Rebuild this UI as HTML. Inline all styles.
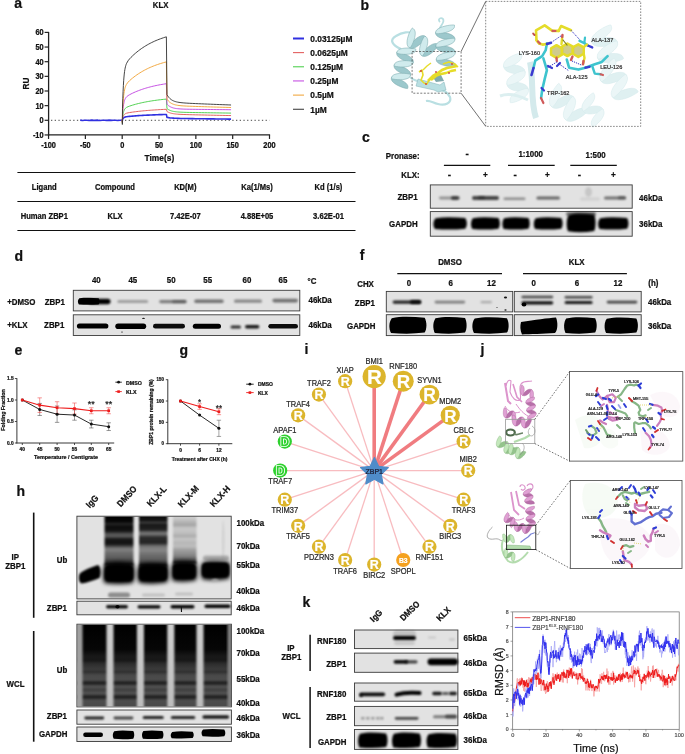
<!DOCTYPE html>
<html><head><meta charset="utf-8"><style>
html,body{margin:0;padding:0;background:#fff;}
svg{display:block;font-family:"Liberation Sans", sans-serif;filter:blur(0.35px);}
</style></head><body>
<svg width="685" height="754" viewBox="0 0 685 754">
<defs>
<filter id="b04" x="-30%" y="-200%" width="160%" height="500%"><feGaussianBlur stdDeviation="0.4"/></filter>
<filter id="b08" x="-30%" y="-200%" width="160%" height="500%"><feGaussianBlur stdDeviation="0.8"/></filter>
<filter id="b12" x="-30%" y="-200%" width="160%" height="500%"><feGaussianBlur stdDeviation="1.2"/></filter>
<filter id="b2" x="-30%" y="-200%" width="160%" height="500%"><feGaussianBlur stdDeviation="2"/></filter>
<filter id="b3" x="-30%" y="-200%" width="160%" height="500%"><feGaussianBlur stdDeviation="3"/></filter>
</defs>
<rect width="685" height="754" fill="#fff"/>
<text x="14.20" y="7.70" font-size="14" font-weight="bold" text-anchor="start" fill="#111" stroke="#111" stroke-width="0.22">a</text>
<text x="160.60" y="8.43" font-size="7.8" font-weight="bold" text-anchor="middle" fill="#111" stroke="#111" stroke-width="0.22" transform="translate(0 8.43) scale(1 1.1) translate(0 -8.43)">KLX</text>
<line x1="48.60" y1="31.90" x2="48.60" y2="135.65" stroke="#222" stroke-width="1.3"/>
<line x1="48.00" y1="134.95" x2="270.10" y2="134.95" stroke="#222" stroke-width="1.3"/>
<line x1="44.60" y1="134.95" x2="48.60" y2="134.95" stroke="#222" stroke-width="1.2"/>
<text x="43.60" y="137.92" font-size="7.4" font-weight="bold" text-anchor="end" fill="#111" stroke="#111" stroke-width="0.22" transform="translate(0 137.92) scale(1 1.1) translate(0 -137.92)">-10</text>
<line x1="44.60" y1="120.30" x2="48.60" y2="120.30" stroke="#222" stroke-width="1.2"/>
<text x="43.60" y="123.27" font-size="7.4" font-weight="bold" text-anchor="end" fill="#111" stroke="#111" stroke-width="0.22" transform="translate(0 123.27) scale(1 1.1) translate(0 -123.27)">0</text>
<line x1="44.60" y1="105.65" x2="48.60" y2="105.65" stroke="#222" stroke-width="1.2"/>
<text x="43.60" y="108.62" font-size="7.4" font-weight="bold" text-anchor="end" fill="#111" stroke="#111" stroke-width="0.22" transform="translate(0 108.62) scale(1 1.1) translate(0 -108.62)">10</text>
<line x1="44.60" y1="91.00" x2="48.60" y2="91.00" stroke="#222" stroke-width="1.2"/>
<text x="43.60" y="93.97" font-size="7.4" font-weight="bold" text-anchor="end" fill="#111" stroke="#111" stroke-width="0.22" transform="translate(0 93.97) scale(1 1.1) translate(0 -93.97)">20</text>
<line x1="44.60" y1="76.35" x2="48.60" y2="76.35" stroke="#222" stroke-width="1.2"/>
<text x="43.60" y="79.32" font-size="7.4" font-weight="bold" text-anchor="end" fill="#111" stroke="#111" stroke-width="0.22" transform="translate(0 79.32) scale(1 1.1) translate(0 -79.32)">30</text>
<line x1="44.60" y1="61.70" x2="48.60" y2="61.70" stroke="#222" stroke-width="1.2"/>
<text x="43.60" y="64.67" font-size="7.4" font-weight="bold" text-anchor="end" fill="#111" stroke="#111" stroke-width="0.22" transform="translate(0 64.67) scale(1 1.1) translate(0 -64.67)">40</text>
<line x1="44.60" y1="47.05" x2="48.60" y2="47.05" stroke="#222" stroke-width="1.2"/>
<text x="43.60" y="50.02" font-size="7.4" font-weight="bold" text-anchor="end" fill="#111" stroke="#111" stroke-width="0.22" transform="translate(0 50.02) scale(1 1.1) translate(0 -50.02)">50</text>
<line x1="44.60" y1="32.40" x2="48.60" y2="32.40" stroke="#222" stroke-width="1.2"/>
<text x="43.60" y="35.37" font-size="7.4" font-weight="bold" text-anchor="end" fill="#111" stroke="#111" stroke-width="0.22" transform="translate(0 35.37) scale(1 1.1) translate(0 -35.37)">60</text>
<line x1="48.55" y1="134.95" x2="48.55" y2="138.95" stroke="#222" stroke-width="1.2"/>
<text x="48.55" y="148.07" font-size="7.4" font-weight="bold" text-anchor="middle" fill="#111" stroke="#111" stroke-width="0.22" transform="translate(0 148.07) scale(1 1.1) translate(0 -148.07)">-100</text>
<line x1="85.38" y1="134.95" x2="85.38" y2="138.95" stroke="#222" stroke-width="1.2"/>
<text x="85.38" y="148.07" font-size="7.4" font-weight="bold" text-anchor="middle" fill="#111" stroke="#111" stroke-width="0.22" transform="translate(0 148.07) scale(1 1.1) translate(0 -148.07)">-50</text>
<line x1="122.20" y1="134.95" x2="122.20" y2="138.95" stroke="#222" stroke-width="1.2"/>
<text x="122.20" y="148.07" font-size="7.4" font-weight="bold" text-anchor="middle" fill="#111" stroke="#111" stroke-width="0.22" transform="translate(0 148.07) scale(1 1.1) translate(0 -148.07)">0</text>
<line x1="159.03" y1="134.95" x2="159.03" y2="138.95" stroke="#222" stroke-width="1.2"/>
<text x="159.03" y="148.07" font-size="7.4" font-weight="bold" text-anchor="middle" fill="#111" stroke="#111" stroke-width="0.22" transform="translate(0 148.07) scale(1 1.1) translate(0 -148.07)">50</text>
<line x1="195.85" y1="134.95" x2="195.85" y2="138.95" stroke="#222" stroke-width="1.2"/>
<text x="195.85" y="148.07" font-size="7.4" font-weight="bold" text-anchor="middle" fill="#111" stroke="#111" stroke-width="0.22" transform="translate(0 148.07) scale(1 1.1) translate(0 -148.07)">100</text>
<line x1="232.68" y1="134.95" x2="232.68" y2="138.95" stroke="#222" stroke-width="1.2"/>
<text x="232.68" y="148.07" font-size="7.4" font-weight="bold" text-anchor="middle" fill="#111" stroke="#111" stroke-width="0.22" transform="translate(0 148.07) scale(1 1.1) translate(0 -148.07)">150</text>
<line x1="269.50" y1="134.95" x2="269.50" y2="138.95" stroke="#222" stroke-width="1.2"/>
<text x="269.50" y="148.07" font-size="7.4" font-weight="bold" text-anchor="middle" fill="#111" stroke="#111" stroke-width="0.22" transform="translate(0 148.07) scale(1 1.1) translate(0 -148.07)">200</text>
<text x="25.30" y="86.73" font-size="8.3" font-weight="bold" text-anchor="middle" fill="#111" stroke="#111" stroke-width="0.22" transform="rotate(-90 25.30 83.40) translate(0 86.73) scale(1 1.1) translate(0 -86.73)">RU</text>
<text x="159.40" y="161.37" font-size="8.4" font-weight="bold" text-anchor="middle" fill="#111" stroke="#111" stroke-width="0.22" transform="translate(0 161.37) scale(1 1.1) translate(0 -161.37)">Time(s)</text>
<line x1="51.00" y1="120.30" x2="269.50" y2="120.30" stroke="#333" stroke-width="0.9" stroke-dasharray="1.3,2.4"/>
<polyline points="80.22,120.16 82.43,120.43 84.64,120.25 86.85,120.24 89.06,120.44 91.27,120.16 93.48,120.36 95.69,120.35 97.90,120.17 100.11,120.44 102.31,120.22 104.52,120.27 106.73,120.42 108.94,120.16 111.15,120.39 113.36,120.32 115.57,120.19 117.78,120.45 119.99,120.20 122.20,120.30 122.35,120.56 122.49,119.55 122.79,118.97 123.08,118.50 123.38,118.13 123.67,117.84 123.97,117.60 124.26,117.41 124.56,117.25 124.85,117.13 125.15,117.02 125.44,116.93 125.74,116.86 126.03,116.79 126.32,116.73 126.62,116.68 128.09,116.49 129.56,116.34 131.04,116.21 132.51,116.08 133.98,115.97 135.46,115.86 136.93,115.75 138.40,115.65 139.88,115.56 141.35,115.47 142.82,115.38 144.30,115.30 145.77,115.22 147.24,115.15 148.71,115.08 150.19,115.01 151.66,114.95 153.13,114.89 154.61,114.83 156.08,114.77 157.55,114.72 159.03,114.67 160.50,114.63 161.97,114.58 163.44,114.54 164.92,114.50 166.39,114.46 166.98,117.37 167.72,117.52 168.45,117.64 169.19,117.75 169.93,117.85 170.66,117.93 171.40,118.00 172.13,118.06 172.87,118.12 173.61,118.17 174.34,118.21 175.08,118.25 175.82,118.28 176.55,118.31 177.29,118.34 178.03,118.36 180.97,118.44 183.92,118.51 186.86,118.56 189.81,118.61 192.76,118.65 195.70,118.69 198.65,118.73 201.59,118.77 204.54,118.81 207.49,118.85 210.43,118.88 213.38,118.92 216.32,118.95 219.27,118.99 222.22,119.02 225.16,119.05 228.11,119.08 231.05,119.11" fill="none" stroke="#3030e0" stroke-width="1.6" stroke-linejoin="round"/>
<polyline points="122.20,120.30 122.35,120.82 122.49,118.82 122.79,117.65 123.08,116.73 123.38,116.00 123.67,115.42 123.97,114.95 124.26,114.58 124.56,114.28 124.85,114.03 125.15,113.83 125.44,113.66 125.74,113.51 126.03,113.39 126.32,113.28 126.62,113.19 128.09,112.84 129.56,112.57 131.04,112.34 132.51,112.12 133.98,111.92 135.46,111.73 136.93,111.55 138.40,111.37 139.88,111.21 141.35,111.05 142.82,110.90 144.30,110.76 145.77,110.63 147.24,110.50 148.71,110.38 150.19,110.26 151.66,110.15 153.13,110.04 154.61,109.94 156.08,109.85 157.55,109.76 159.03,109.67 160.50,109.59 161.97,109.51 163.44,109.44 164.92,109.37 166.39,109.30 166.98,111.51 167.72,111.93 168.45,112.29 169.19,112.60 169.93,112.87 170.66,113.09 171.40,113.29 172.13,113.46 172.87,113.60 173.61,113.73 174.34,113.83 175.08,113.93 175.82,114.01 176.55,114.08 177.29,114.15 178.03,114.21 180.97,114.38 183.92,114.51 186.86,114.60 189.81,114.69 192.76,114.76 195.70,114.83 198.65,114.90 201.59,114.97 204.54,115.03 207.49,115.10 210.43,115.16 213.38,115.22 216.32,115.29 219.27,115.35 222.22,115.41 225.16,115.47 228.11,115.53 231.05,115.58" fill="none" stroke="#e05050" stroke-width="0.9" stroke-linejoin="round"/>
<polyline points="122.20,120.30 122.35,121.21 122.49,117.65 122.79,115.55 123.08,113.90 123.38,112.58 123.67,111.53 123.97,110.69 124.26,110.01 124.56,109.45 124.85,108.99 125.15,108.61 125.44,108.29 125.74,108.02 126.03,107.78 126.32,107.57 126.62,107.39 128.09,106.67 129.56,106.11 131.04,105.61 132.51,105.15 133.98,104.72 135.46,104.31 136.93,103.92 138.40,103.54 139.88,103.19 141.35,102.85 142.82,102.53 144.30,102.23 145.77,101.94 147.24,101.66 148.71,101.40 150.19,101.15 151.66,100.91 153.13,100.68 154.61,100.47 156.08,100.26 157.55,100.07 159.03,99.88 160.50,99.71 161.97,99.54 163.44,99.38 164.92,99.23 166.39,99.09 166.98,108.58 167.72,109.13 168.45,109.60 169.19,110.00 169.93,110.34 170.66,110.63 171.40,110.88 172.13,111.09 172.87,111.27 173.61,111.42 174.34,111.55 175.08,111.67 175.82,111.77 176.55,111.85 177.29,111.93 178.03,111.99 180.97,112.18 183.92,112.30 186.86,112.38 189.81,112.45 192.76,112.51 195.70,112.56 198.65,112.61 201.59,112.65 204.54,112.70 207.49,112.75 210.43,112.79 213.38,112.84 216.32,112.88 219.27,112.92 222.22,112.97 225.16,113.01 228.11,113.06 231.05,113.10" fill="none" stroke="#40cc40" stroke-width="0.9" stroke-linejoin="round"/>
<polyline points="122.20,120.30 122.35,122.00 122.49,115.40 122.79,111.55 123.08,108.51 123.38,106.10 123.67,104.18 123.97,102.65 124.26,101.41 124.56,100.41 124.85,99.59 125.15,98.92 125.44,98.36 125.74,97.88 126.03,97.47 126.32,97.12 126.62,96.80 128.09,95.62 129.56,94.72 131.04,93.94 132.51,93.22 133.98,92.54 135.46,91.89 136.93,91.28 138.40,90.69 139.88,90.13 141.35,89.60 142.82,89.10 144.30,88.62 145.77,88.17 147.24,87.73 148.71,87.32 150.19,86.93 151.66,86.56 153.13,86.20 154.61,85.86 156.08,85.54 157.55,85.24 159.03,84.95 160.50,84.67 161.97,84.41 163.44,84.16 164.92,83.92 166.39,83.69 166.98,104.19 167.72,104.94 168.45,105.57 169.19,106.11 169.93,106.57 170.66,106.96 171.40,107.29 172.13,107.57 172.87,107.81 173.61,108.02 174.34,108.19 175.08,108.34 175.82,108.47 176.55,108.58 177.29,108.67 178.03,108.75 180.97,108.98 183.92,109.11 186.86,109.19 189.81,109.25 192.76,109.30 195.70,109.34 198.65,109.38 201.59,109.41 204.54,109.44 207.49,109.48 210.43,109.51 213.38,109.54 216.32,109.58 219.27,109.61 222.22,109.64 225.16,109.67 228.11,109.70 231.05,109.74" fill="none" stroke="#c040e0" stroke-width="0.9" stroke-linejoin="round"/>
<polyline points="122.20,120.30 122.35,122.88 122.49,112.84 122.79,106.95 123.08,102.30 123.38,98.61 123.67,95.66 123.97,93.30 124.26,91.39 124.56,89.84 124.85,88.57 125.15,87.51 125.44,86.62 125.74,85.86 126.03,85.21 126.32,84.64 126.62,84.13 128.09,82.18 129.56,80.68 131.04,79.35 132.51,78.12 133.98,76.96 135.46,75.86 136.93,74.81 138.40,73.82 139.88,72.87 141.35,71.97 142.82,71.11 144.30,70.29 145.77,69.52 147.24,68.78 148.71,68.07 150.19,67.41 151.66,66.77 153.13,66.17 154.61,65.59 156.08,65.04 157.55,64.52 159.03,64.03 160.50,63.56 161.97,63.11 163.44,62.68 164.92,62.28 166.39,61.89 166.98,99.20 167.72,100.20 168.45,101.05 169.19,101.77 169.93,102.38 170.66,102.90 171.40,103.35 172.13,103.73 172.87,104.06 173.61,104.34 174.34,104.58 175.08,104.79 175.82,104.97 176.55,105.12 177.29,105.26 178.03,105.38 180.97,105.72 183.92,105.95 186.86,106.11 189.81,106.23 192.76,106.34 195.70,106.45 198.65,106.54 201.59,106.63 204.54,106.73 207.49,106.82 210.43,106.91 213.38,106.99 216.32,107.08 219.27,107.17 222.22,107.26 225.16,107.34 228.11,107.43 231.05,107.51" fill="none" stroke="#f0a030" stroke-width="0.9" stroke-linejoin="round"/>
<polyline points="122.20,120.30 122.35,124.52 122.49,108.24 122.79,98.77 123.08,91.30 123.38,85.41 123.67,80.74 123.97,77.02 124.26,74.05 124.56,71.66 124.85,69.71 125.15,68.13 125.44,66.81 125.74,65.71 126.03,64.78 126.32,63.99 126.62,63.29 128.09,60.75 129.56,58.91 131.04,57.34 132.51,55.89 133.98,54.52 135.46,53.23 136.93,52.00 138.40,50.83 139.88,49.71 141.35,48.65 142.82,47.65 144.30,46.69 145.77,45.78 147.24,44.91 148.71,44.09 150.19,43.30 151.66,42.56 153.13,41.85 154.61,41.17 156.08,40.53 157.55,39.92 159.03,39.34 160.50,38.78 161.97,38.26 163.44,37.76 164.92,37.28 166.39,36.83 166.98,94.66 167.72,95.88 168.45,96.91 169.19,97.79 169.93,98.54 170.66,99.18 171.40,99.72 172.13,100.19 172.87,100.59 173.61,100.93 174.34,101.23 175.08,101.48 175.82,101.70 176.55,101.90 177.29,102.06 178.03,102.21 180.97,102.65 183.92,102.93 186.86,103.14 189.81,103.30 192.76,103.45 195.70,103.58 198.65,103.71 201.59,103.84 204.54,103.96 207.49,104.08 210.43,104.20 213.38,104.32 216.32,104.43 219.27,104.55 222.22,104.67 225.16,104.78 228.11,104.89 231.05,105.01" fill="none" stroke="#303030" stroke-width="0.9" stroke-linejoin="round"/>
<line x1="293.00" y1="38.50" x2="304.00" y2="38.50" stroke="#3030e0" stroke-width="2"/>
<text x="310.30" y="41.87" font-size="8.4" font-weight="bold" text-anchor="start" fill="#111" stroke="#111" stroke-width="0.22" transform="translate(0 41.87) scale(1 1.1) translate(0 -41.87)">0.03125µM</text>
<line x1="293.00" y1="52.65" x2="304.00" y2="52.65" stroke="#e05050" stroke-width="1"/>
<text x="310.30" y="56.02" font-size="8.4" font-weight="bold" text-anchor="start" fill="#111" stroke="#111" stroke-width="0.22" transform="translate(0 56.02) scale(1 1.1) translate(0 -56.02)">0.0625µM</text>
<line x1="293.00" y1="66.80" x2="304.00" y2="66.80" stroke="#40cc40" stroke-width="1"/>
<text x="310.30" y="70.17" font-size="8.4" font-weight="bold" text-anchor="start" fill="#111" stroke="#111" stroke-width="0.22" transform="translate(0 70.17) scale(1 1.1) translate(0 -70.17)">0.125µM</text>
<line x1="293.00" y1="80.95" x2="304.00" y2="80.95" stroke="#c040e0" stroke-width="1"/>
<text x="310.30" y="84.32" font-size="8.4" font-weight="bold" text-anchor="start" fill="#111" stroke="#111" stroke-width="0.22" transform="translate(0 84.32) scale(1 1.1) translate(0 -84.32)">0.25µM</text>
<line x1="293.00" y1="95.10" x2="304.00" y2="95.10" stroke="#f0a030" stroke-width="1"/>
<text x="310.30" y="98.47" font-size="8.4" font-weight="bold" text-anchor="start" fill="#111" stroke="#111" stroke-width="0.22" transform="translate(0 98.47) scale(1 1.1) translate(0 -98.47)">0.5µM</text>
<line x1="293.00" y1="109.25" x2="304.00" y2="109.25" stroke="#303030" stroke-width="1"/>
<text x="310.30" y="112.62" font-size="8.4" font-weight="bold" text-anchor="start" fill="#111" stroke="#111" stroke-width="0.22" transform="translate(0 112.62) scale(1 1.1) translate(0 -112.62)">1µM</text>
<line x1="17.40" y1="172.50" x2="355.50" y2="172.50" stroke="#111" stroke-width="1.1"/>
<line x1="17.40" y1="201.50" x2="355.50" y2="201.50" stroke="#111" stroke-width="1.1"/>
<line x1="17.40" y1="230.50" x2="355.50" y2="230.50" stroke="#111" stroke-width="1.1"/>
<text x="44.30" y="190.05" font-size="7.6" font-weight="bold" text-anchor="middle" fill="#111" stroke="#111" stroke-width="0.22" transform="translate(0 190.05) scale(1 1.1) translate(0 -190.05)">Ligand</text>
<text x="115.00" y="190.05" font-size="7.6" font-weight="bold" text-anchor="middle" fill="#111" stroke="#111" stroke-width="0.22" transform="translate(0 190.05) scale(1 1.1) translate(0 -190.05)">Compound</text>
<text x="185.30" y="190.05" font-size="7.6" font-weight="bold" text-anchor="middle" fill="#111" stroke="#111" stroke-width="0.22" transform="translate(0 190.05) scale(1 1.1) translate(0 -190.05)">KD(M)</text>
<text x="257.00" y="190.05" font-size="7.6" font-weight="bold" text-anchor="middle" fill="#111" stroke="#111" stroke-width="0.22" transform="translate(0 190.05) scale(1 1.1) translate(0 -190.05)">Ka(1/Ms)</text>
<text x="328.50" y="190.05" font-size="7.6" font-weight="bold" text-anchor="middle" fill="#111" stroke="#111" stroke-width="0.22" transform="translate(0 190.05) scale(1 1.1) translate(0 -190.05)">Kd (1/s)</text>
<text x="44.30" y="219.05" font-size="7.6" font-weight="bold" text-anchor="middle" fill="#111" stroke="#111" stroke-width="0.22" transform="translate(0 219.05) scale(1 1.1) translate(0 -219.05)">Human ZBP1</text>
<text x="115.00" y="219.05" font-size="7.6" font-weight="bold" text-anchor="middle" fill="#111" stroke="#111" stroke-width="0.22" transform="translate(0 219.05) scale(1 1.1) translate(0 -219.05)">KLX</text>
<text x="185.30" y="219.05" font-size="7.6" font-weight="bold" text-anchor="middle" fill="#111" stroke="#111" stroke-width="0.22" transform="translate(0 219.05) scale(1 1.1) translate(0 -219.05)">7.42E-07</text>
<text x="257.00" y="219.05" font-size="7.6" font-weight="bold" text-anchor="middle" fill="#111" stroke="#111" stroke-width="0.22" transform="translate(0 219.05) scale(1 1.1) translate(0 -219.05)">4.88E+05</text>
<text x="328.50" y="219.05" font-size="7.6" font-weight="bold" text-anchor="middle" fill="#111" stroke="#111" stroke-width="0.22" transform="translate(0 219.05) scale(1 1.1) translate(0 -219.05)">3.62E-01</text>
<text x="360.50" y="10.10" font-size="14" font-weight="bold" text-anchor="start" fill="#111" stroke="#111" stroke-width="0.22">b</text>
<path d="M401,49 C392,45 389,40 396,36 C402,32 410,31 414,34" fill="none" stroke="#b9dfe2" stroke-width="2.2"/>
<path d="M440,22 C437,19 441,17 443,19 C445,22 441,25 440,28 L438,32" fill="none" stroke="#b9dfe2" stroke-width="1.8"/>
<path d="M434,88 C440,89 448,92 450,97 C452,103 445,106 438,104 C433,103 430,100 426,101" fill="none" stroke="#b9dfe2" stroke-width="2.2"/>
<path d="M410,77 C412,80 416,80 419,82" fill="none" stroke="#b9dfe2" stroke-width="2"/>
<path d="M396.73,53.12 L396.78,54.36 L397.42,55.69 L398.59,57.04 L400.22,58.36 L402.18,59.59 L404.33,60.68 L406.52,61.60 L408.58,62.32 L410.38,62.83 L411.78,63.12 L412.68,63.22 L413.01,63.16 L413.27,61.88 L413.22,60.64 L412.58,59.31 L411.41,57.96 L409.78,56.64 L407.82,55.41 L405.67,54.32 L403.48,53.40 L401.42,52.68 L399.62,52.17 L398.22,51.88 L397.32,51.78 L396.99,51.84Z" fill="#9cc8cc" stroke="#7aaaae" stroke-width="0.55" stroke-linejoin="round"/><path d="M394.06,65.78 L394.11,67.03 L394.75,68.36 L395.93,69.71 L397.55,71.02 L399.51,72.25 L401.66,73.35 L403.85,74.27 L405.92,74.99 L407.71,75.50 L409.11,75.79 L410.01,75.89 L410.34,75.82 L410.61,74.55 L410.56,73.30 L409.92,71.98 L408.74,70.63 L407.11,69.31 L405.15,68.08 L403.00,66.99 L400.82,66.07 L398.75,65.34 L396.95,64.84 L395.55,64.54 L394.65,64.44 L394.33,64.51Z" fill="#9cc8cc" stroke="#7aaaae" stroke-width="0.55" stroke-linejoin="round"/><path d="M391.39,78.45 L391.44,79.70 L392.08,81.02 L393.26,82.37 L394.89,83.69 L396.85,84.92 L399.00,86.01 L401.18,86.93 L403.25,87.66 L405.05,88.16 L406.45,88.46 L407.35,88.56 L407.67,88.49 L407.94,87.22 L407.89,85.97 L407.25,84.64 L406.07,83.29 L404.45,81.98 L402.49,80.75 L400.34,79.65 L398.15,78.73 L396.08,78.01 L394.29,77.50 L392.89,77.21 L391.99,77.11 L391.66,77.18Z" fill="#9cc8cc" stroke="#7aaaae" stroke-width="0.55" stroke-linejoin="round"/><path d="M415.67,50.49 L415.12,51.61 L414.00,52.57 L412.38,53.33 L410.36,53.88 L408.07,54.21 L405.66,54.35 L403.29,54.31 L401.11,54.13 L399.26,53.87 L397.86,53.58 L397.00,53.31 L396.73,53.12 L396.99,51.84 L397.54,50.72 L398.66,49.76 L400.29,49.00 L402.31,48.46 L404.59,48.12 L407.00,47.99 L409.38,48.03 L411.56,48.20 L413.41,48.46 L414.81,48.75 L415.67,49.02 L415.94,49.22Z" fill="#d0ebed" stroke="#7aaaae" stroke-width="0.55" stroke-linejoin="round"/><path d="M413.01,63.16 L412.46,64.28 L411.34,65.24 L409.71,66.00 L407.69,66.54 L405.41,66.88 L403.00,67.01 L400.62,66.97 L398.44,66.80 L396.59,66.54 L395.19,66.25 L394.33,65.98 L394.06,65.78 L394.33,64.51 L394.88,63.39 L396.00,62.43 L397.62,61.67 L399.64,61.12 L401.93,60.79 L404.34,60.65 L406.71,60.69 L408.89,60.87 L410.74,61.13 L412.14,61.42 L413.00,61.69 L413.27,61.88Z" fill="#d0ebed" stroke="#7aaaae" stroke-width="0.55" stroke-linejoin="round"/><path d="M410.34,75.82 L409.79,76.95 L408.67,77.90 L407.05,78.66 L405.03,79.21 L402.74,79.55 L400.33,79.68 L397.96,79.64 L395.78,79.47 L393.93,79.21 L392.53,78.91 L391.67,78.64 L391.39,78.45 L391.66,77.18 L392.21,76.05 L393.33,75.10 L394.95,74.34 L396.97,73.79 L399.26,73.45 L401.67,73.32 L404.04,73.36 L406.22,73.53 L408.07,73.79 L409.47,74.09 L410.33,74.36 L410.61,74.55Z" fill="#d0ebed" stroke="#7aaaae" stroke-width="0.55" stroke-linejoin="round"/>
<path d="M409.99,47.96 L411.28,48.42 L412.86,48.36 L414.64,47.80 L416.54,46.81 L418.47,45.46 L420.32,43.89 L422.02,42.21 L423.47,40.56 L424.63,39.08 L425.43,37.90 L425.87,37.11 L425.94,36.80 L424.76,36.04 L423.47,35.58 L421.89,35.64 L420.11,36.20 L418.21,37.19 L416.28,38.54 L414.43,40.11 L412.73,41.79 L411.28,43.44 L410.12,44.92 L409.32,46.10 L408.88,46.89 L408.81,47.20Z" fill="#9cc8cc" stroke="#7aaaae" stroke-width="0.55" stroke-linejoin="round"/><path d="M422.49,55.96 L423.78,56.42 L425.36,56.36 L427.14,55.80 L429.04,54.81 L430.97,53.46 L432.82,51.89 L434.52,50.21 L435.97,48.56 L437.13,47.08 L437.93,45.90 L438.37,45.11 L438.44,44.80 L437.26,44.04 L435.97,43.58 L434.39,43.64 L432.61,44.20 L430.71,45.19 L428.78,46.54 L426.93,48.11 L425.23,49.79 L423.78,51.44 L422.62,52.92 L421.82,54.10 L421.38,54.89 L421.31,55.20Z" fill="#9cc8cc" stroke="#7aaaae" stroke-width="0.55" stroke-linejoin="round"/><path d="M413.44,28.80 L414.41,29.78 L415.01,31.23 L415.25,33.08 L415.14,35.23 L414.73,37.54 L414.07,39.89 L413.26,42.13 L412.37,44.14 L411.51,45.80 L410.78,47.03 L410.24,47.76 L409.99,47.96 L408.81,47.20 L407.84,46.22 L407.24,44.77 L407.00,42.92 L407.11,40.77 L407.52,38.46 L408.18,36.11 L408.99,33.87 L409.88,31.86 L410.74,30.20 L411.47,28.97 L412.01,28.24 L412.26,28.04Z" fill="#d0ebed" stroke="#7aaaae" stroke-width="0.55" stroke-linejoin="round"/><path d="M425.94,36.80 L426.91,37.78 L427.51,39.23 L427.75,41.08 L427.64,43.23 L427.23,45.54 L426.57,47.89 L425.76,50.13 L424.87,52.14 L424.01,53.80 L423.28,55.03 L422.74,55.76 L422.49,55.96 L421.31,55.20 L420.34,54.22 L419.74,52.77 L419.50,50.92 L419.61,48.77 L420.02,46.46 L420.68,44.11 L421.49,41.87 L422.38,39.86 L423.24,38.20 L423.97,36.97 L424.51,36.24 L424.76,36.04Z" fill="#d0ebed" stroke="#7aaaae" stroke-width="0.55" stroke-linejoin="round"/>
<path d="M435.69,33.55 L436.04,34.77 L437.02,35.93 L438.56,36.99 L440.55,37.91 L442.86,38.67 L445.33,39.25 L447.80,39.65 L450.10,39.89 L452.07,39.99 L453.58,39.97 L454.53,39.87 L454.85,39.75 L454.81,38.45 L454.46,37.23 L453.48,36.07 L451.94,35.01 L449.95,34.09 L447.64,33.33 L445.17,32.75 L442.70,32.35 L440.40,32.11 L438.43,32.01 L436.92,32.03 L435.97,32.13 L435.65,32.25Z" fill="#9cc8cc" stroke="#7aaaae" stroke-width="0.55" stroke-linejoin="round"/><path d="M436.02,46.89 L436.37,48.11 L437.35,49.27 L438.89,50.32 L440.88,51.24 L443.19,52.00 L445.66,52.58 L448.13,52.99 L450.43,53.23 L452.40,53.32 L453.91,53.30 L454.86,53.20 L455.18,53.08 L455.15,51.78 L454.79,50.56 L453.81,49.40 L452.28,48.34 L450.29,47.42 L447.98,46.67 L445.50,46.08 L443.03,45.68 L440.73,45.44 L438.76,45.35 L437.25,45.37 L436.31,45.46 L435.99,45.59Z" fill="#9cc8cc" stroke="#7aaaae" stroke-width="0.55" stroke-linejoin="round"/><path d="M436.35,60.22 L436.71,61.44 L437.69,62.60 L439.22,63.66 L441.21,64.58 L443.52,65.33 L446.00,65.92 L448.47,66.32 L450.77,66.56 L452.74,66.65 L454.25,66.63 L455.19,66.54 L455.51,66.41 L455.48,65.11 L455.13,63.89 L454.15,62.73 L452.61,61.68 L450.62,60.76 L448.31,60.00 L445.84,59.42 L443.37,59.01 L441.07,58.77 L439.10,58.68 L437.59,58.70 L436.64,58.80 L436.32,58.92Z" fill="#9cc8cc" stroke="#7aaaae" stroke-width="0.55" stroke-linejoin="round"/><path d="M454.51,26.41 L454.22,27.65 L453.30,28.85 L451.82,29.99 L449.88,31.00 L447.61,31.88 L445.16,32.58 L442.72,33.11 L440.44,33.46 L438.47,33.66 L436.96,33.71 L436.01,33.66 L435.69,33.55 L435.65,32.25 L435.95,31.02 L436.87,29.81 L438.35,28.68 L440.29,27.66 L442.56,26.79 L445.00,26.08 L447.45,25.56 L449.73,25.20 L451.69,25.01 L453.20,24.96 L454.15,25.00 L454.48,25.11Z" fill="#d0ebed" stroke="#7aaaae" stroke-width="0.55" stroke-linejoin="round"/><path d="M454.85,39.75 L454.55,40.98 L453.63,42.19 L452.15,43.32 L450.21,44.34 L447.94,45.21 L445.50,45.92 L443.05,46.44 L440.77,46.80 L438.81,46.99 L437.30,47.04 L436.35,47.00 L436.02,46.89 L435.99,45.59 L436.28,44.35 L437.20,43.15 L438.68,42.01 L440.62,41.00 L442.89,40.12 L445.34,39.42 L447.78,38.89 L450.06,38.54 L452.03,38.34 L453.54,38.29 L454.49,38.34 L454.81,38.45Z" fill="#d0ebed" stroke="#7aaaae" stroke-width="0.55" stroke-linejoin="round"/><path d="M455.18,53.08 L454.89,54.32 L453.97,55.52 L452.49,56.65 L450.54,57.67 L448.27,58.54 L445.83,59.25 L443.38,59.78 L441.10,60.13 L439.14,60.32 L437.63,60.38 L436.68,60.33 L436.35,60.22 L436.32,58.92 L436.61,57.68 L437.53,56.48 L439.01,55.35 L440.96,54.33 L443.23,53.46 L445.67,52.75 L448.12,52.22 L450.40,51.87 L452.36,51.68 L453.87,51.62 L454.82,51.67 L455.15,51.78Z" fill="#d0ebed" stroke="#7aaaae" stroke-width="0.55" stroke-linejoin="round"/>
<path d="M418,79 L440,85 L444,82 L446,90 L438,92 L434,90 L416,86 Z" fill="#b9dfe2" stroke="#8dbbbf" stroke-width="0.6"/>
<path d="M432,76 L440,73 L444,81 L436,82 Z" fill="#7fa9ad"/>
<polyline points="419.00,72.00 422.00,70.00 423.00,75.00 421.00,80.00 424.00,83.00 427.00,84.00 429.00,80.00" fill="none" stroke="#e6dc28" stroke-width="1.6" stroke-linejoin="round"/>
<polyline points="423.00,70.00 427.00,66.00 431.00,63.00" fill="none" stroke="#e6dc28" stroke-width="1.4" stroke-linejoin="round"/>
<polyline points="428.00,81.00 433.00,76.00 438.00,73.00 442.00,70.00 447.00,68.00 452.00,67.00 457.00,66.00" fill="none" stroke="#e6dc28" stroke-width="2.8" stroke-linejoin="round"/>
<polyline points="431.00,80.00 436.00,76.00 441.00,74.00 446.00,73.00 451.00,71.00 456.00,70.00" fill="none" stroke="#e6dc28" stroke-width="2.4" stroke-linejoin="round"/>
<polyline points="443.00,64.00 449.00,62.00 455.00,64.00 458.00,67.00" fill="none" stroke="#e6dc28" stroke-width="1.5" stroke-linejoin="round"/>
<ellipse cx="421.00" cy="71.00" rx="0.90" ry="0.90" fill="#d04040"/>
<ellipse cx="426.00" cy="84.00" rx="0.90" ry="0.90" fill="#d04040"/>
<ellipse cx="436.00" cy="72.00" rx="0.90" ry="0.90" fill="#d04040"/>
<ellipse cx="452.00" cy="64.00" rx="0.90" ry="0.90" fill="#d04040"/>
<ellipse cx="449.00" cy="73.00" rx="0.90" ry="0.90" fill="#d04040"/>
<rect x="412.10" y="51.50" width="49.00" height="41.70" fill="none" stroke="#444" stroke-width="0.7" stroke-dasharray="2,1.5"/>
<line x1="461.10" y1="51.50" x2="485.70" y2="1.40" stroke="#333" stroke-width="0.7"/>
<line x1="461.10" y1="93.20" x2="485.70" y2="126.30" stroke="#333" stroke-width="0.7"/>
<path d="M503.92,67.47 L504.56,69.06 L505.83,70.47 L507.66,71.65 L509.93,72.58 L512.50,73.24 L515.20,73.63 L517.86,73.78 L520.30,73.73 L522.37,73.53 L523.94,73.24 L524.90,72.94 L525.20,72.70 L524.88,70.93 L524.24,69.34 L522.97,67.93 L521.14,66.75 L518.87,65.82 L516.30,65.16 L513.60,64.77 L510.94,64.62 L508.50,64.67 L506.43,64.87 L504.86,65.16 L503.90,65.46 L503.60,65.70Z" fill="#dff0f1" stroke="#d2e8ea" stroke-width="0.5" stroke-linejoin="round"/><path d="M507.12,85.07 L507.76,86.66 L509.03,88.07 L510.86,89.25 L513.13,90.18 L515.70,90.84 L518.40,91.23 L521.06,91.38 L523.50,91.33 L525.57,91.13 L527.14,90.84 L528.10,90.54 L528.40,90.30 L528.08,88.53 L527.44,86.94 L526.17,85.53 L524.34,84.35 L522.07,83.42 L519.50,82.76 L516.80,82.37 L514.14,82.22 L511.70,82.27 L509.63,82.47 L508.06,82.76 L507.10,83.06 L506.80,83.30Z" fill="#dff0f1" stroke="#d2e8ea" stroke-width="0.5" stroke-linejoin="round"/><path d="M522.00,55.10 L521.96,56.81 L521.27,58.57 L519.97,60.33 L518.17,61.99 L516.00,63.51 L513.60,64.83 L511.17,65.90 L508.87,66.71 L506.86,67.25 L505.30,67.54 L504.29,67.60 L503.92,67.47 L503.60,65.70 L503.64,63.99 L504.33,62.23 L505.63,60.47 L507.43,58.81 L509.60,57.29 L512.00,55.97 L514.43,54.90 L516.73,54.09 L518.74,53.55 L520.30,53.26 L521.31,53.20 L521.68,53.33Z" fill="#ebf6f7" stroke="#d2e8ea" stroke-width="0.5" stroke-linejoin="round"/><path d="M525.20,72.70 L525.16,74.41 L524.47,76.17 L523.17,77.93 L521.37,79.59 L519.20,81.11 L516.80,82.43 L514.37,83.50 L512.07,84.31 L510.06,84.85 L508.50,85.14 L507.49,85.20 L507.12,85.07 L506.80,83.30 L506.84,81.59 L507.53,79.83 L508.83,78.07 L510.63,76.41 L512.80,74.89 L515.20,73.57 L517.63,72.50 L519.93,71.69 L521.94,71.15 L523.50,70.86 L524.51,70.80 L524.88,70.93Z" fill="#ebf6f7" stroke="#d2e8ea" stroke-width="0.5" stroke-linejoin="round"/><path d="M528.40,90.30 L528.36,92.01 L527.67,93.77 L526.37,95.53 L524.57,97.19 L522.40,98.71 L520.00,100.03 L517.57,101.10 L515.27,101.91 L513.26,102.45 L511.70,102.74 L510.69,102.80 L510.32,102.67 L510.00,100.90 L510.04,99.19 L510.73,97.43 L512.03,95.67 L513.83,94.01 L516.00,92.49 L518.40,91.17 L520.83,90.10 L523.13,89.29 L525.14,88.75 L526.70,88.46 L527.71,88.40 L528.08,88.53Z" fill="#ebf6f7" stroke="#d2e8ea" stroke-width="0.5" stroke-linejoin="round"/>
<path d="M592.08,43.06 L593.04,44.45 L594.72,45.51 L597.01,46.21 L599.79,46.54 L602.88,46.52 L606.08,46.21 L609.20,45.67 L612.03,44.99 L614.40,44.25 L616.18,43.55 L617.25,42.98 L617.55,42.63 L616.92,40.94 L615.96,39.55 L614.28,38.49 L611.99,37.79 L609.21,37.46 L606.12,37.48 L602.92,37.79 L599.80,38.33 L596.97,39.01 L594.60,39.75 L592.82,40.45 L591.75,41.02 L591.45,41.37Z" fill="#dff0f1" stroke="#d2e8ea" stroke-width="0.5" stroke-linejoin="round"/><path d="M598.08,59.06 L599.04,60.45 L600.72,61.51 L603.01,62.21 L605.79,62.54 L608.88,62.52 L612.08,62.21 L615.20,61.67 L618.03,60.99 L620.40,60.25 L622.18,59.55 L623.25,58.98 L623.55,58.63 L622.92,56.94 L621.96,55.55 L620.28,54.49 L617.99,53.79 L615.21,53.46 L612.12,53.48 L608.92,53.79 L605.80,54.33 L602.97,55.01 L600.60,55.75 L598.82,56.45 L597.75,57.02 L597.45,57.37Z" fill="#dff0f1" stroke="#d2e8ea" stroke-width="0.5" stroke-linejoin="round"/><path d="M611.55,26.63 L611.75,28.31 L611.18,30.21 L609.90,32.25 L608.03,34.32 L605.70,36.34 L603.08,38.21 L600.38,39.86 L597.79,41.20 L595.51,42.21 L593.72,42.84 L592.54,43.12 L592.08,43.06 L591.45,41.37 L591.25,39.69 L591.82,37.79 L593.10,35.75 L594.97,33.68 L597.30,31.66 L599.92,29.79 L602.62,28.14 L605.21,26.80 L607.49,25.79 L609.28,25.16 L610.46,24.88 L610.92,24.94Z" fill="#ebf6f7" stroke="#d2e8ea" stroke-width="0.5" stroke-linejoin="round"/><path d="M617.55,42.63 L617.75,44.31 L617.18,46.21 L615.90,48.25 L614.03,50.32 L611.70,52.34 L609.08,54.21 L606.38,55.86 L603.79,57.20 L601.51,58.21 L599.72,58.84 L598.54,59.12 L598.08,59.06 L597.45,57.37 L597.25,55.69 L597.82,53.79 L599.10,51.75 L600.97,49.68 L603.30,47.66 L605.92,45.79 L608.62,44.14 L611.21,42.80 L613.49,41.79 L615.28,41.16 L616.46,40.88 L616.92,40.94Z" fill="#ebf6f7" stroke="#d2e8ea" stroke-width="0.5" stroke-linejoin="round"/>
<path d="M601.53,81.73 L602.89,82.92 L604.85,83.59 L607.31,83.75 L610.14,83.43 L613.18,82.70 L616.25,81.65 L619.18,80.41 L621.80,79.09 L623.96,77.85 L625.56,76.79 L626.50,76.06 L626.77,75.73 L625.72,74.27 L624.36,73.08 L622.40,72.41 L619.94,72.25 L617.11,72.57 L614.07,73.30 L611.00,74.35 L608.07,75.59 L605.45,76.91 L603.29,78.15 L601.69,79.21 L600.75,79.94 L600.48,80.27Z" fill="#dff0f1" stroke="#d2e8ea" stroke-width="0.5" stroke-linejoin="round"/><path d="M613.03,97.73 L614.39,98.92 L616.35,99.59 L618.81,99.75 L621.64,99.43 L624.68,98.70 L627.75,97.65 L630.68,96.41 L633.30,95.09 L635.46,93.85 L637.06,92.79 L638.00,92.06 L638.27,91.73 L637.22,90.27 L635.86,89.08 L633.90,88.41 L631.44,88.25 L628.61,88.57 L625.57,89.30 L622.50,90.35 L619.57,91.59 L616.95,92.91 L614.79,94.15 L613.19,95.21 L612.25,95.94 L611.98,96.27Z" fill="#dff0f1" stroke="#d2e8ea" stroke-width="0.5" stroke-linejoin="round"/><path d="M615.27,59.73 L615.96,61.39 L615.97,63.46 L615.34,65.85 L614.13,68.43 L612.47,71.08 L610.50,73.65 L608.39,76.03 L606.31,78.10 L604.43,79.75 L602.93,80.92 L601.93,81.59 L601.53,81.73 L600.48,80.27 L599.79,78.61 L599.78,76.54 L600.41,74.15 L601.62,71.57 L603.28,68.92 L605.25,66.35 L607.36,63.97 L609.44,61.90 L611.32,60.25 L612.82,59.08 L613.82,58.41 L614.22,58.27Z" fill="#ebf6f7" stroke="#d2e8ea" stroke-width="0.5" stroke-linejoin="round"/><path d="M626.77,75.73 L627.46,77.39 L627.47,79.46 L626.84,81.85 L625.63,84.43 L623.97,87.08 L622.00,89.65 L619.89,92.03 L617.81,94.10 L615.93,95.75 L614.43,96.92 L613.43,97.59 L613.03,97.73 L611.98,96.27 L611.29,94.61 L611.28,92.54 L611.91,90.15 L613.12,87.57 L614.78,84.92 L616.75,82.35 L618.86,79.97 L620.94,77.90 L622.82,76.25 L624.32,75.08 L625.32,74.41 L625.72,74.27Z" fill="#ebf6f7" stroke="#d2e8ea" stroke-width="0.5" stroke-linejoin="round"/>
<path d="M552.17,107.17 L553.70,108.07 L555.66,108.40 L557.98,108.17 L560.53,107.43 L563.19,106.27 L565.80,104.81 L568.23,103.18 L570.35,101.54 L572.07,100.02 L573.29,98.77 L573.99,97.92 L574.14,97.55 L572.83,96.33 L571.30,95.43 L569.34,95.10 L567.02,95.33 L564.47,96.07 L561.81,97.23 L559.20,98.69 L556.77,100.32 L554.65,101.96 L552.93,103.48 L551.71,104.73 L551.01,105.58 L550.86,105.95Z" fill="#dff0f1" stroke="#d2e8ea" stroke-width="0.5" stroke-linejoin="round"/><path d="M566.17,120.17 L567.70,121.07 L569.66,121.40 L571.98,121.17 L574.53,120.43 L577.19,119.27 L579.80,117.81 L582.23,116.18 L584.35,114.54 L586.07,113.02 L587.29,111.77 L587.99,110.92 L588.14,110.55 L586.83,109.33 L585.30,108.43 L583.34,108.10 L581.02,108.33 L578.47,109.07 L575.81,110.23 L573.20,111.69 L570.77,113.32 L568.65,114.96 L566.93,116.48 L565.71,117.73 L565.01,118.58 L564.86,118.95Z" fill="#dff0f1" stroke="#d2e8ea" stroke-width="0.5" stroke-linejoin="round"/><path d="M560.14,84.55 L561.16,86.00 L561.63,87.94 L561.57,90.27 L561.02,92.87 L560.06,95.60 L558.80,98.31 L557.35,100.86 L555.87,103.10 L554.48,104.92 L553.33,106.23 L552.53,106.99 L552.17,107.17 L550.86,105.95 L549.84,104.50 L549.37,102.56 L549.43,100.23 L549.98,97.63 L550.94,94.90 L552.20,92.19 L553.65,89.64 L555.13,87.40 L556.52,85.58 L557.67,84.27 L558.47,83.51 L558.83,83.33Z" fill="#ebf6f7" stroke="#d2e8ea" stroke-width="0.5" stroke-linejoin="round"/><path d="M574.14,97.55 L575.16,99.00 L575.63,100.94 L575.57,103.27 L575.02,105.87 L574.06,108.60 L572.80,111.31 L571.35,113.86 L569.87,116.10 L568.48,117.92 L567.33,119.23 L566.53,119.99 L566.17,120.17 L564.86,118.95 L563.84,117.50 L563.37,115.56 L563.43,113.23 L563.98,110.63 L564.94,107.90 L566.20,105.19 L567.65,102.64 L569.13,100.40 L570.52,98.58 L571.67,97.27 L572.47,96.51 L572.83,96.33Z" fill="#ebf6f7" stroke="#d2e8ea" stroke-width="0.5" stroke-linejoin="round"/>
<path d="M583.30,111.23 L584.37,112.45 L585.92,113.33 L587.88,113.85 L590.13,114.02 L592.56,113.87 L595.02,113.46 L597.36,112.85 L599.46,112.15 L601.21,111.44 L602.50,110.81 L603.27,110.36 L603.51,110.16 L602.70,108.77 L601.63,107.55 L600.08,106.67 L598.12,106.15 L595.87,105.98 L593.44,106.13 L590.98,106.54 L588.64,107.15 L586.54,107.85 L584.79,108.56 L583.50,109.19 L582.73,109.64 L582.49,109.84Z" fill="#dff0f1" stroke="#d2e8ea" stroke-width="0.5" stroke-linejoin="round"/><path d="M594.18,94.16 L594.72,95.69 L594.72,97.48 L594.21,99.44 L593.24,101.48 L591.92,103.52 L590.35,105.46 L588.67,107.20 L587.02,108.69 L585.55,109.85 L584.37,110.67 L583.59,111.12 L583.30,111.23 L582.49,109.84 L581.95,108.31 L581.95,106.52 L582.46,104.56 L583.42,102.52 L584.75,100.48 L586.32,98.54 L588.00,96.80 L589.64,95.31 L591.12,94.15 L592.30,93.33 L593.08,92.88 L593.37,92.77Z" fill="#ebf6f7" stroke="#d2e8ea" stroke-width="0.5" stroke-linejoin="round"/><path d="M603.51,110.16 L604.05,111.69 L604.05,113.48 L603.54,115.44 L602.58,117.48 L601.25,119.52 L599.68,121.46 L598.00,123.20 L596.36,124.69 L594.88,125.85 L593.70,126.67 L592.92,127.12 L592.63,127.23 L591.82,125.84 L591.28,124.31 L591.28,122.52 L591.79,120.56 L592.76,118.52 L594.08,116.48 L595.65,114.54 L597.33,112.80 L598.98,111.31 L600.45,110.15 L601.63,109.33 L602.41,108.88 L602.70,108.77Z" fill="#ebf6f7" stroke="#d2e8ea" stroke-width="0.5" stroke-linejoin="round"/>
<path d="M530,62 C534,80 530,100 536,118" fill="none" stroke="#d4eaec" stroke-width="6"/>
<path d="M500,96 C510,92 520,96 528,100" fill="none" stroke="#dcefF0" stroke-width="3"/>
<rect x="485.70" y="1.40" width="155.00" height="125.00" fill="none" stroke="#555" stroke-width="0.7" stroke-dasharray="1.6,1.4"/>
<polyline points="546.90,43.20 545.70,50.20 542.20,56.10 535.20,60.70 533.50,68.00" fill="none" stroke="#3ec4ce" stroke-width="2.6" stroke-linejoin="round" stroke-linecap="round"/>
<polyline points="533.50,68.00 531.50,75.00" fill="none" stroke="#3a3ad0" stroke-width="2.6" stroke-linejoin="round" stroke-linecap="round"/>
<polyline points="543.40,58.40 546.90,70.10 544.60,79.40 542.20,89.90 541.10,98.10" fill="none" stroke="#3ec4ce" stroke-width="2.6" stroke-linejoin="round" stroke-linecap="round"/>
<polyline points="541.10,98.10 543.40,103.00" fill="none" stroke="#d05a5a" stroke-width="2.2" stroke-linejoin="round" stroke-linecap="round"/>
<polyline points="541.50,88.00 544.00,90.50" fill="none" stroke="#3a3ad0" stroke-width="2.2" stroke-linejoin="round" stroke-linecap="round"/>
<polyline points="566.80,59.60 569.10,67.70 578.40,69.60 585.40,67.70" fill="none" stroke="#3ec4ce" stroke-width="2.6" stroke-linejoin="round" stroke-linecap="round"/>
<polyline points="585.40,67.70 594.80,64.20 601.80,61.90 607.60,56.10" fill="none" stroke="#3ec4ce" stroke-width="2.6" stroke-linejoin="round" stroke-linecap="round"/>
<polyline points="592.40,66.50 594.80,73.60 600.60,74.30" fill="none" stroke="#3ec4ce" stroke-width="2.4" stroke-linejoin="round" stroke-linecap="round"/>
<polyline points="585.40,67.70 589.50,66.80" fill="none" stroke="#3a3ad0" stroke-width="2.4" stroke-linejoin="round" stroke-linecap="round"/>
<polyline points="600.60,74.30 603.00,75.00" fill="none" stroke="#d05a5a" stroke-width="2.2" stroke-linejoin="round" stroke-linecap="round"/>
<polyline points="579.60,40.90 584.30,43.20 587.80,45.50" fill="none" stroke="#3ec4ce" stroke-width="2.6" stroke-linejoin="round" stroke-linecap="round"/>
<polyline points="587.80,45.50 592.20,47.40" fill="none" stroke="#3a3ad0" stroke-width="2.4" stroke-linejoin="round" stroke-linecap="round"/>
<polyline points="584.30,43.20 585.00,37.50" fill="none" stroke="#3ec4ce" stroke-width="2.2" stroke-linejoin="round" stroke-linecap="round"/>
<polyline points="557.00,66.00 560.00,63.00" fill="none" stroke="#3a3ad0" stroke-width="2.2" stroke-linejoin="round" stroke-linecap="round"/>
<polyline points="548.00,66.00 552.00,68.00" fill="none" stroke="#3a3ad0" stroke-width="2.2" stroke-linejoin="round" stroke-linecap="round"/>
<polyline points="539.20,43.50 536.50,40.20 536.00,30.30 544.70,25.40 552.40,30.90 558.70,30.90" fill="none" stroke="#e4dc2a" stroke-width="2.6" stroke-linejoin="round" stroke-linecap="round"/>
<polyline points="558.70,30.90 561.10,26.00 571.00,30.30" fill="none" stroke="#e4dc2a" stroke-width="2.6" stroke-linejoin="round" stroke-linecap="round"/>
<polyline points="552.40,30.90 555.50,31.00" fill="none" stroke="#d05a5a" stroke-width="2.2" stroke-linejoin="round" stroke-linecap="round"/>
<polyline points="536.50,40.20 539.20,43.50 542.50,44.60 546.90,44.00" fill="none" stroke="#e4dc2a" stroke-width="2.6" stroke-linejoin="round" stroke-linecap="round"/>
<polyline points="538.00,41.50 540.00,43.50" fill="none" stroke="#d05a5a" stroke-width="2.2" stroke-linejoin="round" stroke-linecap="round"/>
<polyline points="533.20,33.60 534.50,35.00" fill="none" stroke="#c05050" stroke-width="2" stroke-linejoin="round" stroke-linecap="round"/>
<polyline points="546.90,44.00 551.00,42.80" fill="none" stroke="#3a3ad0" stroke-width="2.6" stroke-linejoin="round" stroke-linecap="round"/>
<path d="M556.50,57.80 L551.04,54.65 L551.04,48.35 L556.50,45.20 L561.96,48.35 L561.96,54.65Z" fill="#a8a030" fill-opacity="0.55" stroke="#e4dc2a" stroke-width="2.5" stroke-linejoin="round"/>
<path d="M567.40,56.10 L561.94,52.95 L561.94,46.65 L567.40,43.50 L572.86,46.65 L572.86,52.95Z" fill="#a8a030" fill-opacity="0.55" stroke="#e4dc2a" stroke-width="2.5" stroke-linejoin="round"/>
<path d="M578.30,56.90 L572.84,53.75 L572.84,47.45 L578.30,44.30 L583.76,47.45 L583.76,53.75Z" fill="#a8a030" fill-opacity="0.55" stroke="#e4dc2a" stroke-width="2.5" stroke-linejoin="round"/>
<polyline points="561.50,44.00 562.20,37.00" fill="none" stroke="#e4dc2a" stroke-width="2.4" stroke-linejoin="round" stroke-linecap="round"/>
<polyline points="562.20,37.00 562.50,35.00" fill="none" stroke="#d05a5a" stroke-width="2.4" stroke-linejoin="round" stroke-linecap="round"/>
<polyline points="556.50,57.80 556.80,61.00" fill="none" stroke="#d05a5a" stroke-width="2.4" stroke-linejoin="round" stroke-linecap="round"/>
<polyline points="572.50,56.50 571.00,60.00" fill="none" stroke="#d05a5a" stroke-width="2.4" stroke-linejoin="round" stroke-linecap="round"/>
<polyline points="583.80,54.00 584.50,58.00 583.00,64.00" fill="none" stroke="#e4dc2a" stroke-width="2.4" stroke-linejoin="round" stroke-linecap="round"/>
<polyline points="583.50,61.00 583.00,64.30" fill="none" stroke="#d05a5a" stroke-width="2.4" stroke-linejoin="round" stroke-linecap="round"/>
<polyline points="583.80,47.00 587.00,44.50" fill="none" stroke="#e4dc2a" stroke-width="2.4" stroke-linejoin="round" stroke-linecap="round"/>
<polyline points="563.00,40.00 567.00,45.00" fill="none" stroke="#7a7a20" stroke-width="1.2" stroke-linejoin="round" stroke-linecap="round"/>
<line x1="561.10" y1="35.80" x2="551.30" y2="42.40" stroke="#3030c0" stroke-width="1.0" stroke-dasharray="1.2,1"/>
<line x1="556.80" y1="62.00" x2="547.00" y2="68.00" stroke="#3030c0" stroke-width="1.0" stroke-dasharray="1.2,1"/>
<line x1="557.80" y1="63.00" x2="568.80" y2="70.80" stroke="#3030c0" stroke-width="1.0" stroke-dasharray="1.2,1"/>
<line x1="572.00" y1="61.00" x2="582.00" y2="65.30" stroke="#3030c0" stroke-width="1.0" stroke-dasharray="1.2,1"/>
<line x1="571.00" y1="30.30" x2="580.00" y2="40.00" stroke="#3030c0" stroke-width="1.0" stroke-dasharray="1.2,1"/>
<text x="602.40" y="41.95" font-size="5.6" text-anchor="middle" fill="#333" stroke="#333" stroke-width="0.22" transform="translate(0 41.95) scale(1 1.1) translate(0 -41.95)">ALA-137</text>
<text x="529.40" y="55.25" font-size="5.6" text-anchor="middle" fill="#333" stroke="#333" stroke-width="0.22" transform="translate(0 55.25) scale(1 1.1) translate(0 -55.25)">LYS-160</text>
<text x="611.30" y="69.25" font-size="5.6" text-anchor="middle" fill="#333" stroke="#333" stroke-width="0.22" transform="translate(0 69.25) scale(1 1.1) translate(0 -69.25)">LEU-126</text>
<text x="576.70" y="78.65" font-size="5.6" text-anchor="middle" fill="#333" stroke="#333" stroke-width="0.22" transform="translate(0 78.65) scale(1 1.1) translate(0 -78.65)">ALA-125</text>
<text x="558.30" y="94.55" font-size="5.6" text-anchor="middle" fill="#333" stroke="#333" stroke-width="0.22" transform="translate(0 94.55) scale(1 1.1) translate(0 -94.55)">TRP-162</text>
<text x="362.10" y="141.80" font-size="14" font-weight="bold" text-anchor="start" fill="#111" stroke="#111" stroke-width="0.22">c</text>
<text x="419.60" y="159.17" font-size="7.9" font-weight="bold" text-anchor="end" fill="#111" stroke="#111" stroke-width="0.22" transform="translate(0 159.17) scale(1 1.1) translate(0 -159.17)">Pronase:</text>
<text x="467.20" y="157.25" font-size="10" font-weight="bold" text-anchor="middle" fill="#111" stroke="#111" stroke-width="0.22">-</text>
<text x="530.70" y="157.17" font-size="7.9" font-weight="bold" text-anchor="middle" fill="#111" stroke="#111" stroke-width="0.22" transform="translate(0 157.17) scale(1 1.1) translate(0 -157.17)">1:1000</text>
<text x="595.60" y="157.67" font-size="7.9" font-weight="bold" text-anchor="middle" fill="#111" stroke="#111" stroke-width="0.22" transform="translate(0 157.67) scale(1 1.1) translate(0 -157.67)">1:500</text>
<line x1="443.90" y1="165.30" x2="490.30" y2="165.30" stroke="#111" stroke-width="1.3"/>
<line x1="508.00" y1="165.30" x2="554.70" y2="165.30" stroke="#111" stroke-width="1.3"/>
<line x1="570.30" y1="165.30" x2="616.80" y2="165.30" stroke="#111" stroke-width="1.3"/>
<text x="419.60" y="177.87" font-size="7.9" font-weight="bold" text-anchor="end" fill="#111" stroke="#111" stroke-width="0.22" transform="translate(0 177.87) scale(1 1.1) translate(0 -177.87)">KLX:</text>
<text x="449.40" y="178.15" font-size="10" font-weight="bold" text-anchor="middle" fill="#111" stroke="#111" stroke-width="0.22">-</text>
<text x="485.30" y="177.79" font-size="8.2" font-weight="bold" text-anchor="middle" fill="#111" stroke="#111" stroke-width="0.22" transform="translate(0 177.79) scale(1 1.1) translate(0 -177.79)">+</text>
<text x="515.10" y="178.15" font-size="10" font-weight="bold" text-anchor="middle" fill="#111" stroke="#111" stroke-width="0.22">-</text>
<text x="547.30" y="177.79" font-size="8.2" font-weight="bold" text-anchor="middle" fill="#111" stroke="#111" stroke-width="0.22" transform="translate(0 177.79) scale(1 1.1) translate(0 -177.79)">+</text>
<text x="579.50" y="178.15" font-size="10" font-weight="bold" text-anchor="middle" fill="#111" stroke="#111" stroke-width="0.22">-</text>
<text x="613.50" y="177.79" font-size="8.2" font-weight="bold" text-anchor="middle" fill="#111" stroke="#111" stroke-width="0.22" transform="translate(0 177.79) scale(1 1.1) translate(0 -177.79)">+</text>
<rect x="430.30" y="184.90" width="201.90" height="23.30" fill="#e2e2e2" stroke="#3a3a3a" stroke-width="0.9"/>
<rect x="430.30" y="211.60" width="201.90" height="24.60" fill="#e2e2e2" stroke="#3a3a3a" stroke-width="0.9"/>
<text x="417.60" y="200.17" font-size="7.9" font-weight="bold" text-anchor="end" fill="#111" stroke="#111" stroke-width="0.22" transform="translate(0 200.17) scale(1 1.1) translate(0 -200.17)">ZBP1</text>
<text x="417.60" y="226.97" font-size="7.9" font-weight="bold" text-anchor="end" fill="#111" stroke="#111" stroke-width="0.22" transform="translate(0 226.97) scale(1 1.1) translate(0 -226.97)">GAPDH</text>
<text x="639.10" y="200.97" font-size="7.9" font-weight="bold" text-anchor="start" fill="#111" stroke="#111" stroke-width="0.22" transform="translate(0 200.97) scale(1 1.1) translate(0 -200.97)">46kDa</text>
<text x="639.10" y="226.77" font-size="7.9" font-weight="bold" text-anchor="start" fill="#111" stroke="#111" stroke-width="0.22" transform="translate(0 226.77) scale(1 1.1) translate(0 -226.77)">36kDa</text>
<rect x="439.00" y="196.60" width="21.00" height="2.80" rx="1.40" fill="#000" fill-opacity="0.35" filter="url(#b08)"/>
<rect x="451.00" y="196.30" width="8.00" height="3.40" rx="1.70" fill="#000" fill-opacity="0.65" filter="url(#b08)"/>
<rect x="472.00" y="196.10" width="27.00" height="3.80" rx="1.90" fill="#000" fill-opacity="0.70" filter="url(#b08)"/>
<rect x="478.00" y="196.00" width="7.00" height="3.00" rx="1.50" fill="#000" fill-opacity="0.30" filter="url(#b08)"/>
<rect x="503.50" y="197.50" width="22.00" height="2.60" rx="1.30" fill="#000" fill-opacity="0.38" filter="url(#b08)"/>
<rect x="536.40" y="196.40" width="23.60" height="3.20" rx="1.60" fill="#000" fill-opacity="0.55" filter="url(#b08)"/>
<rect x="604.00" y="196.50" width="22.00" height="3.00" rx="1.50" fill="#000" fill-opacity="0.50" filter="url(#b08)"/>
<rect x="618.00" y="196.10" width="8.00" height="3.20" rx="1.60" fill="#000" fill-opacity="0.30" filter="url(#b08)"/>
<rect x="585.00" y="187.00" width="7.00" height="10.00" rx="5.00" fill="#000" fill-opacity="0.12" filter="url(#b12)"/>
<rect x="580.00" y="197.50" width="20.00" height="3.00" rx="1.50" fill="#000" fill-opacity="0.08" filter="url(#b12)"/>
<path d="M435.57,218.18 C444.91,216.60 455.29,217.26 465.32,217.92 C467.40,221.22 467.40,225.84 465.32,228.74 C455.29,229.80 444.91,229.80 434.88,229.01 C432.80,225.84 432.80,221.22 435.57,218.18 Z" fill="#000" fill-opacity="1.00" filter="url(#b08)"/>
<path d="M472.88,218.18 C480.93,216.60 489.87,217.26 498.51,217.92 C500.30,221.22 500.30,225.84 498.51,228.74 C489.87,229.80 480.93,229.80 472.29,229.01 C470.50,225.84 470.50,221.22 472.88,218.18 Z" fill="#000" fill-opacity="1.00" filter="url(#b08)"/>
<path d="M504.16,218.18 C511.77,216.60 520.23,217.26 528.41,217.92 C530.10,221.22 530.10,225.84 528.41,228.74 C520.23,229.80 511.77,229.80 503.59,229.01 C501.90,225.84 501.90,221.22 504.16,218.18 Z" fill="#000" fill-opacity="1.00" filter="url(#b08)"/>
<path d="M535.68,218.18 C543.73,216.60 552.67,217.26 561.31,217.92 C563.10,221.22 563.10,225.84 561.31,228.74 C552.67,229.80 543.73,229.80 535.09,229.01 C533.30,225.84 533.30,221.22 535.68,218.18 Z" fill="#000" fill-opacity="1.00" filter="url(#b08)"/>
<path d="M600.11,218.18 C608.59,216.60 618.01,217.26 627.12,217.92 C629.00,221.22 629.00,225.84 627.12,228.74 C618.01,229.80 608.59,229.80 599.48,229.01 C597.60,225.84 597.60,221.22 600.11,218.18 Z" fill="#000" fill-opacity="1.00" filter="url(#b08)"/>
<path d="M568.58,214.90 C576.63,212.50 585.57,213.50 594.21,214.50 C596.00,219.50 596.00,226.50 594.21,230.90 C585.57,232.50 576.63,232.50 567.99,231.30 C566.20,226.50 566.20,219.50 568.58,214.90 Z" fill="#000" fill-opacity="1.00" filter="url(#b08)"/>
<rect x="566.00" y="212.00" width="30.00" height="4.00" rx="2.00" fill="#000" fill-opacity="0.50" filter="url(#b12)"/>
<text x="14.60" y="261.40" font-size="14" font-weight="bold" text-anchor="start" fill="#111" stroke="#111" stroke-width="0.22">d</text>
<text x="96.30" y="282.87" font-size="7.9" font-weight="bold" text-anchor="middle" fill="#111" stroke="#111" stroke-width="0.22" transform="translate(0 282.87) scale(1 1.1) translate(0 -282.87)">40</text>
<text x="132.80" y="282.87" font-size="7.9" font-weight="bold" text-anchor="middle" fill="#111" stroke="#111" stroke-width="0.22" transform="translate(0 282.87) scale(1 1.1) translate(0 -282.87)">45</text>
<text x="171.20" y="282.87" font-size="7.9" font-weight="bold" text-anchor="middle" fill="#111" stroke="#111" stroke-width="0.22" transform="translate(0 282.87) scale(1 1.1) translate(0 -282.87)">50</text>
<text x="207.70" y="282.87" font-size="7.9" font-weight="bold" text-anchor="middle" fill="#111" stroke="#111" stroke-width="0.22" transform="translate(0 282.87) scale(1 1.1) translate(0 -282.87)">55</text>
<text x="246.90" y="282.87" font-size="7.9" font-weight="bold" text-anchor="middle" fill="#111" stroke="#111" stroke-width="0.22" transform="translate(0 282.87) scale(1 1.1) translate(0 -282.87)">60</text>
<text x="282.90" y="282.87" font-size="7.9" font-weight="bold" text-anchor="middle" fill="#111" stroke="#111" stroke-width="0.22" transform="translate(0 282.87) scale(1 1.1) translate(0 -282.87)">65</text>
<text x="307.50" y="284.17" font-size="7.9" font-weight="bold" text-anchor="start" fill="#111" stroke="#111" stroke-width="0.22" transform="translate(0 284.17) scale(1 1.1) translate(0 -284.17)">°C</text>
<rect x="73.30" y="290.30" width="226.50" height="20.60" fill="#e2e2e2" stroke="#3a3a3a" stroke-width="0.9"/>
<rect x="73.30" y="314.80" width="226.50" height="20.70" fill="#e2e2e2" stroke="#3a3a3a" stroke-width="0.9"/>
<text x="7.20" y="304.57" font-size="7.9" font-weight="bold" text-anchor="start" fill="#111" stroke="#111" stroke-width="0.22" transform="translate(0 304.57) scale(1 1.1) translate(0 -304.57)">+DMSO</text>
<text x="65.00" y="304.57" font-size="7.9" font-weight="bold" text-anchor="end" fill="#111" stroke="#111" stroke-width="0.22" transform="translate(0 304.57) scale(1 1.1) translate(0 -304.57)">ZBP1</text>
<text x="7.20" y="328.07" font-size="7.9" font-weight="bold" text-anchor="start" fill="#111" stroke="#111" stroke-width="0.22" transform="translate(0 328.07) scale(1 1.1) translate(0 -328.07)">+KLX</text>
<text x="64.30" y="328.07" font-size="7.9" font-weight="bold" text-anchor="end" fill="#111" stroke="#111" stroke-width="0.22" transform="translate(0 328.07) scale(1 1.1) translate(0 -328.07)">ZBP1</text>
<text x="308.50" y="302.97" font-size="7.9" font-weight="bold" text-anchor="start" fill="#111" stroke="#111" stroke-width="0.22" transform="translate(0 302.97) scale(1 1.1) translate(0 -302.97)">46kDa</text>
<text x="308.50" y="328.17" font-size="7.9" font-weight="bold" text-anchor="start" fill="#111" stroke="#111" stroke-width="0.22" transform="translate(0 328.17) scale(1 1.1) translate(0 -328.17)">46kDa</text>
<path d="M79.30,298.31 C85.38,297.40 92.12,297.78 98.65,298.16 C100.00,300.06 100.00,302.72 98.65,304.39 C92.12,305.00 85.38,305.00 78.85,304.54 C77.50,302.72 77.50,300.06 79.30,298.31 Z" fill="#000" fill-opacity="1.00" filter="url(#b04)"/>
<rect x="88.00" y="298.80" width="22.50" height="5.40" rx="2.70" fill="#000" fill-opacity="1.00" filter="url(#b08)"/>
<rect x="117.30" y="300.10" width="30.90" height="3.00" rx="1.50" fill="#000" fill-opacity="0.30" filter="url(#b08)"/>
<rect x="159.20" y="299.90" width="27.40" height="3.40" rx="1.70" fill="#000" fill-opacity="0.45" filter="url(#b08)"/>
<rect x="172.00" y="299.90" width="14.60" height="3.40" rx="1.70" fill="#000" fill-opacity="0.25" filter="url(#b08)"/>
<rect x="194.20" y="299.40" width="29.50" height="3.60" rx="1.80" fill="#000" fill-opacity="0.50" filter="url(#b08)"/>
<rect x="234.00" y="299.60" width="28.00" height="3.20" rx="1.60" fill="#000" fill-opacity="0.40" filter="url(#b08)"/>
<rect x="272.40" y="298.80" width="25.60" height="3.60" rx="1.80" fill="#000" fill-opacity="0.50" filter="url(#b08)"/>
<rect x="76.90" y="323.40" width="31.50" height="5.20" rx="2.60" fill="#000" fill-opacity="1.00" filter="url(#b04)"/>
<rect x="115.30" y="323.40" width="30.90" height="5.60" rx="2.80" fill="#000" fill-opacity="1.00" filter="url(#b04)"/>
<rect x="153.00" y="323.80" width="32.00" height="4.80" rx="2.40" fill="#000" fill-opacity="0.95" filter="url(#b04)"/>
<rect x="192.80" y="323.70" width="28.20" height="5.00" rx="2.50" fill="#000" fill-opacity="1.00" filter="url(#b04)"/>
<rect x="230.50" y="325.40" width="10.50" height="3.20" rx="1.60" fill="#000" fill-opacity="0.80" filter="url(#b08)"/>
<rect x="245.00" y="324.90" width="14.40" height="3.60" rx="1.80" fill="#000" fill-opacity="0.90" filter="url(#b08)"/>
<rect x="268.30" y="323.90" width="29.70" height="4.60" rx="2.30" fill="#000" fill-opacity="0.95" filter="url(#b04)"/>
<ellipse cx="122.00" cy="332.00" rx="0.80" ry="0.60" fill="#222"/>
<ellipse cx="143.50" cy="318.40" rx="1.40" ry="0.60" fill="#222"/>
<text x="359.80" y="260.40" font-size="14" font-weight="bold" text-anchor="start" fill="#111" stroke="#111" stroke-width="0.22">f</text>
<text x="450.00" y="264.87" font-size="7.9" font-weight="bold" text-anchor="middle" fill="#111" stroke="#111" stroke-width="0.22" transform="translate(0 264.87) scale(1 1.1) translate(0 -264.87)">DMSO</text>
<text x="576.60" y="264.77" font-size="7.9" font-weight="bold" text-anchor="middle" fill="#111" stroke="#111" stroke-width="0.22" transform="translate(0 264.77) scale(1 1.1) translate(0 -264.77)">KLX</text>
<line x1="397.30" y1="273.70" x2="502.00" y2="273.70" stroke="#111" stroke-width="1.3"/>
<line x1="523.00" y1="273.70" x2="626.90" y2="273.70" stroke="#111" stroke-width="1.3"/>
<text x="373.90" y="286.77" font-size="7.9" font-weight="bold" text-anchor="end" fill="#111" stroke="#111" stroke-width="0.22" transform="translate(0 286.77) scale(1 1.1) translate(0 -286.77)">CHX</text>
<text x="408.90" y="286.47" font-size="7.9" font-weight="bold" text-anchor="middle" fill="#111" stroke="#111" stroke-width="0.22" transform="translate(0 286.47) scale(1 1.1) translate(0 -286.47)">0</text>
<text x="450.60" y="286.47" font-size="7.9" font-weight="bold" text-anchor="middle" fill="#111" stroke="#111" stroke-width="0.22" transform="translate(0 286.47) scale(1 1.1) translate(0 -286.47)">6</text>
<text x="491.50" y="286.47" font-size="7.9" font-weight="bold" text-anchor="middle" fill="#111" stroke="#111" stroke-width="0.22" transform="translate(0 286.47) scale(1 1.1) translate(0 -286.47)">12</text>
<text x="533.80" y="286.47" font-size="7.9" font-weight="bold" text-anchor="middle" fill="#111" stroke="#111" stroke-width="0.22" transform="translate(0 286.47) scale(1 1.1) translate(0 -286.47)">0</text>
<text x="577.00" y="286.47" font-size="7.9" font-weight="bold" text-anchor="middle" fill="#111" stroke="#111" stroke-width="0.22" transform="translate(0 286.47) scale(1 1.1) translate(0 -286.47)">6</text>
<text x="618.00" y="286.47" font-size="7.9" font-weight="bold" text-anchor="middle" fill="#111" stroke="#111" stroke-width="0.22" transform="translate(0 286.47) scale(1 1.1) translate(0 -286.47)">12</text>
<text x="648.30" y="286.47" font-size="7.9" font-weight="bold" text-anchor="start" fill="#111" stroke="#111" stroke-width="0.22" transform="translate(0 286.47) scale(1 1.1) translate(0 -286.47)">(h)</text>
<rect x="386.30" y="291.40" width="126.40" height="20.50" fill="#e2e2e2" stroke="#3a3a3a" stroke-width="0.9"/>
<rect x="386.30" y="314.70" width="126.40" height="20.90" fill="#e2e2e2" stroke="#3a3a3a" stroke-width="0.9"/>
<rect x="514.30" y="291.40" width="126.90" height="20.50" fill="#e2e2e2" stroke="#3a3a3a" stroke-width="0.9"/>
<rect x="514.30" y="314.70" width="126.90" height="20.90" fill="#e2e2e2" stroke="#3a3a3a" stroke-width="0.9"/>
<text x="375.00" y="305.67" font-size="7.9" font-weight="bold" text-anchor="end" fill="#111" stroke="#111" stroke-width="0.22" transform="translate(0 305.67) scale(1 1.1) translate(0 -305.67)">ZBP1</text>
<text x="375.50" y="329.27" font-size="7.9" font-weight="bold" text-anchor="end" fill="#111" stroke="#111" stroke-width="0.22" transform="translate(0 329.27) scale(1 1.1) translate(0 -329.27)">GAPDH</text>
<text x="648.00" y="305.27" font-size="7.9" font-weight="bold" text-anchor="start" fill="#111" stroke="#111" stroke-width="0.22" transform="translate(0 305.27) scale(1 1.1) translate(0 -305.27)">46kDa</text>
<text x="648.00" y="328.77" font-size="7.9" font-weight="bold" text-anchor="start" fill="#111" stroke="#111" stroke-width="0.22" transform="translate(0 328.77) scale(1 1.1) translate(0 -328.77)">36kDa</text>
<rect x="392.60" y="300.40" width="28.60" height="3.40" rx="1.70" fill="#000" fill-opacity="0.85" filter="url(#b08)"/>
<rect x="410.00" y="300.10" width="11.20" height="4.00" rx="2.00" fill="#000" fill-opacity="0.80" filter="url(#b08)"/>
<rect x="434.60" y="300.70" width="30.60" height="2.80" rx="1.40" fill="#000" fill-opacity="0.45" filter="url(#b08)"/>
<rect x="480.50" y="300.90" width="11.50" height="2.40" rx="1.20" fill="#000" fill-opacity="0.25" filter="url(#b08)"/>
<ellipse cx="505.50" cy="297.50" rx="1.60" ry="0.90" fill="#111"/>
<ellipse cx="505.50" cy="310.00" rx="1.20" ry="0.70" fill="#222"/>
<ellipse cx="497.00" cy="307.50" rx="0.60" ry="0.50" fill="#333"/>
<rect x="521.40" y="295.70" width="31.80" height="2.60" rx="1.30" fill="#000" fill-opacity="0.70" filter="url(#b08)"/>
<rect x="521.40" y="301.20" width="31.80" height="3.20" rx="1.60" fill="#000" fill-opacity="0.95" filter="url(#b08)"/>
<ellipse cx="524.00" cy="304.50" rx="2.40" ry="2.00" fill="#000" filter="url(#b04)"/>
<rect x="564.60" y="296.00" width="28.00" height="2.60" rx="1.30" fill="#000" fill-opacity="0.70" filter="url(#b08)"/>
<rect x="564.60" y="300.90" width="28.00" height="3.20" rx="1.60" fill="#000" fill-opacity="0.90" filter="url(#b08)"/>
<rect x="606.70" y="300.70" width="30.60" height="2.80" rx="1.40" fill="#000" fill-opacity="0.70" filter="url(#b08)"/>
<path d="M391.76,318.16 C402.11,316.00 413.59,316.90 424.70,317.80 C427.00,322.30 427.00,328.60 424.70,332.56 C413.59,334.00 402.11,334.00 391.00,332.92 C388.70,328.60 388.70,322.30 391.76,318.16 Z" fill="#000" fill-opacity="1.00" filter="url(#b04)"/>
<path d="M435.45,318.34 C444.74,316.20 455.06,317.09 465.04,317.98 C467.10,322.43 467.10,328.66 465.04,332.58 C455.06,334.00 444.74,334.00 434.76,332.93 C432.70,328.66 432.70,322.43 435.45,318.34 Z" fill="#000" fill-opacity="1.00" filter="url(#b04)"/>
<path d="M474.70,318.51 C484.82,316.40 496.07,317.28 506.95,318.16 C509.20,322.56 509.20,328.72 506.95,332.59 C496.07,334.00 484.82,334.00 473.95,332.94 C471.70,328.72 471.70,322.56 474.70,318.51 Z" fill="#000" fill-opacity="1.00" filter="url(#b04)"/>
<path d="M566.20,318.60 C575.30,316.50 585.40,317.38 595.18,318.25 C597.20,322.62 597.20,328.75 595.18,332.60 C585.40,334.00 575.30,334.00 565.52,332.95 C563.50,328.75 563.50,322.62 566.20,318.60 Z" fill="#000" fill-opacity="1.00" filter="url(#b04)"/>
<path d="M606.75,318.86 C616.04,316.80 626.36,317.66 636.34,318.52 C638.40,322.82 638.40,328.84 636.34,332.62 C626.36,334.00 616.04,334.00 606.06,332.97 C604.00,328.84 604.00,322.82 606.75,318.86 Z" fill="#000" fill-opacity="1.00" filter="url(#b04)"/>
<path d="M521,322 C535,320 548,318 556,317.5 C558,322 558,330 555,333 C543,334 530,334 522,334.5 C520,330 520,326 521,322 Z" fill="#000" filter="url(#b04)"/>
<text x="14.60" y="354.50" font-size="14" font-weight="bold" text-anchor="start" fill="#111" stroke="#111" stroke-width="0.22">e</text>
<line x1="16.90" y1="378.20" x2="16.90" y2="443.40" stroke="#222" stroke-width="0.9"/>
<line x1="16.50" y1="443.00" x2="114.20" y2="443.00" stroke="#222" stroke-width="0.9"/>
<line x1="14.90" y1="443.00" x2="16.90" y2="443.00" stroke="#222" stroke-width="0.8"/>
<text x="13.60" y="444.92" font-size="4.8" font-weight="bold" text-anchor="end" fill="#111" stroke="#111" stroke-width="0.22" transform="translate(0 444.92) scale(1 1.1) translate(0 -444.92)">0.0</text>
<line x1="14.90" y1="421.50" x2="16.90" y2="421.50" stroke="#222" stroke-width="0.8"/>
<text x="13.60" y="423.42" font-size="4.8" font-weight="bold" text-anchor="end" fill="#111" stroke="#111" stroke-width="0.22" transform="translate(0 423.42) scale(1 1.1) translate(0 -423.42)">0.5</text>
<line x1="14.90" y1="400.00" x2="16.90" y2="400.00" stroke="#222" stroke-width="0.8"/>
<text x="13.60" y="401.92" font-size="4.8" font-weight="bold" text-anchor="end" fill="#111" stroke="#111" stroke-width="0.22" transform="translate(0 401.92) scale(1 1.1) translate(0 -401.92)">1.0</text>
<line x1="14.90" y1="378.50" x2="16.90" y2="378.50" stroke="#222" stroke-width="0.8"/>
<text x="13.60" y="380.42" font-size="4.8" font-weight="bold" text-anchor="end" fill="#111" stroke="#111" stroke-width="0.22" transform="translate(0 380.42) scale(1 1.1) translate(0 -380.42)">1.5</text>
<line x1="22.30" y1="443.00" x2="22.30" y2="445.00" stroke="#222" stroke-width="0.8"/>
<text x="22.30" y="451.12" font-size="4.8" font-weight="bold" text-anchor="middle" fill="#111" stroke="#111" stroke-width="0.22" transform="translate(0 451.12) scale(1 1.1) translate(0 -451.12)">40</text>
<line x1="39.70" y1="443.00" x2="39.70" y2="445.00" stroke="#222" stroke-width="0.8"/>
<text x="39.70" y="451.12" font-size="4.8" font-weight="bold" text-anchor="middle" fill="#111" stroke="#111" stroke-width="0.22" transform="translate(0 451.12) scale(1 1.1) translate(0 -451.12)">45</text>
<line x1="57.10" y1="443.00" x2="57.10" y2="445.00" stroke="#222" stroke-width="0.8"/>
<text x="57.10" y="451.12" font-size="4.8" font-weight="bold" text-anchor="middle" fill="#111" stroke="#111" stroke-width="0.22" transform="translate(0 451.12) scale(1 1.1) translate(0 -451.12)">50</text>
<line x1="74.50" y1="443.00" x2="74.50" y2="445.00" stroke="#222" stroke-width="0.8"/>
<text x="74.50" y="451.12" font-size="4.8" font-weight="bold" text-anchor="middle" fill="#111" stroke="#111" stroke-width="0.22" transform="translate(0 451.12) scale(1 1.1) translate(0 -451.12)">55</text>
<line x1="91.30" y1="443.00" x2="91.30" y2="445.00" stroke="#222" stroke-width="0.8"/>
<text x="91.30" y="451.12" font-size="4.8" font-weight="bold" text-anchor="middle" fill="#111" stroke="#111" stroke-width="0.22" transform="translate(0 451.12) scale(1 1.1) translate(0 -451.12)">60</text>
<line x1="108.70" y1="443.00" x2="108.70" y2="445.00" stroke="#222" stroke-width="0.8"/>
<text x="108.70" y="451.12" font-size="4.8" font-weight="bold" text-anchor="middle" fill="#111" stroke="#111" stroke-width="0.22" transform="translate(0 451.12) scale(1 1.1) translate(0 -451.12)">65</text>
<text x="66.00" y="459.39" font-size="5.45" font-weight="bold" text-anchor="middle" fill="#111" stroke="#111" stroke-width="0.22" transform="translate(0 459.39) scale(1 1.1) translate(0 -459.39)">Temperature / Centigrate</text>
<text x="2.80" y="412.13" font-size="5.3" font-weight="bold" text-anchor="middle" fill="#111" stroke="#111" stroke-width="0.22" transform="rotate(-90 2.80 410.00) translate(0 412.13) scale(1 1.1) translate(0 -412.13)">Folding Fraction</text>
<line x1="39.70" y1="415.48" x2="39.70" y2="403.44" stroke="#555" stroke-width="0.6"/><line x1="37.50" y1="415.48" x2="41.90" y2="415.48" stroke="#555" stroke-width="0.6"/><line x1="37.50" y1="403.44" x2="41.90" y2="403.44" stroke="#555" stroke-width="0.6"/>
<line x1="57.10" y1="422.36" x2="57.10" y2="406.02" stroke="#555" stroke-width="0.6"/><line x1="54.90" y1="422.36" x2="59.30" y2="422.36" stroke="#555" stroke-width="0.6"/><line x1="54.90" y1="406.02" x2="59.30" y2="406.02" stroke="#555" stroke-width="0.6"/>
<line x1="74.50" y1="420.21" x2="74.50" y2="409.89" stroke="#555" stroke-width="0.6"/><line x1="72.30" y1="420.21" x2="76.70" y2="420.21" stroke="#555" stroke-width="0.6"/><line x1="72.30" y1="409.89" x2="76.70" y2="409.89" stroke="#555" stroke-width="0.6"/>
<line x1="91.30" y1="427.95" x2="91.30" y2="420.21" stroke="#555" stroke-width="0.6"/><line x1="89.10" y1="427.95" x2="93.50" y2="427.95" stroke="#555" stroke-width="0.6"/><line x1="89.10" y1="420.21" x2="93.50" y2="420.21" stroke="#555" stroke-width="0.6"/>
<line x1="108.70" y1="430.53" x2="108.70" y2="422.79" stroke="#555" stroke-width="0.6"/><line x1="106.50" y1="430.53" x2="110.90" y2="430.53" stroke="#555" stroke-width="0.6"/><line x1="106.50" y1="422.79" x2="110.90" y2="422.79" stroke="#555" stroke-width="0.6"/>
<line x1="39.70" y1="412.47" x2="39.70" y2="397.85" stroke="#f05050" stroke-width="0.6"/><line x1="37.50" y1="412.47" x2="41.90" y2="412.47" stroke="#f05050" stroke-width="0.6"/><line x1="37.50" y1="397.85" x2="41.90" y2="397.85" stroke="#f05050" stroke-width="0.6"/>
<line x1="57.10" y1="413.76" x2="57.10" y2="401.72" stroke="#f05050" stroke-width="0.6"/><line x1="54.90" y1="413.76" x2="59.30" y2="413.76" stroke="#f05050" stroke-width="0.6"/><line x1="54.90" y1="401.72" x2="59.30" y2="401.72" stroke="#f05050" stroke-width="0.6"/>
<line x1="74.50" y1="414.19" x2="74.50" y2="403.01" stroke="#f05050" stroke-width="0.6"/><line x1="72.30" y1="414.19" x2="76.70" y2="414.19" stroke="#f05050" stroke-width="0.6"/><line x1="72.30" y1="403.01" x2="76.70" y2="403.01" stroke="#f05050" stroke-width="0.6"/>
<line x1="91.30" y1="413.76" x2="91.30" y2="407.74" stroke="#f05050" stroke-width="0.6"/><line x1="89.10" y1="413.76" x2="93.50" y2="413.76" stroke="#f05050" stroke-width="0.6"/><line x1="89.10" y1="407.74" x2="93.50" y2="407.74" stroke="#f05050" stroke-width="0.6"/>
<line x1="108.70" y1="413.76" x2="108.70" y2="407.74" stroke="#f05050" stroke-width="0.6"/><line x1="106.50" y1="413.76" x2="110.90" y2="413.76" stroke="#f05050" stroke-width="0.6"/><line x1="106.50" y1="407.74" x2="110.90" y2="407.74" stroke="#f05050" stroke-width="0.6"/>
<polyline points="22.30,400.00 39.70,409.46 57.10,414.19 74.50,415.05 91.30,424.08 108.70,426.66" fill="none" stroke="#111" stroke-width="0.9" stroke-linejoin="round"/>
<polyline points="22.30,400.00 39.70,405.16 57.10,407.74 74.50,408.60 91.30,410.75 108.70,410.75" fill="none" stroke="#ee1c1c" stroke-width="1.1" stroke-linejoin="round"/>
<circle cx="22.30" cy="400.00" r="1.5" fill="#111"/>
<circle cx="39.70" cy="409.46" r="1.5" fill="#111"/>
<circle cx="57.10" cy="414.19" r="1.5" fill="#111"/>
<circle cx="74.50" cy="415.05" r="1.5" fill="#111"/>
<circle cx="91.30" cy="424.08" r="1.5" fill="#111"/>
<circle cx="108.70" cy="426.66" r="1.5" fill="#111"/>
<rect x="20.95" y="398.65" width="2.7" height="2.7" fill="#ee1c1c"/>
<rect x="38.35" y="403.81" width="2.7" height="2.7" fill="#ee1c1c"/>
<rect x="55.75" y="406.39" width="2.7" height="2.7" fill="#ee1c1c"/>
<rect x="73.15" y="407.25" width="2.7" height="2.7" fill="#ee1c1c"/>
<rect x="89.95" y="409.40" width="2.7" height="2.7" fill="#ee1c1c"/>
<rect x="107.35" y="409.40" width="2.7" height="2.7" fill="#ee1c1c"/>
<text x="91.30" y="407.21" font-size="9" text-anchor="middle" fill="#222" stroke="#222" stroke-width="0.22" transform="translate(0 407.21) scale(1 1.1) translate(0 -407.21)">**</text>
<text x="108.70" y="407.21" font-size="9" text-anchor="middle" fill="#222" stroke="#222" stroke-width="0.22" transform="translate(0 407.21) scale(1 1.1) translate(0 -407.21)">**</text>
<line x1="115.40" y1="382.20" x2="121.80" y2="382.20" stroke="#111" stroke-width="0.9"/><circle cx="118.60" cy="382.20" r="1.4" fill="#111"/>
<text x="126.00" y="384.53" font-size="5.3" font-weight="bold" text-anchor="start" fill="#111" stroke="#111" stroke-width="0.22" transform="translate(0 384.53) scale(1 1.1) translate(0 -384.53)">DMSO</text>
<line x1="115.40" y1="391.60" x2="121.80" y2="391.60" stroke="#ee1c1c" stroke-width="0.9"/><rect x="117.30" y="390.30" width="2.6" height="2.6" fill="#ee1c1c"/>
<text x="126.00" y="393.93" font-size="5.3" font-weight="bold" text-anchor="start" fill="#111" stroke="#111" stroke-width="0.22" transform="translate(0 393.93) scale(1 1.1) translate(0 -393.93)">KLX</text>
<text x="179.60" y="354.50" font-size="14" font-weight="bold" text-anchor="start" fill="#111" stroke="#111" stroke-width="0.22">g</text>
<line x1="167.80" y1="379.40" x2="167.80" y2="444.10" stroke="#222" stroke-width="0.9"/>
<line x1="167.40" y1="443.70" x2="232.30" y2="443.70" stroke="#222" stroke-width="0.9"/>
<line x1="165.80" y1="443.70" x2="167.80" y2="443.70" stroke="#222" stroke-width="0.8"/>
<text x="163.80" y="445.42" font-size="4.3" font-weight="bold" text-anchor="end" fill="#111" stroke="#111" stroke-width="0.22" transform="translate(0 445.42) scale(1 1.1) translate(0 -445.42)">0</text>
<line x1="165.80" y1="422.37" x2="167.80" y2="422.37" stroke="#222" stroke-width="0.8"/>
<text x="163.80" y="424.09" font-size="4.3" font-weight="bold" text-anchor="end" fill="#111" stroke="#111" stroke-width="0.22" transform="translate(0 424.09) scale(1 1.1) translate(0 -424.09)">50</text>
<line x1="165.80" y1="401.03" x2="167.80" y2="401.03" stroke="#222" stroke-width="0.8"/>
<text x="163.80" y="402.75" font-size="4.3" font-weight="bold" text-anchor="end" fill="#111" stroke="#111" stroke-width="0.22" transform="translate(0 402.75) scale(1 1.1) translate(0 -402.75)">100</text>
<line x1="165.80" y1="379.69" x2="167.80" y2="379.69" stroke="#222" stroke-width="0.8"/>
<text x="163.80" y="381.42" font-size="4.3" font-weight="bold" text-anchor="end" fill="#111" stroke="#111" stroke-width="0.22" transform="translate(0 381.42) scale(1 1.1) translate(0 -381.42)">150</text>
<line x1="180.50" y1="443.70" x2="180.50" y2="445.70" stroke="#222" stroke-width="0.8"/>
<text x="180.50" y="451.62" font-size="4.8" font-weight="bold" text-anchor="middle" fill="#111" stroke="#111" stroke-width="0.22" transform="translate(0 451.62) scale(1 1.1) translate(0 -451.62)">0</text>
<line x1="199.60" y1="443.70" x2="199.60" y2="445.70" stroke="#222" stroke-width="0.8"/>
<text x="199.60" y="451.62" font-size="4.8" font-weight="bold" text-anchor="middle" fill="#111" stroke="#111" stroke-width="0.22" transform="translate(0 451.62) scale(1 1.1) translate(0 -451.62)">6</text>
<line x1="218.90" y1="443.70" x2="218.90" y2="445.70" stroke="#222" stroke-width="0.8"/>
<text x="218.90" y="451.62" font-size="4.8" font-weight="bold" text-anchor="middle" fill="#111" stroke="#111" stroke-width="0.22" transform="translate(0 451.62) scale(1 1.1) translate(0 -451.62)">12</text>
<text x="199.60" y="461.10" font-size="5.0" font-weight="bold" text-anchor="middle" fill="#111" stroke="#111" stroke-width="0.22" transform="translate(0 461.10) scale(1 1.1) translate(0 -461.10)">Treatment after CHX (h)</text>
<text x="151.20" y="414.00" font-size="5.0" font-weight="bold" text-anchor="middle" fill="#111" stroke="#111" stroke-width="0.22" transform="rotate(-90 151.20 412.00) translate(0 414.00) scale(1 1.1) translate(0 -414.00)">ZBP1 protein remaining (%)</text>
<line x1="218.90" y1="436.45" x2="218.90" y2="420.23" stroke="#666" stroke-width="0.6"/><line x1="216.70" y1="436.45" x2="221.10" y2="436.45" stroke="#666" stroke-width="0.6"/><line x1="216.70" y1="420.23" x2="221.10" y2="420.23" stroke="#666" stroke-width="0.6"/>
<line x1="199.60" y1="409.35" x2="199.60" y2="403.80" stroke="#f05050" stroke-width="0.6"/><line x1="197.40" y1="409.35" x2="201.80" y2="409.35" stroke="#f05050" stroke-width="0.6"/><line x1="197.40" y1="403.80" x2="201.80" y2="403.80" stroke="#f05050" stroke-width="0.6"/>
<line x1="218.90" y1="414.68" x2="218.90" y2="408.71" stroke="#f05050" stroke-width="0.6"/><line x1="216.70" y1="414.68" x2="221.10" y2="414.68" stroke="#f05050" stroke-width="0.6"/><line x1="216.70" y1="408.71" x2="221.10" y2="408.71" stroke="#f05050" stroke-width="0.6"/>
<polyline points="180.50,401.03 199.60,415.11 218.90,428.34" fill="none" stroke="#111" stroke-width="0.9" stroke-linejoin="round"/>
<polyline points="180.50,401.03 199.60,406.58 218.90,411.70" fill="none" stroke="#ee1c1c" stroke-width="1.1" stroke-linejoin="round"/>
<circle cx="180.50" cy="401.03" r="1.5" fill="#111"/>
<circle cx="199.60" cy="415.11" r="1.5" fill="#111"/>
<circle cx="218.90" cy="428.34" r="1.5" fill="#111"/>
<rect x="179.15" y="399.68" width="2.7" height="2.7" fill="#ee1c1c"/>
<rect x="198.25" y="405.23" width="2.7" height="2.7" fill="#ee1c1c"/>
<rect x="217.55" y="410.35" width="2.7" height="2.7" fill="#ee1c1c"/>
<text x="199.60" y="405.01" font-size="8" text-anchor="middle" fill="#222" stroke="#222" stroke-width="0.22" transform="translate(0 405.01) scale(1 1.1) translate(0 -405.01)">*</text>
<text x="218.90" y="411.21" font-size="8" text-anchor="middle" fill="#222" stroke="#222" stroke-width="0.22" transform="translate(0 411.21) scale(1 1.1) translate(0 -411.21)">**</text>
<line x1="246.20" y1="384.20" x2="253.70" y2="384.20" stroke="#111" stroke-width="0.9"/><circle cx="249.90" cy="384.20" r="1.4" fill="#111"/>
<text x="257.90" y="386.40" font-size="5.0" font-weight="bold" text-anchor="start" fill="#111" stroke="#111" stroke-width="0.22" transform="translate(0 386.40) scale(1 1.1) translate(0 -386.40)">DMSO</text>
<line x1="246.20" y1="392.60" x2="253.70" y2="392.60" stroke="#ee1c1c" stroke-width="0.9"/><rect x="248.60" y="391.30" width="2.6" height="2.6" fill="#ee1c1c"/>
<text x="257.90" y="394.80" font-size="5.0" font-weight="bold" text-anchor="start" fill="#111" stroke="#111" stroke-width="0.22" transform="translate(0 394.80) scale(1 1.1) translate(0 -394.80)">KLX</text>
<text x="304.60" y="354.20" font-size="14" font-weight="bold" text-anchor="start" fill="#111" stroke="#111" stroke-width="0.22">i</text>
<line x1="374.20" y1="470.60" x2="463.60" y2="441.55" stroke="#f8bcc0" stroke-width="1.3"/>
<line x1="374.20" y1="470.60" x2="468.20" y2="470.60" stroke="#f8bcc0" stroke-width="1.3"/>
<line x1="374.20" y1="470.60" x2="463.60" y2="499.65" stroke="#f8bcc0" stroke-width="1.3"/>
<line x1="374.20" y1="470.60" x2="450.25" y2="525.85" stroke="#f8bcc0" stroke-width="1.3"/>
<line x1="374.20" y1="470.60" x2="429.45" y2="546.65" stroke="#f8bcc0" stroke-width="1.3"/>
<line x1="374.20" y1="470.60" x2="403.25" y2="560.00" stroke="#f8bcc0" stroke-width="1.3"/>
<line x1="374.20" y1="470.60" x2="374.20" y2="564.60" stroke="#f8bcc0" stroke-width="1.3"/>
<line x1="374.20" y1="470.60" x2="345.15" y2="560.00" stroke="#f8bcc0" stroke-width="1.3"/>
<line x1="374.20" y1="470.60" x2="318.95" y2="546.65" stroke="#f8bcc0" stroke-width="1.3"/>
<line x1="374.20" y1="470.60" x2="298.15" y2="525.85" stroke="#f8bcc0" stroke-width="1.3"/>
<line x1="374.20" y1="470.60" x2="284.80" y2="499.65" stroke="#f8bcc0" stroke-width="1.3"/>
<line x1="374.20" y1="470.60" x2="280.20" y2="470.60" stroke="#f8bcc0" stroke-width="1.3"/>
<line x1="374.20" y1="470.60" x2="284.80" y2="441.55" stroke="#f8bcc0" stroke-width="1.3"/>
<line x1="374.20" y1="470.60" x2="298.15" y2="415.35" stroke="#f8bcc0" stroke-width="1.3"/>
<line x1="374.20" y1="470.60" x2="318.95" y2="394.55" stroke="#f8bcc0" stroke-width="1.3"/>
<line x1="374.20" y1="470.60" x2="345.15" y2="381.20" stroke="#f8bcc0" stroke-width="1.3"/>
<line x1="374.20" y1="470.60" x2="374.20" y2="376.60" stroke="#f07c80" stroke-width="3.6"/>
<line x1="374.20" y1="470.60" x2="403.25" y2="381.20" stroke="#f07c80" stroke-width="3.6"/>
<line x1="374.20" y1="470.60" x2="429.45" y2="394.55" stroke="#f07c80" stroke-width="3.6"/>
<line x1="374.20" y1="470.60" x2="450.25" y2="415.35" stroke="#f07c80" stroke-width="3.6"/>
<polygon points="374.40,457.50 378.63,466.28 388.29,467.59 381.25,474.32 382.98,483.91 374.40,479.30 365.82,483.91 367.55,474.32 360.51,467.59 370.17,466.28" fill="#4f8cc9" stroke="#4f8cc9" stroke-width="1.2" stroke-linejoin="round"/>
<text x="374.20" y="473.81" font-size="7.0" text-anchor="middle" fill="#1a1a30" stroke="#1a1a30" stroke-width="0.22" transform="translate(0 473.81) scale(1 1.1) translate(0 -473.81)">ZBP1</text>
<circle cx="374.20" cy="376.60" r="11.60" fill="#dcb52c"/>
<text x="374.30" y="384.28" font-size="20.532" font-weight="bold" text-anchor="middle" fill="#fff" stroke="#fff" stroke-width="0.22">R</text>
<text x="374.20" y="363.71" font-size="7.5" text-anchor="middle" fill="#2a2a2a" stroke="#2a2a2a" stroke-width="0.22" transform="translate(0 363.71) scale(1 1.1) translate(0 -363.71)">BMI1</text>
<circle cx="403.25" cy="381.20" r="10.50" fill="#dcb52c"/>
<text x="403.35" y="388.17" font-size="18.585" font-weight="bold" text-anchor="middle" fill="#fff" stroke="#fff" stroke-width="0.22">R</text>
<text x="403.25" y="369.41" font-size="7.5" text-anchor="middle" fill="#2a2a2a" stroke="#2a2a2a" stroke-width="0.22" transform="translate(0 369.41) scale(1 1.1) translate(0 -369.41)">RNF180</text>
<circle cx="429.45" cy="394.55" r="9.90" fill="#dcb52c"/>
<text x="429.55" y="401.14" font-size="17.523" font-weight="bold" text-anchor="middle" fill="#fff" stroke="#fff" stroke-width="0.22">R</text>
<text x="429.45" y="383.36" font-size="7.5" text-anchor="middle" fill="#2a2a2a" stroke="#2a2a2a" stroke-width="0.22" transform="translate(0 383.36) scale(1 1.1) translate(0 -383.36)">SYVN1</text>
<circle cx="450.25" cy="415.35" r="9.60" fill="#dcb52c"/>
<text x="450.35" y="421.74" font-size="16.992" font-weight="bold" text-anchor="middle" fill="#fff" stroke="#fff" stroke-width="0.22">R</text>
<text x="450.25" y="404.46" font-size="7.5" text-anchor="middle" fill="#2a2a2a" stroke="#2a2a2a" stroke-width="0.22" transform="translate(0 404.46) scale(1 1.1) translate(0 -404.46)">MDM2</text>
<circle cx="463.60" cy="441.55" r="7.10" fill="#dcb52c"/>
<text x="463.70" y="446.33" font-size="12.567" font-weight="bold" text-anchor="middle" fill="#fff" stroke="#fff" stroke-width="0.22">R</text>
<text x="463.60" y="433.16" font-size="7.5" text-anchor="middle" fill="#2a2a2a" stroke="#2a2a2a" stroke-width="0.22" transform="translate(0 433.16) scale(1 1.1) translate(0 -433.16)">CBLC</text>
<circle cx="468.20" cy="470.60" r="7.10" fill="#dcb52c"/>
<text x="468.30" y="475.38" font-size="12.567" font-weight="bold" text-anchor="middle" fill="#fff" stroke="#fff" stroke-width="0.22">R</text>
<text x="468.20" y="462.21" font-size="7.5" text-anchor="middle" fill="#2a2a2a" stroke="#2a2a2a" stroke-width="0.22" transform="translate(0 462.21) scale(1 1.1) translate(0 -462.21)">MIB2</text>
<circle cx="463.60" cy="499.65" r="7.10" fill="#dcb52c"/>
<text x="463.70" y="504.43" font-size="12.567" font-weight="bold" text-anchor="middle" fill="#fff" stroke="#fff" stroke-width="0.22">R</text>
<text x="463.60" y="513.15" font-size="7.5" text-anchor="middle" fill="#2a2a2a" stroke="#2a2a2a" stroke-width="0.22" transform="translate(0 513.15) scale(1 1.1) translate(0 -513.15)">TRAF3</text>
<circle cx="450.25" cy="525.85" r="7.10" fill="#dcb52c"/>
<text x="450.35" y="530.63" font-size="12.567" font-weight="bold" text-anchor="middle" fill="#fff" stroke="#fff" stroke-width="0.22">R</text>
<text x="450.25" y="539.36" font-size="7.5" text-anchor="middle" fill="#2a2a2a" stroke="#2a2a2a" stroke-width="0.22" transform="translate(0 539.36) scale(1 1.1) translate(0 -539.36)">BIRC3</text>
<circle cx="429.45" cy="546.65" r="7.10" fill="#dcb52c"/>
<text x="429.55" y="551.43" font-size="12.567" font-weight="bold" text-anchor="middle" fill="#fff" stroke="#fff" stroke-width="0.22">R</text>
<text x="429.45" y="560.15" font-size="7.5" text-anchor="middle" fill="#2a2a2a" stroke="#2a2a2a" stroke-width="0.22" transform="translate(0 560.15) scale(1 1.1) translate(0 -560.15)">RNF151</text>
<circle cx="403.25" cy="560.00" r="7.10" fill="#f5a11f"/>
<text x="403.25" y="562.70" font-size="6.744999999999999" font-weight="bold" text-anchor="middle" fill="#fff" stroke="#fff" stroke-width="0.22" transform="translate(0 562.70) scale(1 1.1) translate(0 -562.70)">B3</text>
<text x="403.25" y="573.51" font-size="7.5" text-anchor="middle" fill="#2a2a2a" stroke="#2a2a2a" stroke-width="0.22" transform="translate(0 573.51) scale(1 1.1) translate(0 -573.51)">SPOPL</text>
<circle cx="374.20" cy="564.60" r="7.10" fill="#dcb52c"/>
<text x="374.30" y="569.38" font-size="12.567" font-weight="bold" text-anchor="middle" fill="#fff" stroke="#fff" stroke-width="0.22">R</text>
<text x="374.20" y="578.11" font-size="7.5" text-anchor="middle" fill="#2a2a2a" stroke="#2a2a2a" stroke-width="0.22" transform="translate(0 578.11) scale(1 1.1) translate(0 -578.11)">BIRC2</text>
<circle cx="345.15" cy="560.00" r="7.10" fill="#dcb52c"/>
<text x="345.25" y="564.78" font-size="12.567" font-weight="bold" text-anchor="middle" fill="#fff" stroke="#fff" stroke-width="0.22">R</text>
<text x="345.15" y="573.51" font-size="7.5" text-anchor="middle" fill="#2a2a2a" stroke="#2a2a2a" stroke-width="0.22" transform="translate(0 573.51) scale(1 1.1) translate(0 -573.51)">TRAF6</text>
<circle cx="318.95" cy="546.65" r="7.10" fill="#dcb52c"/>
<text x="319.05" y="551.43" font-size="12.567" font-weight="bold" text-anchor="middle" fill="#fff" stroke="#fff" stroke-width="0.22">R</text>
<text x="318.95" y="560.15" font-size="7.5" text-anchor="middle" fill="#2a2a2a" stroke="#2a2a2a" stroke-width="0.22" transform="translate(0 560.15) scale(1 1.1) translate(0 -560.15)">PDZRN3</text>
<circle cx="298.15" cy="525.85" r="7.10" fill="#dcb52c"/>
<text x="298.25" y="530.63" font-size="12.567" font-weight="bold" text-anchor="middle" fill="#fff" stroke="#fff" stroke-width="0.22">R</text>
<text x="298.15" y="539.36" font-size="7.5" text-anchor="middle" fill="#2a2a2a" stroke="#2a2a2a" stroke-width="0.22" transform="translate(0 539.36) scale(1 1.1) translate(0 -539.36)">TRAF5</text>
<circle cx="284.80" cy="499.65" r="7.10" fill="#dcb52c"/>
<text x="284.90" y="504.43" font-size="12.567" font-weight="bold" text-anchor="middle" fill="#fff" stroke="#fff" stroke-width="0.22">R</text>
<text x="284.80" y="513.15" font-size="7.5" text-anchor="middle" fill="#2a2a2a" stroke="#2a2a2a" stroke-width="0.22" transform="translate(0 513.15) scale(1 1.1) translate(0 -513.15)">TRIM37</text>
<circle cx="280.20" cy="470.60" r="7.10" fill="#2ed12e"/>
<text x="280.30" y="475.20" font-size="12.069999999999999" font-weight="bold" text-anchor="middle" fill="#2ed12e" stroke="#fff" stroke-width="1.7" paint-order="stroke">D</text>
<text x="280.20" y="484.11" font-size="7.5" text-anchor="middle" fill="#2a2a2a" stroke="#2a2a2a" stroke-width="0.22" transform="translate(0 484.11) scale(1 1.1) translate(0 -484.11)">TRAF7</text>
<circle cx="284.80" cy="441.55" r="7.10" fill="#2ed12e"/>
<text x="284.90" y="446.15" font-size="12.069999999999999" font-weight="bold" text-anchor="middle" fill="#2ed12e" stroke="#fff" stroke-width="1.7" paint-order="stroke">D</text>
<text x="284.80" y="433.16" font-size="7.5" text-anchor="middle" fill="#2a2a2a" stroke="#2a2a2a" stroke-width="0.22" transform="translate(0 433.16) scale(1 1.1) translate(0 -433.16)">APAF1</text>
<circle cx="298.15" cy="415.35" r="7.10" fill="#dcb52c"/>
<text x="298.25" y="420.13" font-size="12.567" font-weight="bold" text-anchor="middle" fill="#fff" stroke="#fff" stroke-width="0.22">R</text>
<text x="298.15" y="406.96" font-size="7.5" text-anchor="middle" fill="#2a2a2a" stroke="#2a2a2a" stroke-width="0.22" transform="translate(0 406.96) scale(1 1.1) translate(0 -406.96)">TRAF4</text>
<circle cx="318.95" cy="394.55" r="7.10" fill="#dcb52c"/>
<text x="319.05" y="399.33" font-size="12.567" font-weight="bold" text-anchor="middle" fill="#fff" stroke="#fff" stroke-width="0.22">R</text>
<text x="318.95" y="386.16" font-size="7.5" text-anchor="middle" fill="#2a2a2a" stroke="#2a2a2a" stroke-width="0.22" transform="translate(0 386.16) scale(1 1.1) translate(0 -386.16)">TRAF2</text>
<circle cx="345.15" cy="381.20" r="7.10" fill="#dcb52c"/>
<text x="345.25" y="385.98" font-size="12.567" font-weight="bold" text-anchor="middle" fill="#fff" stroke="#fff" stroke-width="0.22">R</text>
<text x="345.15" y="372.81" font-size="7.5" text-anchor="middle" fill="#2a2a2a" stroke="#2a2a2a" stroke-width="0.22" transform="translate(0 372.81) scale(1 1.1) translate(0 -372.81)">XIAP</text>
<text x="480.60" y="354.20" font-size="14" font-weight="bold" text-anchor="start" fill="#111" stroke="#111" stroke-width="0.22">j</text>
<path d="M506,386 C507,381 509,379 511,381 L510,392 C512,398 516,402 520,400 C522,395 518,388 521,384 C524,380 528,382 532,381" fill="none" stroke="#dc94cc" stroke-width="1.1"/>
<path d="M505,383 L508,401 L511,404" fill="none" stroke="#dc94cc" stroke-width="2"/>
<path d="M513,384 L517,397 L522,402" fill="none" stroke="#dc94cc" stroke-width="1.6"/>
<path d="M505,406 C508,412 514,414 520,412 M516,404 C520,410 524,414 528,416" fill="none" stroke="#dc94cc" stroke-width="1"/>
<path d="M523.01,395.54 L523.84,395.78 L524.77,395.74 L525.78,395.45 L526.81,394.92 L527.83,394.22 L528.79,393.39 L529.65,392.52 L530.38,391.67 L530.96,390.92 L531.37,390.33 L531.62,389.95 L531.70,389.82 L530.99,389.46 L530.16,389.22 L529.23,389.26 L528.22,389.55 L527.19,390.08 L526.17,390.78 L525.21,391.61 L524.35,392.48 L523.62,393.33 L523.04,394.08 L522.63,394.67 L522.38,395.05 L522.30,395.18Z" fill="#b870aa" stroke="#a86098" stroke-width="0.4" stroke-linejoin="round"/><path d="M522.37,385.15 L523.06,385.67 L523.59,386.44 L523.96,387.42 L524.16,388.56 L524.21,389.80 L524.12,391.06 L523.94,392.27 L523.70,393.37 L523.45,394.28 L523.22,394.97 L523.06,395.39 L523.01,395.54 L522.30,395.18 L521.61,394.66 L521.07,393.89 L520.71,392.91 L520.51,391.77 L520.46,390.53 L520.54,389.27 L520.73,388.06 L520.96,386.97 L521.22,386.05 L521.45,385.37 L521.60,384.94 L521.65,384.80Z" fill="#e0a0d4" stroke="#a86098" stroke-width="0.4" stroke-linejoin="round"/><path d="M531.70,389.82 L532.39,390.34 L532.93,391.11 L533.29,392.09 L533.49,393.23 L533.54,394.47 L533.46,395.73 L533.27,396.94 L533.04,398.03 L532.78,398.95 L532.55,399.63 L532.40,400.06 L532.35,400.20 L531.63,399.85 L530.94,399.33 L530.41,398.56 L530.04,397.58 L529.84,396.44 L529.79,395.20 L529.88,393.94 L530.06,392.73 L530.30,391.63 L530.55,390.72 L530.78,390.03 L530.94,389.61 L530.99,389.46Z" fill="#e0a0d4" stroke="#a86098" stroke-width="0.4" stroke-linejoin="round"/>
<path d="M525.96,402.85 L526.19,403.58 L526.71,404.25 L527.49,404.84 L528.47,405.33 L529.60,405.72 L530.80,405.99 L531.99,406.15 L533.08,406.22 L534.02,406.21 L534.73,406.14 L535.17,406.04 L535.32,405.95 L535.24,405.15 L535.01,404.42 L534.49,403.75 L533.71,403.16 L532.73,402.67 L531.60,402.28 L530.40,402.01 L529.21,401.85 L528.12,401.78 L527.18,401.79 L526.47,401.86 L526.03,401.96 L525.88,402.05Z" fill="#b870aa" stroke="#a86098" stroke-width="0.4" stroke-linejoin="round"/><path d="M526.76,410.85 L526.99,411.58 L527.51,412.25 L528.29,412.84 L529.27,413.33 L530.40,413.72 L531.60,413.99 L532.79,414.15 L533.88,414.22 L534.82,414.21 L535.53,414.14 L535.97,414.04 L536.12,413.95 L536.04,413.15 L535.81,412.42 L535.29,411.75 L534.51,411.16 L533.53,410.67 L532.40,410.28 L531.20,410.01 L530.01,409.85 L528.92,409.78 L527.98,409.79 L527.27,409.86 L526.83,409.96 L526.68,410.05Z" fill="#b870aa" stroke="#a86098" stroke-width="0.4" stroke-linejoin="round"/><path d="M534.52,397.95 L534.44,398.71 L534.06,399.47 L533.42,400.21 L532.55,400.89 L531.52,401.49 L530.40,401.99 L529.27,402.39 L528.21,402.67 L527.29,402.84 L526.57,402.92 L526.12,402.91 L525.96,402.85 L525.88,402.05 L525.96,401.29 L526.34,400.53 L526.98,399.79 L527.85,399.11 L528.88,398.51 L530.00,398.01 L531.13,397.61 L532.19,397.33 L533.11,397.16 L533.83,397.08 L534.28,397.09 L534.44,397.15Z" fill="#e0a0d4" stroke="#a86098" stroke-width="0.4" stroke-linejoin="round"/><path d="M535.32,405.95 L535.24,406.71 L534.86,407.47 L534.22,408.21 L533.35,408.89 L532.32,409.49 L531.20,409.99 L530.07,410.39 L529.01,410.67 L528.09,410.84 L527.37,410.92 L526.92,410.91 L526.76,410.85 L526.68,410.05 L526.76,409.29 L527.14,408.53 L527.78,407.79 L528.65,407.11 L529.68,406.51 L530.80,406.01 L531.93,405.61 L532.99,405.33 L533.91,405.16 L534.63,405.08 L535.08,405.09 L535.24,405.15Z" fill="#e0a0d4" stroke="#a86098" stroke-width="0.4" stroke-linejoin="round"/><path d="M536.12,413.95 L536.04,414.71 L535.66,415.47 L535.02,416.21 L534.15,416.89 L533.12,417.49 L532.00,417.99 L530.87,418.39 L529.81,418.67 L528.89,418.84 L528.17,418.92 L527.72,418.91 L527.56,418.85 L527.48,418.05 L527.56,417.29 L527.94,416.53 L528.58,415.79 L529.45,415.11 L530.48,414.51 L531.60,414.01 L532.73,413.61 L533.79,413.33 L534.71,413.16 L535.43,413.08 L535.88,413.09 L536.04,413.15Z" fill="#e0a0d4" stroke="#a86098" stroke-width="0.4" stroke-linejoin="round"/>
<path d="M506.09,418.01 L506.89,418.15 L507.78,418.01 L508.70,417.60 L509.64,416.96 L510.54,416.15 L511.37,415.22 L512.10,414.25 L512.70,413.32 L513.15,412.50 L513.46,411.85 L513.63,411.43 L513.66,411.28 L512.91,410.99 L512.11,410.85 L511.22,410.99 L510.30,411.40 L509.36,412.04 L508.46,412.85 L507.63,413.78 L506.90,414.75 L506.30,415.68 L505.85,416.50 L505.54,417.15 L505.37,417.57 L505.34,417.72Z" fill="#b870aa" stroke="#a86098" stroke-width="0.4" stroke-linejoin="round"/><path d="M504.99,407.94 L505.68,408.37 L506.24,409.07 L506.65,410.00 L506.92,411.10 L507.04,412.31 L507.03,413.55 L506.93,414.76 L506.75,415.85 L506.54,416.77 L506.33,417.46 L506.17,417.88 L506.09,418.01 L505.34,417.72 L504.65,417.29 L504.09,416.60 L503.68,415.67 L503.41,414.57 L503.29,413.36 L503.30,412.12 L503.41,410.91 L503.59,409.81 L503.80,408.90 L504.00,408.21 L504.16,407.79 L504.24,407.66Z" fill="#e0a0d4" stroke="#a86098" stroke-width="0.4" stroke-linejoin="round"/><path d="M513.66,411.28 L514.35,411.71 L514.91,412.40 L515.32,413.33 L515.59,414.43 L515.71,415.64 L515.70,416.88 L515.59,418.09 L515.41,419.19 L515.20,420.10 L515.00,420.79 L514.84,421.21 L514.76,421.34 L514.01,421.06 L513.32,420.63 L512.76,419.93 L512.35,419.00 L512.08,417.90 L511.96,416.69 L511.97,415.45 L512.07,414.24 L512.25,413.15 L512.46,412.23 L512.67,411.54 L512.83,411.12 L512.91,410.99Z" fill="#e0a0d4" stroke="#a86098" stroke-width="0.4" stroke-linejoin="round"/>
<path d="M515.85,425.98 L516.72,426.00 L517.63,425.69 L518.54,425.08 L519.42,424.21 L520.23,423.15 L520.95,421.99 L521.54,420.79 L522.00,419.66 L522.32,418.67 L522.51,417.90 L522.57,417.40 L522.52,417.22 L521.65,417.02 L520.78,417.00 L519.87,417.31 L518.96,417.92 L518.08,418.79 L517.27,419.85 L516.55,421.01 L515.96,422.21 L515.50,423.34 L515.18,424.33 L514.99,425.10 L514.93,425.60 L514.98,425.78Z" fill="#b870aa" stroke="#a86098" stroke-width="0.4" stroke-linejoin="round"/><path d="M524.85,427.98 L525.72,428.00 L526.63,427.69 L527.54,427.08 L528.42,426.21 L529.23,425.15 L529.95,423.99 L530.54,422.79 L531.00,421.66 L531.32,420.67 L531.51,419.90 L531.57,419.40 L531.52,419.22 L530.65,419.02 L529.78,419.00 L528.87,419.31 L527.96,419.92 L527.08,420.79 L526.27,421.85 L525.55,423.01 L524.96,424.21 L524.50,425.34 L524.18,426.33 L523.99,427.10 L523.93,427.60 L523.98,427.78Z" fill="#b870aa" stroke="#a86098" stroke-width="0.4" stroke-linejoin="round"/><path d="M513.52,415.22 L514.32,415.57 L515.01,416.23 L515.57,417.17 L516.00,418.33 L516.29,419.63 L516.45,420.99 L516.48,422.32 L516.42,423.54 L516.29,424.58 L516.13,425.35 L515.97,425.83 L515.85,425.98 L514.98,425.78 L514.18,425.43 L513.49,424.77 L512.93,423.83 L512.50,422.67 L512.21,421.37 L512.05,420.01 L512.02,418.68 L512.08,417.46 L512.21,416.42 L512.37,415.65 L512.53,415.17 L512.65,415.02Z" fill="#e0a0d4" stroke="#a86098" stroke-width="0.4" stroke-linejoin="round"/><path d="M522.52,417.22 L523.32,417.57 L524.01,418.23 L524.57,419.17 L525.00,420.33 L525.29,421.63 L525.45,422.99 L525.48,424.32 L525.42,425.54 L525.29,426.58 L525.13,427.35 L524.97,427.83 L524.85,427.98 L523.98,427.78 L523.18,427.43 L522.49,426.77 L521.93,425.83 L521.50,424.67 L521.21,423.37 L521.05,422.01 L521.02,420.68 L521.08,419.46 L521.21,418.42 L521.37,417.65 L521.53,417.17 L521.65,417.02Z" fill="#e0a0d4" stroke="#a86098" stroke-width="0.4" stroke-linejoin="round"/>
<ellipse cx="510.5" cy="432.5" rx="4.3" ry="3" fill="none" stroke="#4e6a4c" stroke-width="2.2"/>
<path d="M514,434 C518,436 520,433 523,433" fill="none" stroke="#6a8466" stroke-width="1.6"/>
<path d="M497.98,447.19 L498.76,447.59 L499.72,447.72 L500.82,447.59 L502.01,447.21 L503.21,446.63 L504.38,445.91 L505.45,445.11 L506.38,444.30 L507.12,443.57 L507.63,442.96 L507.92,442.55 L507.97,442.38 L507.27,441.81 L506.49,441.41 L505.53,441.28 L504.43,441.41 L503.24,441.79 L502.04,442.37 L500.87,443.09 L499.80,443.89 L498.87,444.70 L498.13,445.43 L497.62,446.04 L497.33,446.45 L497.28,446.62Z" fill="#94c48c" stroke="#80b078" stroke-width="0.4" stroke-linejoin="round"/><path d="M505.48,453.19 L506.26,453.59 L507.22,453.72 L508.32,453.59 L509.51,453.21 L510.71,452.63 L511.88,451.91 L512.95,451.11 L513.88,450.30 L514.62,449.57 L515.13,448.96 L515.42,448.55 L515.47,448.38 L514.77,447.81 L513.99,447.41 L513.03,447.28 L511.93,447.41 L510.74,447.79 L509.54,448.37 L508.37,449.09 L507.30,449.89 L506.37,450.70 L505.63,451.43 L505.12,452.04 L504.83,452.45 L504.78,452.62Z" fill="#94c48c" stroke="#80b078" stroke-width="0.4" stroke-linejoin="round"/><path d="M500.47,436.38 L501.04,437.05 L501.38,437.96 L501.49,439.07 L501.38,440.30 L501.08,441.61 L500.63,442.91 L500.09,444.13 L499.51,445.21 L498.95,446.09 L498.47,446.72 L498.14,447.09 L497.98,447.19 L497.28,446.62 L496.71,445.95 L496.37,445.04 L496.26,443.93 L496.37,442.70 L496.67,441.39 L497.12,440.09 L497.66,438.87 L498.24,437.79 L498.80,436.91 L499.28,436.28 L499.61,435.91 L499.77,435.81Z" fill="#c4e8bc" stroke="#80b078" stroke-width="0.4" stroke-linejoin="round"/><path d="M507.97,442.38 L508.54,443.05 L508.88,443.96 L508.99,445.07 L508.88,446.30 L508.58,447.61 L508.13,448.91 L507.59,450.13 L507.01,451.21 L506.45,452.09 L505.97,452.72 L505.64,453.09 L505.48,453.19 L504.78,452.62 L504.21,451.95 L503.87,451.04 L503.76,449.93 L503.87,448.70 L504.17,447.39 L504.62,446.09 L505.16,444.87 L505.74,443.79 L506.30,442.91 L506.78,442.28 L507.11,441.91 L507.27,441.81Z" fill="#c4e8bc" stroke="#80b078" stroke-width="0.4" stroke-linejoin="round"/>
<path d="M510.41,454.56 L511.19,454.81 L512.11,454.76 L513.12,454.42 L514.17,453.83 L515.22,453.04 L516.20,452.12 L517.08,451.13 L517.82,450.16 L518.37,449.29 L518.74,448.58 L518.90,448.09 L518.87,447.88 L518.09,447.44 L517.31,447.19 L516.39,447.24 L515.38,447.58 L514.33,448.17 L513.28,448.96 L512.30,449.88 L511.42,450.87 L510.68,451.84 L510.13,452.71 L509.76,453.42 L509.60,453.91 L509.63,454.12Z" fill="#94c48c" stroke="#80b078" stroke-width="0.4" stroke-linejoin="round"/><path d="M517.41,458.56 L518.19,458.81 L519.11,458.76 L520.12,458.42 L521.17,457.83 L522.22,457.04 L523.20,456.12 L524.08,455.13 L524.82,454.16 L525.37,453.29 L525.74,452.58 L525.90,452.09 L525.87,451.88 L525.09,451.44 L524.31,451.19 L523.39,451.24 L522.38,451.58 L521.33,452.17 L520.28,452.96 L519.30,453.88 L518.42,454.87 L517.68,455.84 L517.13,456.71 L516.76,457.42 L516.60,457.91 L516.63,458.12Z" fill="#94c48c" stroke="#80b078" stroke-width="0.4" stroke-linejoin="round"/><path d="M511.87,443.88 L512.48,444.43 L512.90,445.24 L513.12,446.29 L513.15,447.49 L513.00,448.80 L512.70,450.12 L512.30,451.38 L511.84,452.50 L511.37,453.42 L510.94,454.10 L510.61,454.48 L510.41,454.56 L509.63,454.12 L509.02,453.57 L508.60,452.76 L508.38,451.71 L508.35,450.51 L508.50,449.20 L508.80,447.88 L509.20,446.62 L509.66,445.50 L510.13,444.58 L510.56,443.90 L510.89,443.52 L511.09,443.44Z" fill="#c4e8bc" stroke="#80b078" stroke-width="0.4" stroke-linejoin="round"/><path d="M518.87,447.88 L519.48,448.43 L519.90,449.24 L520.12,450.29 L520.15,451.49 L520.00,452.80 L519.70,454.12 L519.30,455.38 L518.84,456.50 L518.37,457.42 L517.94,458.10 L517.61,458.48 L517.41,458.56 L516.63,458.12 L516.02,457.57 L515.60,456.76 L515.38,455.71 L515.35,454.51 L515.50,453.20 L515.80,451.88 L516.20,450.62 L516.66,449.50 L517.13,448.58 L517.56,447.90 L517.89,447.52 L518.09,447.44Z" fill="#c4e8bc" stroke="#80b078" stroke-width="0.4" stroke-linejoin="round"/>
<path d="M514,442 L525,438 L530,435" fill="none" stroke="#b4dcae" stroke-width="2.2"/>
<path d="M532,426 C536,428 536,434 532,436 C528,436 527,431 530,428" fill="none" stroke="#aaa" stroke-width="0.8"/>
<path d="M520,455 C524,452 526,446 522,443" fill="none" stroke="#888" stroke-width="0.6"/>
<rect x="505.60" y="419.30" width="29.20" height="24.30" fill="none" stroke="#999" stroke-width="0.8"/>
<line x1="534.80" y1="419.30" x2="569.70" y2="371.70" stroke="#333" stroke-width="0.7" stroke-dasharray="1.6,1.6"/>
<line x1="534.80" y1="443.60" x2="569.70" y2="461.20" stroke="#333" stroke-width="0.7" stroke-dasharray="1.6,1.6"/>
<g opacity="0.22">
<path d="M575,420 C585,412 600,414 604,426 C606,440 596,450 584,448 Z" fill="#dcefd8"/>
<path d="M650,395 C662,388 678,392 680,406 C680,418 668,420 660,414 Z" fill="#f4dcea"/>
<path d="M640,430 C650,424 668,430 670,445 C668,456 650,458 642,450 Z" fill="#f4dcea"/>
<path d="M600,430 C610,425 620,432 618,445 C612,452 602,448 600,440 Z" fill="#e6f2e4"/>
</g>
<polyline points="617.60,396.90 621.00,394.30 624.60,389.00 627.20,385.50 630.70,384.60 634.20,385.50 636.00,384.60 638.60,385.50" fill="none" stroke="#86b686" stroke-width="2.2" stroke-linejoin="round" stroke-linecap="round" stroke-linejoin="round"/>
<polyline points="638.60,385.50 641.00,383.50" fill="none" stroke="#2e3ed6" stroke-width="2.2" stroke-linejoin="round" stroke-linecap="round" stroke-linejoin="round"/>
<polyline points="638.60,385.50 640.50,388.00" fill="none" stroke="#2e3ed6" stroke-width="2.2" stroke-linejoin="round" stroke-linecap="round" stroke-linejoin="round"/>
<polyline points="607.00,396.00 612.30,394.30 615.80,397.80 614.00,402.20 609.70,402.20 607.00,396.00" fill="none" stroke="#cc7ebc" stroke-width="2.2" stroke-linejoin="round" stroke-linecap="round" stroke-linejoin="round"/>
<polyline points="596.50,390.80 598.30,394.30 600.00,396.90 602.70,399.50 607.00,396.00" fill="none" stroke="#cc7ebc" stroke-width="2.2" stroke-linejoin="round" stroke-linecap="round" stroke-linejoin="round"/>
<polyline points="596.50,390.80 597.50,388.00" fill="none" stroke="#d03030" stroke-width="1.8" stroke-linejoin="round" stroke-linecap="round" stroke-linejoin="round"/>
<polyline points="598.30,394.30 596.00,396.00" fill="none" stroke="#2e3ed6" stroke-width="2.2" stroke-linejoin="round" stroke-linecap="round" stroke-linejoin="round"/>
<polyline points="603.00,398.00 606.00,399.00" fill="none" stroke="#2e3ed6" stroke-width="2.2" stroke-linejoin="round" stroke-linecap="round" stroke-linejoin="round"/>
<polyline points="609.00,399.00 611.00,400.50" fill="none" stroke="#2e3ed6" stroke-width="2.2" stroke-linejoin="round" stroke-linecap="round" stroke-linejoin="round"/>
<polyline points="607.00,404.80 607.90,410.00 607.00,415.30 608.80,418.80" fill="none" stroke="#cc7ebc" stroke-width="2.2" stroke-linejoin="round" stroke-linecap="round" stroke-linejoin="round"/>
<polyline points="606.50,406.00 607.50,409.00" fill="none" stroke="#2e3ed6" stroke-width="2.2" stroke-linejoin="round" stroke-linecap="round" stroke-linejoin="round"/>
<polyline points="607.30,412.00 607.00,415.30" fill="none" stroke="#2e3ed6" stroke-width="2.2" stroke-linejoin="round" stroke-linecap="round" stroke-linejoin="round"/>
<polyline points="608.80,417.00 614.00,418.00 617.60,417.00 617.60,419.70 612.30,420.60 608.80,418.80" fill="none" stroke="#cc7ebc" stroke-width="2.2" stroke-linejoin="round" stroke-linecap="round" stroke-linejoin="round"/>
<polyline points="615.80,410.00 621.00,411.80 625.40,413.50 627.20,416.20" fill="none" stroke="#86b686" stroke-width="2.2" stroke-linejoin="round" stroke-linecap="round" stroke-linejoin="round"/>
<polyline points="618.50,405.00 620.50,408.00" fill="none" stroke="#a0a8e8" stroke-width="1.8" stroke-linejoin="round" stroke-linecap="round" stroke-linejoin="round"/>
<polyline points="591.30,425.80 594.80,428.40 596.50,432.80 593.00,435.50 589.50,434.60" fill="none" stroke="#86b686" stroke-width="2.2" stroke-linejoin="round" stroke-linecap="round" stroke-linejoin="round"/>
<polyline points="589.50,434.60 587.50,433.00" fill="none" stroke="#2e3ed6" stroke-width="2.2" stroke-linejoin="round" stroke-linecap="round" stroke-linejoin="round"/>
<polyline points="593.00,435.50 592.00,438.50" fill="none" stroke="#2e3ed6" stroke-width="2.2" stroke-linejoin="round" stroke-linecap="round" stroke-linejoin="round"/>
<polyline points="591.30,425.80 589.00,426.50" fill="none" stroke="#2e3ed6" stroke-width="2.2" stroke-linejoin="round" stroke-linecap="round" stroke-linejoin="round"/>
<polyline points="600.00,424.00 603.50,427.60 605.30,431.00 607.00,434.60 610.50,435.50" fill="none" stroke="#86b686" stroke-width="2.2" stroke-linejoin="round" stroke-linecap="round" stroke-linejoin="round"/>
<polyline points="600.00,420.50 603.00,422.50 606.00,424.00" fill="none" stroke="#cc7ebc" stroke-width="2.2" stroke-linejoin="round" stroke-linecap="round" stroke-linejoin="round"/>
<polyline points="598.00,421.00 600.00,424.00" fill="none" stroke="#d03030" stroke-width="1.8" stroke-linejoin="round" stroke-linecap="round" stroke-linejoin="round"/>
<polyline points="631.60,401.30 635.00,403.00 638.60,405.70 640.30,410.00 638.60,412.70 639.50,415.30 643.00,416.20 645.60,415.30" fill="none" stroke="#86b686" stroke-width="2.2" stroke-linejoin="round" stroke-linecap="round" stroke-linejoin="round"/>
<polyline points="652.60,404.80 657.90,405.70 661.40,407.40 662.20,410.90 660.50,414.40 661.40,418.80 659.60,422.30 657.00,425.80" fill="none" stroke="#cc7ebc" stroke-width="2.2" stroke-linejoin="round" stroke-linecap="round" stroke-linejoin="round"/>
<polyline points="650.00,404.00 652.60,404.80" fill="none" stroke="#2e3ed6" stroke-width="2.2" stroke-linejoin="round" stroke-linecap="round" stroke-linejoin="round"/>
<polyline points="658.50,413.00 660.50,414.40" fill="none" stroke="#2e3ed6" stroke-width="2.2" stroke-linejoin="round" stroke-linecap="round" stroke-linejoin="round"/>
<polyline points="653.00,427.00 655.00,428.50" fill="none" stroke="#2e3ed6" stroke-width="2.2" stroke-linejoin="round" stroke-linecap="round" stroke-linejoin="round"/>
<polyline points="662.20,410.90 665.50,409.50" fill="none" stroke="#d03030" stroke-width="1.8" stroke-linejoin="round" stroke-linecap="round" stroke-linejoin="round"/>
<polyline points="661.40,418.80 664.00,419.50" fill="none" stroke="#d03030" stroke-width="1.8" stroke-linejoin="round" stroke-linecap="round" stroke-linejoin="round"/>
<polyline points="635.00,422.30 638.60,424.00 642.10,423.20 645.60,423.20 649.10,425.80 650.80,428.40" fill="none" stroke="#86b686" stroke-width="2.2" stroke-linejoin="round" stroke-linecap="round" stroke-linejoin="round"/>
<polyline points="634.20,423.00 634.20,427.60 635.00,432.80" fill="none" stroke="#86b686" stroke-width="2.2" stroke-linejoin="round" stroke-linecap="round" stroke-linejoin="round"/>
<polyline points="645.60,432.80 649.10,436.30 650.80,439.80 651.70,445.10 650.00,447.70" fill="none" stroke="#cc7ebc" stroke-width="2.2" stroke-linejoin="round" stroke-linecap="round" stroke-linejoin="round"/>
<polyline points="652.00,435.00 653.50,437.00" fill="none" stroke="#2e3ed6" stroke-width="2.2" stroke-linejoin="round" stroke-linecap="round" stroke-linejoin="round"/>
<polyline points="650.00,447.70 648.50,449.50" fill="none" stroke="#d03030" stroke-width="1.8" stroke-linejoin="round" stroke-linecap="round" stroke-linejoin="round"/>
<polyline points="598.00,402.00 601.00,406.00" fill="none" stroke="#2e3ed6" stroke-width="2.0" stroke-linejoin="round" stroke-linecap="round" stroke-linejoin="round"/>
<polyline points="601.00,406.00 604.00,404.00" fill="none" stroke="#cc7ebc" stroke-width="2.0" stroke-linejoin="round" stroke-linecap="round" stroke-linejoin="round"/>
<polyline points="612.00,406.00 615.00,409.00" fill="none" stroke="#2e3ed6" stroke-width="2.0" stroke-linejoin="round" stroke-linecap="round" stroke-linejoin="round"/>
<polyline points="610.00,412.00 613.00,414.00" fill="none" stroke="#cc7ebc" stroke-width="2.0" stroke-linejoin="round" stroke-linecap="round" stroke-linejoin="round"/>
<polyline points="604.00,420.00 607.00,418.00" fill="none" stroke="#2e3ed6" stroke-width="2.0" stroke-linejoin="round" stroke-linecap="round" stroke-linejoin="round"/>
<polyline points="597.00,428.00 599.00,431.00" fill="none" stroke="#2e3ed6" stroke-width="2.0" stroke-linejoin="round" stroke-linecap="round" stroke-linejoin="round"/>
<polyline points="586.00,430.00 588.00,433.00" fill="none" stroke="#6a9a6a" stroke-width="2.0" stroke-linejoin="round" stroke-linecap="round" stroke-linejoin="round"/>
<polyline points="588.00,438.00 591.00,440.00" fill="none" stroke="#d03030" stroke-width="2.0" stroke-linejoin="round" stroke-linecap="round" stroke-linejoin="round"/>
<polyline points="596.00,437.00 599.00,440.00" fill="none" stroke="#2e3ed6" stroke-width="2.0" stroke-linejoin="round" stroke-linecap="round" stroke-linejoin="round"/>
<polyline points="619.00,398.00 622.00,401.00" fill="none" stroke="#86b686" stroke-width="2.0" stroke-linejoin="round" stroke-linecap="round" stroke-linejoin="round"/>
<polyline points="624.00,404.00 626.00,407.00" fill="none" stroke="#2e3ed6" stroke-width="2.0" stroke-linejoin="round" stroke-linecap="round" stroke-linejoin="round"/>
<polyline points="629.00,398.00 632.00,401.00" fill="none" stroke="#d03030" stroke-width="2.0" stroke-linejoin="round" stroke-linecap="round" stroke-linejoin="round"/>
<polyline points="648.00,410.00 651.00,408.00" fill="none" stroke="#86b686" stroke-width="2.0" stroke-linejoin="round" stroke-linecap="round" stroke-linejoin="round"/>
<polyline points="646.00,419.00 648.00,422.00" fill="none" stroke="#2e3ed6" stroke-width="2.0" stroke-linejoin="round" stroke-linecap="round" stroke-linejoin="round"/>
<polyline points="655.00,432.00 658.00,430.00" fill="none" stroke="#d03030" stroke-width="2.0" stroke-linejoin="round" stroke-linecap="round" stroke-linejoin="round"/>
<polyline points="643.00,428.00 645.00,431.00" fill="none" stroke="#2e3ed6" stroke-width="2.0" stroke-linejoin="round" stroke-linecap="round" stroke-linejoin="round"/>
<polyline points="617.00,425.00 620.00,428.00" fill="none" stroke="#86b686" stroke-width="2.0" stroke-linejoin="round" stroke-linecap="round" stroke-linejoin="round"/>
<line x1="612.00" y1="398.00" x2="620.00" y2="396.00" stroke="#d8d050" stroke-width="0.8" stroke-dasharray="1,1"/>
<line x1="640.00" y1="405.00" x2="652.00" y2="405.00" stroke="#d8d050" stroke-width="0.8" stroke-dasharray="1,1"/>
<line x1="645.00" y1="416.00" x2="652.00" y2="420.00" stroke="#d8d050" stroke-width="0.8" stroke-dasharray="1,1"/>
<line x1="603.00" y1="427.00" x2="596.00" y2="431.00" stroke="#d8d050" stroke-width="0.8" stroke-dasharray="1,1"/>
<text x="631.60" y="382.62" font-size="3.8" text-anchor="middle" fill="#222" stroke="#222" stroke-width="0.22" transform="translate(0 382.62) scale(1 1.1) translate(0 -382.62)">LYS-108</text>
<text x="613.70" y="392.32" font-size="3.8" text-anchor="middle" fill="#222" stroke="#222" stroke-width="0.22" transform="translate(0 392.32) scale(1 1.1) translate(0 -392.32)">TYR-5</text>
<text x="591.30" y="395.82" font-size="3.8" text-anchor="middle" fill="#222" stroke="#222" stroke-width="0.22" transform="translate(0 395.82) scale(1 1.1) translate(0 -395.82)">GLU-4</text>
<text x="640.70" y="400.22" font-size="3.8" text-anchor="middle" fill="#222" stroke="#222" stroke-width="0.22" transform="translate(0 400.22) scale(1 1.1) translate(0 -400.22)">MET-155</text>
<text x="595.70" y="409.52" font-size="3.8" text-anchor="middle" fill="#222" stroke="#222" stroke-width="0.22" transform="translate(0 409.52) scale(1 1.1) translate(0 -409.52)">ALA-129</text>
<text x="602.00" y="414.72" font-size="3.8" text-anchor="middle" fill="#222" stroke="#222" stroke-width="0.22" transform="translate(0 414.72) scale(1 1.1) translate(0 -414.72)">ASN-141-GLU-14</text>
<text x="670.10" y="413.32" font-size="3.8" text-anchor="middle" fill="#222" stroke="#222" stroke-width="0.22" transform="translate(0 413.32) scale(1 1.1) translate(0 -413.32)">LYS-78</text>
<text x="622.80" y="420.02" font-size="3.8" text-anchor="middle" fill="#222" stroke="#222" stroke-width="0.22" transform="translate(0 420.02) scale(1 1.1) translate(0 -420.02)">TRP-200</text>
<text x="645.60" y="420.02" font-size="3.8" text-anchor="middle" fill="#222" stroke="#222" stroke-width="0.22" transform="translate(0 420.02) scale(1 1.1) translate(0 -420.02)">TRP-158</text>
<text x="665.70" y="430.52" font-size="3.8" text-anchor="middle" fill="#222" stroke="#222" stroke-width="0.22" transform="translate(0 430.52) scale(1 1.1) translate(0 -430.52)">TYR-77</text>
<text x="629.80" y="436.42" font-size="3.8" text-anchor="middle" fill="#222" stroke="#222" stroke-width="0.22" transform="translate(0 436.42) scale(1 1.1) translate(0 -436.42)">LYS-153</text>
<text x="614.10" y="438.22" font-size="3.8" text-anchor="middle" fill="#222" stroke="#222" stroke-width="0.22" transform="translate(0 438.22) scale(1 1.1) translate(0 -438.22)">ARG-146</text>
<text x="657.50" y="445.72" font-size="3.8" text-anchor="middle" fill="#222" stroke="#222" stroke-width="0.22" transform="translate(0 445.72) scale(1 1.1) translate(0 -445.72)">TYR-74</text>
<rect x="569.50" y="371.60" width="113.30" height="89.50" fill="none" stroke="#444" stroke-width="0.8"/>
<path d="M520,487 C520,484 524,484 525,487 C526,490 522,491 521,489 M527,486 C528,483 533,483 533,487 C533,490 529,491 528,489" fill="none" stroke="#dc94cc" stroke-width="1.1"/>
<path d="M511,492 L514,510 L519,515 M516,491 L519,505 L525,509" fill="none" stroke="#dc94cc" stroke-width="1.8"/>
<path d="M508,514 C512,520 518,522 524,518" fill="none" stroke="#dc94cc" stroke-width="1"/>
<path d="M523.43,494.83 L523.73,495.50 L524.32,496.07 L525.15,496.54 L526.17,496.88 L527.33,497.10 L528.54,497.21 L529.73,497.20 L530.82,497.11 L531.74,496.96 L532.44,496.77 L532.86,496.59 L532.98,496.45 L532.82,495.67 L532.52,495.00 L531.93,494.43 L531.10,493.96 L530.08,493.62 L528.92,493.40 L527.71,493.29 L526.52,493.30 L525.43,493.39 L524.51,493.54 L523.81,493.73 L523.39,493.91 L523.27,494.05Z" fill="#b870aa" stroke="#a86098" stroke-width="0.4" stroke-linejoin="round"/><path d="M524.93,501.83 L525.23,502.50 L525.82,503.07 L526.65,503.54 L527.67,503.88 L528.83,504.10 L530.04,504.21 L531.23,504.20 L532.32,504.11 L533.24,503.96 L533.94,503.77 L534.36,503.59 L534.48,503.45 L534.32,502.67 L534.02,502.00 L533.43,501.43 L532.60,500.96 L531.58,500.62 L530.42,500.40 L529.21,500.29 L528.02,500.30 L526.93,500.39 L526.01,500.54 L525.31,500.73 L524.89,500.91 L524.77,501.05Z" fill="#b870aa" stroke="#a86098" stroke-width="0.4" stroke-linejoin="round"/><path d="M531.48,489.45 L531.48,490.18 L531.19,490.94 L530.62,491.71 L529.82,492.44 L528.86,493.12 L527.79,493.71 L526.71,494.19 L525.67,494.55 L524.77,494.79 L524.07,494.91 L523.61,494.92 L523.43,494.83 L523.27,494.05 L523.27,493.32 L523.56,492.56 L524.13,491.79 L524.93,491.06 L525.89,490.38 L526.96,489.79 L528.04,489.31 L529.08,488.95 L529.98,488.71 L530.68,488.59 L531.14,488.58 L531.32,488.67Z" fill="#e0a0d4" stroke="#a86098" stroke-width="0.4" stroke-linejoin="round"/><path d="M532.98,496.45 L532.98,497.18 L532.69,497.94 L532.12,498.71 L531.32,499.44 L530.36,500.12 L529.29,500.71 L528.21,501.19 L527.17,501.55 L526.27,501.79 L525.57,501.91 L525.11,501.92 L524.93,501.83 L524.77,501.05 L524.77,500.32 L525.06,499.56 L525.63,498.79 L526.43,498.06 L527.39,497.38 L528.46,496.79 L529.54,496.31 L530.58,495.95 L531.48,495.71 L532.18,495.59 L532.64,495.58 L532.82,495.67Z" fill="#e0a0d4" stroke="#a86098" stroke-width="0.4" stroke-linejoin="round"/>
<path d="M525.73,511.62 L525.92,512.36 L526.40,513.06 L527.15,513.69 L528.11,514.23 L529.22,514.67 L530.40,515.00 L531.58,515.22 L532.67,515.34 L533.60,515.37 L534.32,515.34 L534.77,515.26 L534.91,515.17 L534.87,514.38 L534.68,513.64 L534.20,512.94 L533.45,512.31 L532.49,511.77 L531.38,511.33 L530.20,511.00 L529.02,510.78 L527.93,510.66 L527.00,510.63 L526.28,510.66 L525.83,510.74 L525.69,510.83Z" fill="#b870aa" stroke="#a86098" stroke-width="0.4" stroke-linejoin="round"/><path d="M526.13,519.62 L526.32,520.36 L526.80,521.06 L527.55,521.69 L528.51,522.23 L529.62,522.67 L530.80,523.00 L531.98,523.22 L533.07,523.34 L534.00,523.37 L534.72,523.34 L535.17,523.26 L535.31,523.17 L535.27,522.38 L535.08,521.64 L534.60,520.94 L533.85,520.31 L532.89,519.77 L531.78,519.33 L530.60,519.00 L529.42,518.78 L528.33,518.66 L527.40,518.63 L526.68,518.66 L526.23,518.74 L526.09,518.83Z" fill="#b870aa" stroke="#a86098" stroke-width="0.4" stroke-linejoin="round"/><path d="M534.51,507.17 L534.40,507.93 L533.99,508.67 L533.30,509.37 L532.40,510.00 L531.34,510.55 L530.20,511.00 L529.05,511.33 L527.98,511.56 L527.05,511.69 L526.33,511.73 L525.88,511.70 L525.73,511.62 L525.69,510.83 L525.80,510.07 L526.21,509.33 L526.90,508.63 L527.80,508.00 L528.86,507.45 L530.00,507.00 L531.15,506.67 L532.22,506.44 L533.15,506.31 L533.87,506.27 L534.32,506.30 L534.47,506.38Z" fill="#e0a0d4" stroke="#a86098" stroke-width="0.4" stroke-linejoin="round"/><path d="M534.91,515.17 L534.80,515.93 L534.39,516.67 L533.70,517.37 L532.80,518.00 L531.74,518.55 L530.60,519.00 L529.45,519.33 L528.38,519.56 L527.45,519.69 L526.73,519.73 L526.28,519.70 L526.13,519.62 L526.09,518.83 L526.20,518.07 L526.61,517.33 L527.30,516.63 L528.20,516.00 L529.26,515.45 L530.40,515.00 L531.55,514.67 L532.62,514.44 L533.55,514.31 L534.27,514.27 L534.72,514.30 L534.87,514.38Z" fill="#e0a0d4" stroke="#a86098" stroke-width="0.4" stroke-linejoin="round"/><path d="M535.31,523.17 L535.20,523.93 L534.79,524.67 L534.10,525.37 L533.20,526.00 L532.14,526.55 L531.00,527.00 L529.85,527.33 L528.78,527.56 L527.85,527.69 L527.13,527.73 L526.68,527.70 L526.53,527.62 L526.49,526.83 L526.60,526.07 L527.01,525.33 L527.70,524.63 L528.60,524.00 L529.66,523.45 L530.80,523.00 L531.95,522.67 L533.02,522.44 L533.95,522.31 L534.67,522.27 L535.12,522.30 L535.27,522.38Z" fill="#e0a0d4" stroke="#a86098" stroke-width="0.4" stroke-linejoin="round"/>
<path d="M505.31,522.30 L505.97,522.68 L506.81,522.82 L507.78,522.73 L508.84,522.42 L509.93,521.94 L510.99,521.33 L511.98,520.64 L512.83,519.95 L513.51,519.31 L513.99,518.77 L514.25,518.40 L514.29,518.24 L513.69,517.70 L513.03,517.32 L512.19,517.18 L511.22,517.27 L510.16,517.58 L509.07,518.06 L508.01,518.67 L507.02,519.36 L506.17,520.05 L505.49,520.69 L505.01,521.23 L504.75,521.60 L504.71,521.76Z" fill="#b870aa" stroke="#a86098" stroke-width="0.4" stroke-linejoin="round"/><path d="M508.29,512.90 L508.75,513.51 L508.99,514.33 L509.01,515.31 L508.83,516.39 L508.48,517.53 L507.99,518.66 L507.43,519.72 L506.84,520.65 L506.28,521.40 L505.81,521.93 L505.47,522.23 L505.31,522.30 L504.71,521.76 L504.25,521.15 L504.01,520.34 L503.99,519.36 L504.17,518.27 L504.52,517.13 L505.01,516.00 L505.57,514.95 L506.16,514.02 L506.72,513.27 L507.19,512.73 L507.53,512.43 L507.69,512.37Z" fill="#e0a0d4" stroke="#a86098" stroke-width="0.4" stroke-linejoin="round"/><path d="M514.29,518.24 L514.75,518.85 L514.99,519.66 L515.01,520.64 L514.83,521.73 L514.48,522.87 L513.99,524.00 L513.43,525.05 L512.84,525.98 L512.28,526.73 L511.81,527.27 L511.47,527.57 L511.31,527.63 L510.71,527.10 L510.25,526.49 L510.01,525.67 L509.99,524.69 L510.17,523.61 L510.52,522.47 L511.01,521.34 L511.57,520.28 L512.16,519.35 L512.72,518.60 L513.19,518.07 L513.53,517.77 L513.69,517.70Z" fill="#e0a0d4" stroke="#a86098" stroke-width="0.4" stroke-linejoin="round"/>
<path d="M517.30,531.46 L518.07,531.50 L518.89,531.24 L519.71,530.71 L520.52,529.95 L521.27,529.02 L521.94,527.99 L522.50,526.93 L522.94,525.92 L523.26,525.03 L523.44,524.34 L523.51,523.90 L523.48,523.73 L522.70,523.54 L521.93,523.50 L521.11,523.76 L520.29,524.29 L519.48,525.05 L518.73,525.98 L518.06,527.01 L517.50,528.07 L517.06,529.08 L516.74,529.97 L516.56,530.66 L516.49,531.10 L516.52,531.27Z" fill="#b870aa" stroke="#a86098" stroke-width="0.4" stroke-linejoin="round"/><path d="M525.30,533.46 L526.07,533.50 L526.89,533.24 L527.71,532.71 L528.52,531.95 L529.27,531.02 L529.94,529.99 L530.50,528.93 L530.94,527.92 L531.26,527.03 L531.44,526.34 L531.51,525.90 L531.48,525.73 L530.70,525.54 L529.93,525.50 L529.11,525.76 L528.29,526.29 L527.48,527.05 L526.73,527.98 L526.06,529.01 L525.50,530.07 L525.06,531.08 L524.74,531.97 L524.56,532.66 L524.49,533.10 L524.52,533.27Z" fill="#b870aa" stroke="#a86098" stroke-width="0.4" stroke-linejoin="round"/><path d="M515.48,521.73 L516.18,522.06 L516.78,522.68 L517.26,523.53 L517.61,524.58 L517.84,525.76 L517.94,526.99 L517.94,528.19 L517.85,529.28 L517.71,530.21 L517.55,530.91 L517.40,531.33 L517.30,531.46 L516.52,531.27 L515.82,530.94 L515.22,530.32 L514.74,529.47 L514.39,528.42 L514.16,527.24 L514.06,526.01 L514.06,524.81 L514.15,523.72 L514.29,522.79 L514.45,522.09 L514.60,521.67 L514.70,521.54Z" fill="#e0a0d4" stroke="#a86098" stroke-width="0.4" stroke-linejoin="round"/><path d="M523.48,523.73 L524.18,524.06 L524.78,524.68 L525.26,525.53 L525.61,526.58 L525.84,527.76 L525.94,528.99 L525.94,530.19 L525.85,531.28 L525.71,532.21 L525.55,532.91 L525.40,533.33 L525.30,533.46 L524.52,533.27 L523.82,532.94 L523.22,532.32 L522.74,531.47 L522.39,530.42 L522.16,529.24 L522.06,528.01 L522.06,526.81 L522.15,525.72 L522.29,524.79 L522.45,524.09 L522.60,523.67 L522.70,523.54Z" fill="#e0a0d4" stroke="#a86098" stroke-width="0.4" stroke-linejoin="round"/>
<path d="M492.5,527 C488,531 486,536 488,538 C492,541 496,537 500,540 C503,542 504,538 506,536" fill="none" stroke="#8a8a8a" stroke-width="0.7"/>
<path d="M506.70,542.35 L507.43,542.28 L508.16,541.95 L508.85,541.37 L509.49,540.60 L510.04,539.68 L510.49,538.68 L510.84,537.67 L511.07,536.73 L511.20,535.91 L511.23,535.27 L511.19,534.86 L511.09,534.72 L510.30,534.65 L509.57,534.72 L508.84,535.05 L508.15,535.63 L507.51,536.40 L506.96,537.32 L506.51,538.32 L506.16,539.33 L505.93,540.27 L505.80,541.09 L505.77,541.73 L505.81,542.14 L505.91,542.28Z" fill="#94c48c" stroke="#80b078" stroke-width="0.4" stroke-linejoin="round"/><path d="M503.76,534.05 L504.47,534.25 L505.12,534.71 L505.70,535.41 L506.18,536.28 L506.56,537.28 L506.83,538.35 L506.98,539.40 L507.04,540.38 L507.02,541.21 L506.94,541.84 L506.82,542.23 L506.70,542.35 L505.91,542.28 L505.20,542.08 L504.55,541.62 L503.97,540.93 L503.49,540.05 L503.11,539.05 L502.84,537.99 L502.68,536.93 L502.62,535.96 L502.65,535.13 L502.73,534.50 L502.84,534.11 L502.96,533.98Z" fill="#c4e8bc" stroke="#80b078" stroke-width="0.4" stroke-linejoin="round"/><path d="M511.09,534.72 L511.80,534.92 L512.45,535.38 L513.03,536.07 L513.51,536.95 L513.89,537.95 L514.16,539.01 L514.32,540.07 L514.38,541.04 L514.35,541.87 L514.27,542.50 L514.16,542.89 L514.04,543.02 L513.24,542.95 L512.53,542.75 L511.88,542.29 L511.30,541.59 L510.82,540.72 L510.44,539.72 L510.17,538.65 L510.02,537.60 L509.96,536.62 L509.98,535.79 L510.06,535.16 L510.18,534.77 L510.30,534.65Z" fill="#c4e8bc" stroke="#80b078" stroke-width="0.4" stroke-linejoin="round"/>
<path d="M507,545 L530,546 L531,549 L507,549 Z" fill="#b4dcae" stroke="#7fae7a" stroke-width="0.5"/>
<path d="M503,540 C500,548 504,556 508,561 C514,565 522,560 528,552" fill="none" stroke="#b4dcae" stroke-width="2"/>
<path d="M506.10,557.70 L506.84,557.95 L507.67,557.95 L508.57,557.72 L509.50,557.28 L510.41,556.67 L511.26,555.96 L512.01,555.19 L512.64,554.43 L513.12,553.75 L513.43,553.20 L513.59,552.83 L513.60,552.68 L512.90,552.30 L512.16,552.05 L511.33,552.05 L510.43,552.28 L509.50,552.72 L508.59,553.33 L507.74,554.04 L506.99,554.81 L506.36,555.57 L505.88,556.25 L505.57,556.80 L505.41,557.17 L505.40,557.32Z" fill="#94c48c" stroke="#80b078" stroke-width="0.4" stroke-linejoin="round"/><path d="M506.27,548.68 L506.87,549.16 L507.32,549.87 L507.62,550.75 L507.75,551.77 L507.73,552.86 L507.59,553.96 L507.35,555.01 L507.05,555.94 L506.74,556.72 L506.45,557.28 L506.23,557.62 L506.10,557.70 L505.40,557.32 L504.80,556.84 L504.34,556.13 L504.05,555.25 L503.92,554.23 L503.94,553.14 L504.08,552.04 L504.32,550.99 L504.61,550.06 L504.93,549.28 L505.22,548.72 L505.44,548.38 L505.56,548.30Z" fill="#c4e8bc" stroke="#80b078" stroke-width="0.4" stroke-linejoin="round"/><path d="M513.60,552.68 L514.20,553.16 L514.66,553.87 L514.95,554.75 L515.08,555.77 L515.06,556.86 L514.92,557.96 L514.68,559.01 L514.39,559.94 L514.07,560.72 L513.78,561.28 L513.56,561.62 L513.44,561.70 L512.73,561.32 L512.13,560.84 L511.68,560.13 L511.38,559.25 L511.25,558.23 L511.27,557.14 L511.41,556.04 L511.65,554.99 L511.95,554.06 L512.26,553.28 L512.55,552.72 L512.77,552.38 L512.90,552.30Z" fill="#c4e8bc" stroke="#80b078" stroke-width="0.4" stroke-linejoin="round"/>
<polyline points="521.00,542.00 525.00,539.00 528.00,537.00 531.00,534.00 534.00,533.00" fill="none" stroke="#7a84d8" stroke-width="1.3" stroke-linejoin="round" stroke-linecap="round" stroke-linejoin="round"/>
<path d="M534,532 L538,535 L540,531" fill="none" stroke="#999" stroke-width="0.6"/>
<rect x="506.40" y="525.20" width="29.40" height="24.40" fill="none" stroke="#111" stroke-width="0.8"/>
<line x1="535.80" y1="525.20" x2="570.30" y2="480.40" stroke="#333" stroke-width="0.7" stroke-dasharray="1.6,1.6"/>
<line x1="535.80" y1="549.60" x2="570.30" y2="568.50" stroke="#333" stroke-width="0.7" stroke-dasharray="1.6,1.6"/>
<g opacity="0.22">
<path d="M585,484 C600,480 616,486 618,500 C618,515 602,522 590,516 C582,510 580,494 585,484 Z" fill="#d6ecd2"/>
<path d="M600,520 C615,515 640,520 650,535 C655,550 640,565 620,566 C605,562 598,545 600,520 Z" fill="#f1dcea"/>
<path d="M655,525 C668,520 680,530 680,545 C676,560 662,562 655,550 Z" fill="#f1dcea"/>
</g>
<polyline points="617.60,497.00 621.00,493.50 624.60,491.80 628.10,492.60 631.60,493.50 635.00,492.60 638.60,494.40 642.10,493.50 645.60,492.60 649.10,491.80" fill="none" stroke="#86b686" stroke-width="2.4" stroke-linejoin="round" stroke-linecap="round" stroke-linejoin="round"/>
<polyline points="622.80,495.30 624.60,498.80 627.20,500.50" fill="none" stroke="#86b686" stroke-width="2.2" stroke-linejoin="round" stroke-linecap="round" stroke-linejoin="round"/>
<polyline points="626.30,497.00 628.50,499.00" fill="none" stroke="#2e3ed6" stroke-width="2.2" stroke-linejoin="round" stroke-linecap="round" stroke-linejoin="round"/>
<polyline points="635.00,489.10 636.00,492.00" fill="none" stroke="#2e3ed6" stroke-width="2.2" stroke-linejoin="round" stroke-linecap="round" stroke-linejoin="round"/>
<polyline points="638.60,492.60 640.00,495.50" fill="none" stroke="#2e3ed6" stroke-width="2.2" stroke-linejoin="round" stroke-linecap="round" stroke-linejoin="round"/>
<polyline points="647.30,490.00 649.00,488.00" fill="none" stroke="#2e3ed6" stroke-width="2.2" stroke-linejoin="round" stroke-linecap="round" stroke-linejoin="round"/>
<polyline points="650.80,495.30 652.50,497.50" fill="none" stroke="#2e3ed6" stroke-width="2.2" stroke-linejoin="round" stroke-linecap="round" stroke-linejoin="round"/>
<polyline points="633.50,486.50 635.00,489.10" fill="none" stroke="#2e3ed6" stroke-width="2.2" stroke-linejoin="round" stroke-linecap="round" stroke-linejoin="round"/>
<polyline points="616.00,499.00 617.60,497.00" fill="none" stroke="#d03030" stroke-width="1.8" stroke-linejoin="round" stroke-linecap="round" stroke-linejoin="round"/>
<polyline points="635.00,504.00 638.60,505.80 645.60,504.90 647.30,508.40 644.70,511.00 638.60,510.20 635.00,507.50 635.00,504.00" fill="none" stroke="#cc7ebc" stroke-width="2.4" stroke-linejoin="round" stroke-linecap="round" stroke-linejoin="round"/>
<polyline points="637.00,503.00 636.00,500.00" fill="none" stroke="#d03030" stroke-width="1.8" stroke-linejoin="round" stroke-linecap="round" stroke-linejoin="round"/>
<polyline points="645.60,504.90 647.00,502.00" fill="none" stroke="#d03030" stroke-width="1.8" stroke-linejoin="round" stroke-linecap="round" stroke-linejoin="round"/>
<polyline points="631.60,514.50 631.60,521.50 635.00,524.20 640.30,522.40 645.60,518.90 649.10,517.20 652.60,516.30 656.10,513.70 661.40,512.80" fill="none" stroke="#6270d2" stroke-width="2.4" stroke-linejoin="round" stroke-linecap="round" stroke-linejoin="round"/>
<polyline points="659.60,512.00 663.00,509.30 668.00,510.00 671.90,513.00 669.00,517.00 663.00,518.00 659.60,515.00" fill="none" stroke="#6270d2" stroke-width="2.2" stroke-linejoin="round" stroke-linecap="round" stroke-linejoin="round"/>
<polyline points="668.00,510.00 671.00,506.50" fill="none" stroke="#6270d2" stroke-width="2" stroke-linejoin="round" stroke-linecap="round" stroke-linejoin="round"/>
<polyline points="631.60,514.50 630.00,511.50" fill="none" stroke="#2e3ed6" stroke-width="2.2" stroke-linejoin="round" stroke-linecap="round" stroke-linejoin="round"/>
<polyline points="598.30,518.00 600.90,521.50 602.70,525.90 604.40,528.60 606.20,532.10" fill="none" stroke="#86b686" stroke-width="2.4" stroke-linejoin="round" stroke-linecap="round" stroke-linejoin="round"/>
<polyline points="598.30,518.00 600.00,515.50" fill="none" stroke="#2e3ed6" stroke-width="2.2" stroke-linejoin="round" stroke-linecap="round" stroke-linejoin="round"/>
<polyline points="600.00,530.30 602.70,532.10 607.00,533.80 610.50,535.60 608.80,538.20" fill="none" stroke="#cc7ebc" stroke-width="2.4" stroke-linejoin="round" stroke-linecap="round" stroke-linejoin="round"/>
<polyline points="607.00,536.00 608.00,539.00" fill="none" stroke="#2e3ed6" stroke-width="2.2" stroke-linejoin="round" stroke-linecap="round" stroke-linejoin="round"/>
<polyline points="643.80,535.60 645.60,539.10 648.20,541.70 650.80,540.80 650.80,535.60 652.60,532.10 653.50,528.60" fill="none" stroke="#cc7ebc" stroke-width="2.4" stroke-linejoin="round" stroke-linecap="round" stroke-linejoin="round"/>
<polyline points="653.50,528.60 656.00,527.50" fill="none" stroke="#2e3ed6" stroke-width="2.2" stroke-linejoin="round" stroke-linecap="round" stroke-linejoin="round"/>
<polyline points="622.80,546.10 626.30,545.20 629.80,547.00 633.30,546.10" fill="none" stroke="#86b686" stroke-width="2.4" stroke-linejoin="round" stroke-linecap="round" stroke-linejoin="round"/>
<polyline points="622.80,546.10 621.00,549.00" fill="none" stroke="#d03030" stroke-width="1.8" stroke-linejoin="round" stroke-linecap="round" stroke-linejoin="round"/>
<polyline points="622.80,551.30 623.70,556.60 624.60,560.10 629.00,561.80 631.60,564.50" fill="none" stroke="#cc7ebc" stroke-width="2.4" stroke-linejoin="round" stroke-linecap="round" stroke-linejoin="round"/>
<polyline points="622.80,556.00 625.50,558.50" fill="none" stroke="#2e3ed6" stroke-width="2.2" stroke-linejoin="round" stroke-linecap="round" stroke-linejoin="round"/>
<polyline points="631.60,564.50 632.00,567.00" fill="none" stroke="#d03030" stroke-width="1.8" stroke-linejoin="round" stroke-linecap="round" stroke-linejoin="round"/>
<polyline points="619.00,490.00 622.00,487.00" fill="none" stroke="#2e3ed6" stroke-width="2.0" stroke-linejoin="round" stroke-linecap="round" stroke-linejoin="round"/>
<polyline points="629.00,488.00 631.00,485.00" fill="none" stroke="#2e3ed6" stroke-width="2.0" stroke-linejoin="round" stroke-linecap="round" stroke-linejoin="round"/>
<polyline points="641.00,489.00 644.00,487.00" fill="none" stroke="#86b686" stroke-width="2.0" stroke-linejoin="round" stroke-linecap="round" stroke-linejoin="round"/>
<polyline points="653.00,490.00 655.00,493.00" fill="none" stroke="#2e3ed6" stroke-width="2.0" stroke-linejoin="round" stroke-linecap="round" stroke-linejoin="round"/>
<polyline points="626.00,503.00 629.00,505.00" fill="none" stroke="#86b686" stroke-width="2.0" stroke-linejoin="round" stroke-linecap="round" stroke-linejoin="round"/>
<polyline points="633.00,511.00 636.00,513.00" fill="none" stroke="#d03030" stroke-width="2.0" stroke-linejoin="round" stroke-linecap="round" stroke-linejoin="round"/>
<polyline points="650.00,512.00 652.00,515.00" fill="none" stroke="#d03030" stroke-width="2.0" stroke-linejoin="round" stroke-linecap="round" stroke-linejoin="round"/>
<polyline points="664.00,519.00 667.00,521.00" fill="none" stroke="#d03030" stroke-width="2.0" stroke-linejoin="round" stroke-linecap="round" stroke-linejoin="round"/>
<polyline points="600.00,512.00 602.00,510.00" fill="none" stroke="#2e3ed6" stroke-width="2.0" stroke-linejoin="round" stroke-linecap="round" stroke-linejoin="round"/>
<polyline points="611.00,541.00 614.00,543.00" fill="none" stroke="#d03030" stroke-width="2.0" stroke-linejoin="round" stroke-linecap="round" stroke-linejoin="round"/>
<polyline points="646.00,545.00 648.00,547.00" fill="none" stroke="#cc7ebc" stroke-width="2.0" stroke-linejoin="round" stroke-linecap="round" stroke-linejoin="round"/>
<polyline points="628.00,553.00 631.00,551.00" fill="none" stroke="#86b686" stroke-width="2.0" stroke-linejoin="round" stroke-linecap="round" stroke-linejoin="round"/>
<polyline points="620.00,560.00 622.00,563.00" fill="none" stroke="#2e3ed6" stroke-width="2.0" stroke-linejoin="round" stroke-linecap="round" stroke-linejoin="round"/>
<polyline points="655.00,533.00 658.00,531.00" fill="none" stroke="#cc7ebc" stroke-width="2.0" stroke-linejoin="round" stroke-linecap="round" stroke-linejoin="round"/>
<line x1="634.00" y1="543.00" x2="642.00" y2="544.00" stroke="#d8d050" stroke-width="0.8" stroke-dasharray="1,1"/>
<line x1="623.00" y1="548.00" x2="623.00" y2="551.00" stroke="#d8d050" stroke-width="0.8" stroke-dasharray="1,1"/>
<line x1="628.00" y1="498.00" x2="630.00" y2="503.00" stroke="#d8d050" stroke-width="0.8" stroke-dasharray="1,1"/>
<line x1="640.00" y1="496.00" x2="637.00" y2="502.00" stroke="#d8d050" stroke-width="0.8" stroke-dasharray="1,1"/>
<text x="620.20" y="491.22" font-size="3.8" text-anchor="middle" fill="#222" stroke="#222" stroke-width="0.22" transform="translate(0 491.22) scale(1 1.1) translate(0 -491.22)">ARG-143</text>
<text x="651.70" y="489.42" font-size="3.8" text-anchor="middle" fill="#222" stroke="#222" stroke-width="0.22" transform="translate(0 489.42) scale(1 1.1) translate(0 -489.42)">LYS-147</text>
<text x="621.10" y="507.32" font-size="3.8" text-anchor="middle" fill="#222" stroke="#222" stroke-width="0.22" transform="translate(0 507.32) scale(1 1.1) translate(0 -507.32)">ASN-140</text>
<text x="654.00" y="508.72" font-size="3.8" text-anchor="middle" fill="#222" stroke="#222" stroke-width="0.22" transform="translate(0 508.72) scale(1 1.1) translate(0 -508.72)">GLU-7</text>
<text x="629.00" y="513.92" font-size="3.8" text-anchor="middle" fill="#222" stroke="#222" stroke-width="0.22" transform="translate(0 513.92) scale(1 1.1) translate(0 -513.92)">GLU-6</text>
<text x="589.50" y="518.72" font-size="3.8" text-anchor="middle" fill="#222" stroke="#222" stroke-width="0.22" transform="translate(0 518.72) scale(1 1.1) translate(0 -518.72)">LYS-193</text>
<text x="597.70" y="537.92" font-size="3.8" text-anchor="middle" fill="#222" stroke="#222" stroke-width="0.22" transform="translate(0 537.92) scale(1 1.1) translate(0 -537.92)">THR-74 </text>
<text x="659.60" y="537.12" font-size="3.8" text-anchor="middle" fill="#222" stroke="#222" stroke-width="0.22" transform="translate(0 537.12) scale(1 1.1) translate(0 -537.12)">TYR-5</text>
<text x="627.20" y="540.62" font-size="3.8" text-anchor="middle" fill="#222" stroke="#222" stroke-width="0.22" transform="translate(0 540.62) scale(1 1.1) translate(0 -540.62)">GLU-182</text>
<text x="618.40" y="563.72" font-size="3.8" text-anchor="middle" fill="#222" stroke="#222" stroke-width="0.22" transform="translate(0 563.72) scale(1 1.1) translate(0 -563.72)">LYS-70</text>
<rect x="570.30" y="480.40" width="111.70" height="88.10" fill="none" stroke="#444" stroke-width="0.8"/>
<text x="16.60" y="495.70" font-size="14" font-weight="bold" text-anchor="start" fill="#111" stroke="#111" stroke-width="0.22">h</text>
<text x="92.00" y="504.59" font-size="8.2" font-weight="bold" text-anchor="middle" fill="#111" stroke="#111" stroke-width="0.22" transform="rotate(-47 92.00 501.30) translate(0 504.59) scale(1 1.1) translate(0 -504.59)">IgG</text>
<text x="126.70" y="499.49" font-size="8.2" font-weight="bold" text-anchor="middle" fill="#111" stroke="#111" stroke-width="0.22" transform="rotate(-47 126.70 496.20) translate(0 499.49) scale(1 1.1) translate(0 -499.49)">DMSO</text>
<text x="156.60" y="499.49" font-size="8.2" font-weight="bold" text-anchor="middle" fill="#111" stroke="#111" stroke-width="0.22" transform="rotate(-47 156.60 496.20) translate(0 499.49) scale(1 1.1) translate(0 -499.49)">KLX-L</text>
<text x="188.20" y="499.49" font-size="8.2" font-weight="bold" text-anchor="middle" fill="#111" stroke="#111" stroke-width="0.22" transform="rotate(-47 188.20 496.20) translate(0 499.49) scale(1 1.1) translate(0 -499.49)">KLX-M</text>
<text x="219.90" y="499.49" font-size="8.2" font-weight="bold" text-anchor="middle" fill="#111" stroke="#111" stroke-width="0.22" transform="rotate(-47 219.90 496.20) translate(0 499.49) scale(1 1.1) translate(0 -499.49)">KLX-H</text>
<line x1="33.70" y1="512.60" x2="33.70" y2="617.80" stroke="#111" stroke-width="1.6"/>
<line x1="33.70" y1="631.00" x2="33.70" y2="741.70" stroke="#111" stroke-width="1.6"/>
<text x="15.30" y="560.17" font-size="7.9" font-weight="bold" text-anchor="middle" fill="#111" stroke="#111" stroke-width="0.22" transform="translate(0 560.17) scale(1 1.1) translate(0 -560.17)">IP</text>
<text x="15.30" y="569.47" font-size="7.9" font-weight="bold" text-anchor="middle" fill="#111" stroke="#111" stroke-width="0.22" transform="translate(0 569.47) scale(1 1.1) translate(0 -569.47)">ZBP1</text>
<text x="15.50" y="686.77" font-size="7.9" font-weight="bold" text-anchor="middle" fill="#111" stroke="#111" stroke-width="0.22" transform="translate(0 686.77) scale(1 1.1) translate(0 -686.77)">WCL</text>
<text x="67.40" y="562.77" font-size="7.9" font-weight="bold" text-anchor="end" fill="#111" stroke="#111" stroke-width="0.22" transform="translate(0 562.77) scale(1 1.1) translate(0 -562.77)">Ub</text>
<text x="67.00" y="610.77" font-size="7.9" font-weight="bold" text-anchor="end" fill="#111" stroke="#111" stroke-width="0.22" transform="translate(0 610.77) scale(1 1.1) translate(0 -610.77)">ZBP1</text>
<text x="67.40" y="673.37" font-size="7.9" font-weight="bold" text-anchor="end" fill="#111" stroke="#111" stroke-width="0.22" transform="translate(0 673.37) scale(1 1.1) translate(0 -673.37)">Ub</text>
<text x="67.00" y="719.47" font-size="7.9" font-weight="bold" text-anchor="end" fill="#111" stroke="#111" stroke-width="0.22" transform="translate(0 719.47) scale(1 1.1) translate(0 -719.47)">ZBP1</text>
<text x="67.40" y="737.27" font-size="7.9" font-weight="bold" text-anchor="end" fill="#111" stroke="#111" stroke-width="0.22" transform="translate(0 737.27) scale(1 1.1) translate(0 -737.27)">GAPDH</text>
<text x="236.50" y="525.57" font-size="7.9" font-weight="bold" text-anchor="start" fill="#111" stroke="#111" stroke-width="0.22" transform="translate(0 525.57) scale(1 1.1) translate(0 -525.57)">100kDa</text>
<text x="236.50" y="548.87" font-size="7.9" font-weight="bold" text-anchor="start" fill="#111" stroke="#111" stroke-width="0.22" transform="translate(0 548.87) scale(1 1.1) translate(0 -548.87)">70kDa</text>
<text x="236.50" y="567.87" font-size="7.9" font-weight="bold" text-anchor="start" fill="#111" stroke="#111" stroke-width="0.22" transform="translate(0 567.87) scale(1 1.1) translate(0 -567.87)">55kDa</text>
<text x="236.50" y="594.07" font-size="7.9" font-weight="bold" text-anchor="start" fill="#111" stroke="#111" stroke-width="0.22" transform="translate(0 594.07) scale(1 1.1) translate(0 -594.07)">40kDa</text>
<text x="236.50" y="610.77" font-size="7.9" font-weight="bold" text-anchor="start" fill="#111" stroke="#111" stroke-width="0.22" transform="translate(0 610.77) scale(1 1.1) translate(0 -610.77)">46kDa</text>
<text x="236.50" y="634.47" font-size="7.9" font-weight="bold" text-anchor="start" fill="#111" stroke="#111" stroke-width="0.22" transform="translate(0 634.47) scale(1 1.1) translate(0 -634.47)">100kDa</text>
<text x="236.50" y="655.97" font-size="7.9" font-weight="bold" text-anchor="start" fill="#111" stroke="#111" stroke-width="0.22" transform="translate(0 655.97) scale(1 1.1) translate(0 -655.97)">70kDa</text>
<text x="236.50" y="681.57" font-size="7.9" font-weight="bold" text-anchor="start" fill="#111" stroke="#111" stroke-width="0.22" transform="translate(0 681.57) scale(1 1.1) translate(0 -681.57)">55kDa</text>
<text x="236.50" y="705.67" font-size="7.9" font-weight="bold" text-anchor="start" fill="#111" stroke="#111" stroke-width="0.22" transform="translate(0 705.67) scale(1 1.1) translate(0 -705.67)">40kDa</text>
<text x="236.50" y="720.77" font-size="7.9" font-weight="bold" text-anchor="start" fill="#111" stroke="#111" stroke-width="0.22" transform="translate(0 720.77) scale(1 1.1) translate(0 -720.77)">46kDa</text>
<text x="236.50" y="738.17" font-size="7.9" font-weight="bold" text-anchor="start" fill="#111" stroke="#111" stroke-width="0.22" transform="translate(0 738.17) scale(1 1.1) translate(0 -738.17)">36kDa</text>
<rect x="76.90" y="516.20" width="154.30" height="82.70" fill="#e2e2e2" stroke="#3a3a3a" stroke-width="0.9"/>
<clipPath id="cipub"><rect x="77.4" y="516.7" width="153.3" height="81.7"/></clipPath>
<g clip-path="url(#cipub)">
<path d="M79.5,574 C83,570 92,567 98,565 C101,566 101.5,575 99.5,578 C94,580 87,583 81.5,583.5 C78.5,582 78.5,577 79.5,574 Z" fill="#000" filter="url(#b08)"/>
<linearGradient id="gdm" x1="0" y1="0" x2="0" y2="1"><stop offset="0.000" stop-color="#000" stop-opacity="0.95"/><stop offset="0.074" stop-color="#000" stop-opacity="1"/><stop offset="0.185" stop-color="#000" stop-opacity="0.97"/><stop offset="0.222" stop-color="#000" stop-opacity="0.8"/><stop offset="0.259" stop-color="#000" stop-opacity="0.95"/><stop offset="0.352" stop-color="#000" stop-opacity="0.92"/><stop offset="0.407" stop-color="#000" stop-opacity="0.62"/><stop offset="0.454" stop-color="#000" stop-opacity="0.6"/><stop offset="0.500" stop-color="#000" stop-opacity="0.9"/><stop offset="0.593" stop-color="#000" stop-opacity="0.92"/><stop offset="0.648" stop-color="#000" stop-opacity="0.6"/><stop offset="0.694" stop-color="#000" stop-opacity="0.42"/><stop offset="0.741" stop-color="#000" stop-opacity="0.5"/><stop offset="0.852" stop-color="#000" stop-opacity="0.6"/><stop offset="0.944" stop-color="#000" stop-opacity="0.8"/><stop offset="1.000" stop-color="#000" stop-opacity="1"/></linearGradient><rect x="104.5" y="512" width="29.0" height="54" fill="url(#gdm)" filter="url(#b08)"/>
<linearGradient id="gkl" x1="0" y1="0" x2="0" y2="1"><stop offset="0.000" stop-color="#000" stop-opacity="0.9"/><stop offset="0.073" stop-color="#000" stop-opacity="0.95"/><stop offset="0.164" stop-color="#000" stop-opacity="0.9"/><stop offset="0.191" stop-color="#000" stop-opacity="0.7"/><stop offset="0.227" stop-color="#000" stop-opacity="0.9"/><stop offset="0.327" stop-color="#000" stop-opacity="0.85"/><stop offset="0.373" stop-color="#000" stop-opacity="0.5"/><stop offset="0.409" stop-color="#000" stop-opacity="0.5"/><stop offset="0.455" stop-color="#000" stop-opacity="0.8"/><stop offset="0.564" stop-color="#000" stop-opacity="0.85"/><stop offset="0.618" stop-color="#000" stop-opacity="0.5"/><stop offset="0.691" stop-color="#000" stop-opacity="0.4"/><stop offset="0.764" stop-color="#000" stop-opacity="0.5"/><stop offset="0.873" stop-color="#000" stop-opacity="0.6"/><stop offset="0.945" stop-color="#000" stop-opacity="0.8"/><stop offset="1.000" stop-color="#000" stop-opacity="1"/></linearGradient><rect x="139" y="512" width="28.5" height="55" fill="url(#gkl)" filter="url(#b08)"/>
<linearGradient id="gkm" x1="0" y1="0" x2="0" y2="1"><stop offset="0.000" stop-color="#000" stop-opacity="0.12"/><stop offset="0.115" stop-color="#000" stop-opacity="0.1"/><stop offset="0.192" stop-color="#000" stop-opacity="0.2"/><stop offset="0.250" stop-color="#000" stop-opacity="0.28"/><stop offset="0.308" stop-color="#000" stop-opacity="0.12"/><stop offset="0.404" stop-color="#000" stop-opacity="0.15"/><stop offset="0.462" stop-color="#000" stop-opacity="0.25"/><stop offset="0.519" stop-color="#000" stop-opacity="0.12"/><stop offset="0.596" stop-color="#000" stop-opacity="0.2"/><stop offset="0.654" stop-color="#000" stop-opacity="0.15"/><stop offset="0.731" stop-color="#000" stop-opacity="0.3"/><stop offset="0.846" stop-color="#000" stop-opacity="0.42"/><stop offset="0.942" stop-color="#000" stop-opacity="0.7"/><stop offset="1.000" stop-color="#000" stop-opacity="1"/></linearGradient><rect x="173" y="512" width="23.5" height="52" fill="url(#gkm)" filter="url(#b08)"/>
<path d="M105.10,564.26 C113.88,561.50 123.62,562.65 133.05,563.80 C135.00,569.55 135.00,577.60 133.05,582.66 C123.62,584.50 113.88,584.50 104.45,583.12 C102.50,577.60 102.50,569.55 105.10,564.26 Z" fill="#000" fill-opacity="1.00" filter="url(#b2)"/>
<rect x="105.00" y="565.00" width="28.00" height="16.00" rx="4.00" fill="#000" fill-opacity="1.00" filter="url(#b12)"/>
<rect x="108.00" y="592.50" width="22.00" height="5.00" rx="2.50" fill="#000" fill-opacity="0.38" filter="url(#b12)"/>
<path d="M139.56,565.08 C148.20,562.50 157.80,563.58 167.08,564.65 C169.00,570.02 169.00,577.55 167.08,582.28 C157.80,584.00 148.20,584.00 138.92,582.71 C137.00,577.55 137.00,570.02 139.56,565.08 Z" fill="#000" fill-opacity="1.00" filter="url(#b2)"/>
<rect x="139.00" y="565.50" width="28.00" height="15.00" rx="4.00" fill="#000" fill-opacity="1.00" filter="url(#b12)"/>
<rect x="142.00" y="593.50" width="23.00" height="3.00" rx="1.50" fill="#000" fill-opacity="0.15" filter="url(#b12)"/>
<path d="M173.12,563.08 C180.28,560.50 188.22,561.58 195.91,562.65 C197.50,568.02 197.50,575.55 195.91,580.28 C188.22,582.00 180.28,582.00 172.59,580.71 C171.00,575.55 171.00,568.02 173.12,563.08 Z" fill="#000" fill-opacity="1.00" filter="url(#b2)"/>
<rect x="173.00" y="563.50" width="22.50" height="15.00" rx="4.00" fill="#000" fill-opacity="1.00" filter="url(#b12)"/>
<rect x="175.00" y="592.50" width="18.00" height="3.00" rx="1.50" fill="#000" fill-opacity="0.15" filter="url(#b12)"/>
<path d="M202.90,562.46 C211.00,560.00 220.00,561.02 228.70,562.05 C230.50,567.17 230.50,574.35 228.70,578.86 C220.00,580.50 211.00,580.50 202.30,579.27 C200.50,574.35 200.50,567.17 202.90,562.46 Z" fill="#000" fill-opacity="1.00" filter="url(#b2)"/>
<rect x="202.00" y="563.00" width="27.00" height="14.00" rx="4.00" fill="#000" fill-opacity="1.00" filter="url(#b12)"/>
<path d="M211,581 C213,578 217,578 219,581" fill="#e2e2e2" fill-opacity="0.6" filter="url(#b08)"/>
<rect x="222.00" y="520.00" width="2.50" height="40.00" rx="20.00" fill="#000" fill-opacity="0.08" filter="url(#b08)"/>
<rect x="203.00" y="555.50" width="26.00" height="5.00" rx="2.50" fill="#000" fill-opacity="0.25" filter="url(#b12)"/>
</g>
<rect x="76.90" y="601.20" width="154.30" height="13.60" fill="#e2e2e2" stroke="#3a3a3a" stroke-width="0.9"/>
<rect x="106.00" y="605.00" width="22.00" height="3.60" rx="1.80" fill="#000" fill-opacity="0.95" filter="url(#b08)"/>
<ellipse cx="117.50" cy="606.80" rx="2.20" ry="1.70" fill="#000" filter="url(#b04)"/>
<rect x="137.50" y="605.20" width="23.00" height="3.20" rx="1.60" fill="#000" fill-opacity="1.00" filter="url(#b08)"/>
<rect x="170.50" y="605.10" width="24.00" height="3.40" rx="1.70" fill="#000" fill-opacity="1.00" filter="url(#b08)"/>
<line x1="181.30" y1="606.80" x2="181.50" y2="612.00" stroke="#111" stroke-width="1.1"/>
<rect x="204.50" y="604.60" width="26.00" height="3.40" rx="1.70" fill="#000" fill-opacity="1.00" filter="url(#b08)"/>
<rect x="76.90" y="624.20" width="154.50" height="82.70" fill="#e2e2e2" stroke="#3a3a3a" stroke-width="0.9"/>
<linearGradient id="wclg" x1="0" y1="0" x2="0" y2="1"><stop offset="0" stop-color="#000"/><stop offset="0.3" stop-color="#060606"/><stop offset="0.45" stop-color="#262626"/><stop offset="0.6" stop-color="#484848"/><stop offset="0.8" stop-color="#525252"/><stop offset="1" stop-color="#4a4a4a"/></linearGradient>
<linearGradient id="wclgap" x1="0" y1="0" x2="0" y2="1"><stop offset="0" stop-color="#cfcfcf"/><stop offset="1" stop-color="#bdbdbd"/></linearGradient>
<clipPath id="cwcl"><rect x="77.4" y="624.7" width="153.5" height="81.7"/></clipPath>
<g clip-path="url(#cwcl)">
<rect x="77.40" y="624.70" width="153.50" height="81.70" fill="url(#wclg)" stroke="none" stroke-width="1"/>
<rect x="77.00" y="681.25" width="154.00" height="3.50" rx="0.30" fill="#000" fill-opacity="0.60" filter="url(#b08)"/>
<rect x="77.00" y="695.10" width="154.00" height="3.80" rx="0.30" fill="#000" fill-opacity="0.55" filter="url(#b08)"/>
<rect x="77.00" y="670.50" width="154.00" height="3.00" rx="0.30" fill="#000" fill-opacity="0.30" filter="url(#b08)"/>
<rect x="77.00" y="688.50" width="154.00" height="3.00" rx="0.30" fill="#000" fill-opacity="0.25" filter="url(#b08)"/>
<rect x="77.00" y="658.00" width="154.00" height="4.00" rx="0.30" fill="#000" fill-opacity="0.30" filter="url(#b08)"/>
<rect x="106.5" y="620" width="7.0" height="90" fill="url(#wclgap)" filter="url(#b08)"/>
<rect x="136.9" y="620" width="7.0" height="90" fill="url(#wclgap)" filter="url(#b08)"/>
<rect x="167.3" y="620" width="7.0" height="90" fill="url(#wclgap)" filter="url(#b08)"/>
<rect x="196.5" y="620" width="7.0" height="90" fill="url(#wclgap)" filter="url(#b08)"/>
<rect x="76" y="620" width="6.5" height="90" fill="#a0a0a0" filter="url(#b08)"/>
<rect x="227.5" y="620" width="5" height="90" fill="#808080" filter="url(#b08)"/>
</g>
<rect x="76.90" y="710.00" width="154.50" height="14.20" fill="#e2e2e2" stroke="#3a3a3a" stroke-width="0.9"/>
<rect x="84.30" y="716.60" width="19.90" height="2.80" rx="1.40" fill="#000" fill-opacity="0.85" filter="url(#b08)"/>
<rect x="113.50" y="716.60" width="19.90" height="2.80" rx="1.40" fill="#000" fill-opacity="0.70" filter="url(#b08)"/>
<rect x="142.70" y="715.90" width="21.10" height="3.20" rx="1.60" fill="#000" fill-opacity="0.85" filter="url(#b08)"/>
<rect x="170.80" y="715.90" width="24.50" height="3.20" rx="1.60" fill="#000" fill-opacity="0.85" filter="url(#b08)"/>
<rect x="202.30" y="715.20" width="26.90" height="3.60" rx="1.80" fill="#000" fill-opacity="0.90" filter="url(#b08)"/>
<rect x="76.90" y="727.00" width="154.50" height="14.50" fill="#e2e2e2" stroke="#3a3a3a" stroke-width="0.9"/>
<rect x="83.20" y="732.60" width="19.80" height="4.40" rx="2.20" fill="#000" fill-opacity="1.00" filter="url(#b04)"/>
<path d="M114.18,731.30 C120.17,730.20 126.83,730.66 133.27,731.12 C134.60,733.42 134.60,736.64 133.27,738.66 C126.83,739.40 120.17,739.40 113.73,738.85 C112.40,736.64 112.40,733.42 114.18,731.30 Z" fill="#000" fill-opacity="1.00" filter="url(#b04)"/>
<path d="M143.38,731.10 C149.37,730.00 156.03,730.46 162.47,730.92 C163.80,733.22 163.80,736.44 162.47,738.46 C156.03,739.20 149.37,739.20 142.93,738.65 C141.60,736.44 141.60,733.22 143.38,731.10 Z" fill="#000" fill-opacity="1.00" filter="url(#b04)"/>
<path d="M172.20,731.91 C178.63,731.00 185.77,731.38 192.67,731.76 C194.10,733.66 194.10,736.32 192.67,737.99 C185.77,738.60 178.63,738.60 171.73,738.14 C170.30,736.32 170.30,733.66 172.20,731.91 Z" fill="#000" fill-opacity="1.00" filter="url(#b04)"/>
<path d="M203.07,729.58 C209.71,728.60 217.09,729.01 224.22,729.42 C225.70,731.47 225.70,734.34 224.22,736.14 C217.09,736.80 209.71,736.80 202.58,736.31 C201.10,734.34 201.10,731.47 203.07,729.58 Z" fill="#000" fill-opacity="1.00" filter="url(#b04)"/>
<text x="302.40" y="606.80" font-size="14" font-weight="bold" text-anchor="start" fill="#111" stroke="#111" stroke-width="0.22">k</text>
<text x="376.00" y="618.67" font-size="7.9" font-weight="bold" text-anchor="middle" fill="#111" stroke="#111" stroke-width="0.22" transform="rotate(-45 376.00 615.50) translate(0 618.67) scale(1 1.1) translate(0 -618.67)">IgG</text>
<text x="409.70" y="613.87" font-size="7.9" font-weight="bold" text-anchor="middle" fill="#111" stroke="#111" stroke-width="0.22" transform="rotate(-45 409.70 610.70) translate(0 613.87) scale(1 1.1) translate(0 -613.87)">DMSO</text>
<text x="443.40" y="617.07" font-size="7.9" font-weight="bold" text-anchor="middle" fill="#111" stroke="#111" stroke-width="0.22" transform="rotate(-45 443.40 613.90) translate(0 617.07) scale(1 1.1) translate(0 -617.07)">KLX</text>
<line x1="310.10" y1="634.80" x2="310.10" y2="671.10" stroke="#111" stroke-width="1.5"/>
<line x1="310.10" y1="687.10" x2="310.10" y2="748.10" stroke="#111" stroke-width="1.5"/>
<text x="290.90" y="651.47" font-size="7.9" font-weight="bold" text-anchor="middle" fill="#111" stroke="#111" stroke-width="0.22" transform="translate(0 651.47) scale(1 1.1) translate(0 -651.47)">IP</text>
<text x="291.30" y="660.47" font-size="7.9" font-weight="bold" text-anchor="middle" fill="#111" stroke="#111" stroke-width="0.22" transform="translate(0 660.47) scale(1 1.1) translate(0 -660.47)">ZBP1</text>
<text x="291.60" y="719.17" font-size="7.9" font-weight="bold" text-anchor="middle" fill="#111" stroke="#111" stroke-width="0.22" transform="translate(0 719.17) scale(1 1.1) translate(0 -719.17)">WCL</text>
<text x="346.40" y="644.37" font-size="7.9" font-weight="bold" text-anchor="end" fill="#111" stroke="#111" stroke-width="0.22" transform="translate(0 644.37) scale(1 1.1) translate(0 -644.37)">RNF180</text>
<text x="346.40" y="666.87" font-size="7.9" font-weight="bold" text-anchor="end" fill="#111" stroke="#111" stroke-width="0.22" transform="translate(0 666.87) scale(1 1.1) translate(0 -666.87)">ZBP1</text>
<text x="346.40" y="697.37" font-size="7.9" font-weight="bold" text-anchor="end" fill="#111" stroke="#111" stroke-width="0.22" transform="translate(0 697.37) scale(1 1.1) translate(0 -697.37)">RNF180</text>
<text x="346.40" y="719.87" font-size="7.9" font-weight="bold" text-anchor="end" fill="#111" stroke="#111" stroke-width="0.22" transform="translate(0 719.87) scale(1 1.1) translate(0 -719.87)">ZBP1</text>
<text x="346.40" y="744.87" font-size="7.9" font-weight="bold" text-anchor="end" fill="#111" stroke="#111" stroke-width="0.22" transform="translate(0 744.87) scale(1 1.1) translate(0 -744.87)">GAPDH</text>
<text x="463.60" y="641.17" font-size="7.9" font-weight="bold" text-anchor="start" fill="#111" stroke="#111" stroke-width="0.22" transform="translate(0 641.17) scale(1 1.1) translate(0 -641.17)">65kDa</text>
<text x="463.60" y="666.17" font-size="7.9" font-weight="bold" text-anchor="start" fill="#111" stroke="#111" stroke-width="0.22" transform="translate(0 666.17) scale(1 1.1) translate(0 -666.17)">46kDa</text>
<text x="463.60" y="695.77" font-size="7.9" font-weight="bold" text-anchor="start" fill="#111" stroke="#111" stroke-width="0.22" transform="translate(0 695.77) scale(1 1.1) translate(0 -695.77)">65kDa</text>
<text x="463.60" y="719.17" font-size="7.9" font-weight="bold" text-anchor="start" fill="#111" stroke="#111" stroke-width="0.22" transform="translate(0 719.17) scale(1 1.1) translate(0 -719.17)">46kDa</text>
<text x="463.60" y="742.97" font-size="7.9" font-weight="bold" text-anchor="start" fill="#111" stroke="#111" stroke-width="0.22" transform="translate(0 742.97) scale(1 1.1) translate(0 -742.97)">36kDa</text>
<rect x="354.50" y="630.00" width="103.40" height="18.60" fill="#e2e2e2" stroke="#3a3a3a" stroke-width="0.9"/>
<rect x="354.50" y="653.10" width="103.40" height="19.20" fill="#e2e2e2" stroke="#3a3a3a" stroke-width="0.9"/>
<rect x="354.50" y="683.00" width="103.40" height="18.20" fill="#e2e2e2" stroke="#3a3a3a" stroke-width="0.9"/>
<rect x="354.50" y="706.40" width="103.40" height="19.30" fill="#e2e2e2" stroke="#3a3a3a" stroke-width="0.9"/>
<rect x="354.50" y="729.50" width="103.40" height="19.90" fill="#e2e2e2" stroke="#3a3a3a" stroke-width="0.9"/>
<rect x="393.00" y="630.50" width="23.00" height="7.00" rx="3.50" fill="#000" fill-opacity="0.15" filter="url(#b12)"/>
<rect x="393.00" y="635.90" width="23.00" height="4.20" rx="2.10" fill="#000" fill-opacity="1.00" filter="url(#b08)"/>
<rect x="394.00" y="641.00" width="21.00" height="4.00" rx="2.00" fill="#000" fill-opacity="0.12" filter="url(#b12)"/>
<rect x="428.00" y="636.50" width="8.00" height="2.00" rx="1.00" fill="#000" fill-opacity="0.12" filter="url(#b08)"/>
<rect x="449.00" y="638.50" width="6.00" height="2.00" rx="1.00" fill="#000" fill-opacity="0.15" filter="url(#b08)"/>
<rect x="393.60" y="659.90" width="14.40" height="3.80" rx="1.90" fill="#000" fill-opacity="0.95" filter="url(#b08)"/>
<rect x="405.00" y="660.20" width="12.60" height="3.20" rx="1.60" fill="#000" fill-opacity="0.70" filter="url(#b08)"/>
<rect x="427.50" y="658.40" width="30.50" height="6.80" rx="3.40" fill="#000" fill-opacity="1.00" filter="url(#b08)"/>
<rect x="359.40" y="692.40" width="25.70" height="3.80" rx="1.90" fill="#000" fill-opacity="0.95" filter="url(#b08)"/>
<ellipse cx="361.00" cy="695.50" rx="1.60" ry="1.40" fill="#000" filter="url(#b08)"/>
<path d="M396.5,694.6 C403,692.6 412,692.4 419.5,693" fill="none" stroke="#000" stroke-width="4" stroke-linecap="round" filter="url(#b08)"/>
<rect x="432.20" y="691.80" width="9.80" height="3.40" rx="1.70" fill="#000" fill-opacity="0.90" filter="url(#b08)"/>
<rect x="442.00" y="692.00" width="7.00" height="3.00" rx="1.50" fill="#000" fill-opacity="0.60" filter="url(#b08)"/>
<rect x="449.00" y="691.70" width="8.00" height="3.60" rx="1.80" fill="#000" fill-opacity="0.90" filter="url(#b08)"/>
<rect x="361.00" y="717.00" width="3.50" height="2.40" rx="1.20" fill="#000" fill-opacity="0.35" filter="url(#b08)"/>
<rect x="366.00" y="717.00" width="3.50" height="2.40" rx="1.20" fill="#000" fill-opacity="0.35" filter="url(#b08)"/>
<rect x="371.00" y="717.00" width="3.50" height="2.40" rx="1.20" fill="#000" fill-opacity="0.35" filter="url(#b08)"/>
<rect x="376.00" y="717.00" width="3.50" height="2.40" rx="1.20" fill="#000" fill-opacity="0.35" filter="url(#b08)"/>
<rect x="380.00" y="717.00" width="3.50" height="2.40" rx="1.20" fill="#000" fill-opacity="0.35" filter="url(#b08)"/>
<rect x="394.80" y="716.90" width="23.70" height="2.80" rx="1.40" fill="#000" fill-opacity="0.70" filter="url(#b08)"/>
<rect x="433.00" y="715.30" width="24.00" height="3.00" rx="1.50" fill="#000" fill-opacity="0.45" filter="url(#b08)"/>
<rect x="445.00" y="714.60" width="12.00" height="4.00" rx="2.00" fill="#000" fill-opacity="0.45" filter="url(#b12)"/>
<path d="M359.94,733.79 C368.18,731.80 377.32,732.63 386.17,733.46 C388.00,737.61 388.00,743.42 386.17,747.07 C377.32,748.40 368.18,748.40 359.33,747.40 C357.50,743.42 357.50,737.61 359.94,733.79 Z" fill="#000" fill-opacity="1.00" filter="url(#b08)"/>
<path d="M393.90,733.79 C402.00,731.80 411.00,732.63 419.70,733.46 C421.50,737.61 421.50,743.42 419.70,747.07 C411.00,748.40 402.00,748.40 393.30,747.40 C391.50,743.42 391.50,737.61 393.90,733.79 Z" fill="#000" fill-opacity="1.00" filter="url(#b08)"/>
<path d="M428.52,734.14 C437.02,732.20 446.48,733.01 455.61,733.82 C457.50,737.87 457.50,743.54 455.61,747.10 C446.48,748.40 437.02,748.40 427.89,747.43 C426.00,743.54 426.00,737.87 428.52,734.14 Z" fill="#000" fill-opacity="1.00" filter="url(#b08)"/>
<rect x="512.70" y="611.90" width="166.50" height="117.40" fill="none" stroke="#666" stroke-width="0.7"/>
<line x1="510.50" y1="729.30" x2="512.70" y2="729.30" stroke="#666" stroke-width="0.6"/>
<text x="508.60" y="731.38" font-size="5.2" text-anchor="end" fill="#555" stroke="#555" stroke-width="0.22" transform="translate(0 731.38) scale(1 1.1) translate(0 -731.38)">0</text>
<line x1="510.50" y1="714.62" x2="512.70" y2="714.62" stroke="#666" stroke-width="0.6"/>
<text x="508.60" y="716.71" font-size="5.2" text-anchor="end" fill="#555" stroke="#555" stroke-width="0.22" transform="translate(0 716.71) scale(1 1.1) translate(0 -716.71)">1</text>
<line x1="510.50" y1="699.95" x2="512.70" y2="699.95" stroke="#666" stroke-width="0.6"/>
<text x="508.60" y="702.03" font-size="5.2" text-anchor="end" fill="#555" stroke="#555" stroke-width="0.22" transform="translate(0 702.03) scale(1 1.1) translate(0 -702.03)">2</text>
<line x1="510.50" y1="685.27" x2="512.70" y2="685.27" stroke="#666" stroke-width="0.6"/>
<text x="508.60" y="687.36" font-size="5.2" text-anchor="end" fill="#555" stroke="#555" stroke-width="0.22" transform="translate(0 687.36) scale(1 1.1) translate(0 -687.36)">3</text>
<line x1="510.50" y1="670.60" x2="512.70" y2="670.60" stroke="#666" stroke-width="0.6"/>
<text x="508.60" y="672.68" font-size="5.2" text-anchor="end" fill="#555" stroke="#555" stroke-width="0.22" transform="translate(0 672.68) scale(1 1.1) translate(0 -672.68)">4</text>
<line x1="510.50" y1="655.92" x2="512.70" y2="655.92" stroke="#666" stroke-width="0.6"/>
<text x="508.60" y="658.01" font-size="5.2" text-anchor="end" fill="#555" stroke="#555" stroke-width="0.22" transform="translate(0 658.01) scale(1 1.1) translate(0 -658.01)">5</text>
<line x1="510.50" y1="641.25" x2="512.70" y2="641.25" stroke="#666" stroke-width="0.6"/>
<text x="508.60" y="643.33" font-size="5.2" text-anchor="end" fill="#555" stroke="#555" stroke-width="0.22" transform="translate(0 643.33) scale(1 1.1) translate(0 -643.33)">6</text>
<line x1="510.50" y1="626.57" x2="512.70" y2="626.57" stroke="#666" stroke-width="0.6"/>
<text x="508.60" y="628.66" font-size="5.2" text-anchor="end" fill="#555" stroke="#555" stroke-width="0.22" transform="translate(0 628.66) scale(1 1.1) translate(0 -628.66)">7</text>
<line x1="510.50" y1="611.90" x2="512.70" y2="611.90" stroke="#666" stroke-width="0.6"/>
<text x="508.60" y="613.98" font-size="5.2" text-anchor="end" fill="#555" stroke="#555" stroke-width="0.22" transform="translate(0 613.98) scale(1 1.1) translate(0 -613.98)">8</text>
<line x1="512.70" y1="729.30" x2="512.70" y2="731.50" stroke="#666" stroke-width="0.6"/>
<text x="512.70" y="737.35" font-size="5.6" text-anchor="middle" fill="#555" stroke="#555" stroke-width="0.22" transform="translate(0 737.35) scale(1 1.1) translate(0 -737.35)">0</text>
<line x1="546.00" y1="729.30" x2="546.00" y2="731.50" stroke="#666" stroke-width="0.6"/>
<text x="546.00" y="737.35" font-size="5.6" text-anchor="middle" fill="#555" stroke="#555" stroke-width="0.22" transform="translate(0 737.35) scale(1 1.1) translate(0 -737.35)">20</text>
<line x1="579.30" y1="729.30" x2="579.30" y2="731.50" stroke="#666" stroke-width="0.6"/>
<text x="579.30" y="737.35" font-size="5.6" text-anchor="middle" fill="#555" stroke="#555" stroke-width="0.22" transform="translate(0 737.35) scale(1 1.1) translate(0 -737.35)">40</text>
<line x1="612.60" y1="729.30" x2="612.60" y2="731.50" stroke="#666" stroke-width="0.6"/>
<text x="612.60" y="737.35" font-size="5.6" text-anchor="middle" fill="#555" stroke="#555" stroke-width="0.22" transform="translate(0 737.35) scale(1 1.1) translate(0 -737.35)">60</text>
<line x1="645.90" y1="729.30" x2="645.90" y2="731.50" stroke="#666" stroke-width="0.6"/>
<text x="645.90" y="737.35" font-size="5.6" text-anchor="middle" fill="#555" stroke="#555" stroke-width="0.22" transform="translate(0 737.35) scale(1 1.1) translate(0 -737.35)">80</text>
<line x1="679.20" y1="729.30" x2="679.20" y2="731.50" stroke="#666" stroke-width="0.6"/>
<text x="679.20" y="737.35" font-size="5.6" text-anchor="middle" fill="#555" stroke="#555" stroke-width="0.22" transform="translate(0 737.35) scale(1 1.1) translate(0 -737.35)">100</text>
<line x1="529.35" y1="729.30" x2="529.35" y2="730.50" stroke="#666" stroke-width="0.5"/>
<line x1="562.65" y1="729.30" x2="562.65" y2="730.50" stroke="#666" stroke-width="0.5"/>
<line x1="595.95" y1="729.30" x2="595.95" y2="730.50" stroke="#666" stroke-width="0.5"/>
<line x1="629.25" y1="729.30" x2="629.25" y2="730.50" stroke="#666" stroke-width="0.5"/>
<line x1="662.55" y1="729.30" x2="662.55" y2="730.50" stroke="#666" stroke-width="0.5"/>
<text x="595.90" y="752.24" font-size="10.8" text-anchor="middle" fill="#111" stroke="#111" stroke-width="0.22">Time (ns)</text>
<text x="499.40" y="675.36" font-size="10.6" text-anchor="middle" fill="#111" stroke="#111" stroke-width="0.22" transform="rotate(-90 499.40 671.50)">RMSD (Å)</text>
<polyline points="512.70,709.89 513.03,709.32 513.37,706.74 513.70,702.75 514.03,700.88 514.37,699.24 514.70,695.10 515.03,693.82 515.36,700.03 515.70,696.11 516.03,692.15 516.36,691.77 516.70,686.71 517.03,679.24 517.36,678.27 517.70,684.77 518.03,684.23 518.36,682.56 518.69,686.05 519.03,679.17 519.36,680.29 519.69,686.48 520.03,678.23 520.36,681.23 520.69,683.89 521.03,682.25 521.36,678.74 521.69,677.41 522.02,679.19 522.36,685.70 522.69,685.37 523.02,687.69 523.36,685.94 523.69,690.82 524.02,684.42 524.36,681.43 524.69,691.57 525.02,688.46 525.35,681.62 525.69,682.59 526.02,682.03 526.35,681.34 526.69,681.51 527.02,679.11 527.35,680.95 527.69,685.35 528.02,690.64 528.35,682.07 528.68,677.24 529.02,681.82 529.35,680.19 529.68,677.78 530.02,682.37 530.35,682.01 530.68,678.48 531.01,682.15 531.35,681.97 531.68,682.32 532.01,684.81 532.35,686.22 532.68,679.78 533.01,676.86 533.35,678.33 533.68,677.07 534.01,677.64 534.35,678.74 534.68,677.00 535.01,677.26 535.34,679.73 535.68,675.83 536.01,676.48 536.34,687.00 536.68,680.19 537.01,678.10 537.34,675.93 537.67,679.36 538.01,677.22 538.34,678.11 538.67,678.18 539.01,680.31 539.34,683.76 539.67,677.74 540.01,674.45 540.34,680.37 540.67,679.11 541.00,690.79 541.34,690.36 541.67,690.79 542.00,681.87 542.34,683.14 542.67,684.11 543.00,679.91 543.34,685.49 543.67,690.58 544.00,688.93 544.34,685.08 544.67,684.23 545.00,691.61 545.33,691.97 545.67,693.93 546.00,686.78 546.33,690.63 546.67,692.57 547.00,683.61 547.33,681.09 547.66,686.52 548.00,682.64 548.33,688.62 548.66,686.92 549.00,690.83 549.33,682.76 549.66,685.80 550.00,682.08 550.33,683.70 550.66,685.14 551.00,685.60 551.33,681.08 551.66,684.35 551.99,679.83 552.33,676.33 552.66,675.87 552.99,673.32 553.33,674.72 553.66,681.64 553.99,676.02 554.32,677.93 554.66,678.36 554.99,677.36 555.32,677.52 555.66,673.99 555.99,680.69 556.32,674.28 556.66,678.04 556.99,674.06 557.32,672.62 557.65,678.97 557.99,678.77 558.32,678.24 558.65,678.60 558.99,676.57 559.32,674.31 559.65,673.82 559.99,681.71 560.32,678.27 560.65,679.39 560.98,678.32 561.32,673.80 561.65,673.97 561.98,672.91 562.32,682.30 562.65,673.22 562.98,676.81 563.32,682.48 563.65,669.50 563.98,671.77 564.31,675.35 564.65,672.87 564.98,675.68 565.31,673.35 565.65,675.98 565.98,677.17 566.31,675.73 566.65,678.46 566.98,672.12 567.31,683.20 567.64,675.52 567.98,673.24 568.31,672.05 568.64,669.72 568.98,674.96 569.31,667.52 569.64,673.83 569.98,672.56 570.31,676.09 570.64,670.26 570.98,676.99 571.31,670.88 571.64,669.76 571.97,671.45 572.31,675.60 572.64,672.45 572.97,673.88 573.31,672.63 573.64,672.93 573.97,671.07 574.31,676.28 574.64,675.03 574.97,674.19 575.30,673.96 575.64,679.03 575.97,672.49 576.30,675.03 576.64,678.68 576.97,676.30 577.30,673.32 577.64,684.43 577.97,673.09 578.30,680.20 578.63,675.81 578.97,675.85 579.30,674.13 579.63,674.14 579.97,672.96 580.30,679.97 580.63,675.83 580.97,673.53 581.30,673.57 581.63,668.01 581.96,676.24 582.30,669.00 582.63,673.06 582.96,677.52 583.30,678.40 583.63,675.52 583.96,678.73 584.30,678.06 584.63,679.74 584.96,678.21 585.29,682.56 585.63,686.98 585.96,690.41 586.29,682.54 586.63,682.55 586.96,687.54 587.29,682.40 587.63,685.97 587.96,690.47 588.29,682.22 588.62,683.34 588.96,689.82 589.29,689.42 589.62,690.61 589.96,685.26 590.29,682.18 590.62,679.74 590.96,685.01 591.29,688.72 591.62,686.13 591.95,691.08 592.29,687.18 592.62,687.14 592.95,688.82 593.29,685.52 593.62,688.26 593.95,696.42 594.29,689.26 594.62,686.66 594.95,691.55 595.28,689.39 595.62,685.60 595.95,689.73 596.28,688.32 596.62,686.74 596.95,691.49 597.28,690.37 597.62,687.46 597.95,685.43 598.28,686.27 598.61,685.83 598.95,683.75 599.28,691.55 599.61,684.28 599.95,674.36 600.28,674.73 600.61,675.63 600.95,679.42 601.28,683.42 601.61,684.03 601.94,673.23 602.28,677.32 602.61,678.45 602.94,677.91 603.28,676.08 603.61,671.80 603.94,676.55 604.28,679.48 604.61,681.26 604.94,680.94 605.27,676.55 605.61,677.73 605.94,675.13 606.27,676.04 606.61,673.35 606.94,668.56 607.27,672.42 607.61,676.53 607.94,671.34 608.27,680.38 608.60,684.54 608.94,681.73 609.27,680.39 609.60,682.75 609.94,684.71 610.27,679.18 610.60,679.44 610.94,678.17 611.27,672.86 611.60,677.22 611.93,680.62 612.27,680.43 612.60,677.34 612.93,670.87 613.27,676.30 613.60,684.50 613.93,679.76 614.27,677.47 614.60,676.90 614.93,675.28 615.26,680.60 615.60,682.69 615.93,677.44 616.26,675.82 616.60,676.46 616.93,678.08 617.26,678.27 617.60,680.06 617.93,676.07 618.26,675.23 618.59,679.16 618.93,678.89 619.26,677.14 619.59,680.13 619.93,678.53 620.26,672.78 620.59,682.15 620.93,679.12 621.26,676.33 621.59,677.39 621.92,678.85 622.26,681.91 622.59,676.73 622.92,674.70 623.26,667.60 623.59,675.58 623.92,673.53 624.26,678.83 624.59,675.29 624.92,675.81 625.25,673.72 625.59,675.07 625.92,671.51 626.25,675.50 626.59,678.13 626.92,673.65 627.25,676.35 627.59,675.17 627.92,675.51 628.25,674.41 628.58,682.40 628.92,676.97 629.25,673.18 629.58,677.35 629.92,682.05 630.25,678.06 630.58,677.41 630.92,679.01 631.25,671.37 631.58,666.49 631.91,673.07 632.25,671.32 632.58,681.62 632.91,674.33 633.25,665.50 633.58,671.04 633.91,672.12 634.25,677.92 634.58,687.25 634.91,679.05 635.24,667.51 635.58,672.36 635.91,675.68 636.24,671.30 636.58,671.82 636.91,668.81 637.24,671.45 637.58,672.10 637.91,666.45 638.24,673.79 638.57,672.44 638.91,668.40 639.24,670.54 639.57,675.67 639.91,674.09 640.24,678.86 640.57,679.83 640.91,682.53 641.24,690.38 641.57,682.84 641.90,683.69 642.24,676.78 642.57,677.39 642.90,679.71 643.24,682.74 643.57,681.11 643.90,676.06 644.24,680.56 644.57,677.51 644.90,676.29 645.23,678.34 645.57,683.13 645.90,684.24 646.23,680.78 646.57,674.57 646.90,677.02 647.23,670.65 647.57,672.87 647.90,673.74 648.23,666.03 648.56,679.33 648.90,674.72 649.23,672.30 649.56,677.50 649.90,671.57 650.23,676.90 650.56,681.56 650.90,677.53 651.23,677.11 651.56,675.76 651.89,676.16 652.23,671.16 652.56,666.15 652.89,671.99 653.23,665.43 653.56,670.12 653.89,676.05 654.23,673.00 654.56,670.81 654.89,677.90 655.22,673.05 655.56,671.02 655.89,673.00 656.22,674.50 656.56,676.62 656.89,668.54 657.22,673.02 657.56,676.84 657.89,672.14 658.22,672.44 658.55,669.86 658.89,676.03 659.22,675.97 659.55,678.46 659.89,675.16 660.22,680.84 660.55,677.85 660.89,675.07 661.22,678.35 661.55,673.70 661.88,675.62 662.22,669.80 662.55,672.20 662.88,674.47 663.22,687.17 663.55,680.47 663.88,682.78 664.22,681.05 664.55,678.00 664.88,675.89 665.21,678.74 665.55,679.64 665.88,686.25 666.21,679.60 666.55,677.13 666.88,677.09 667.21,680.37 667.55,677.65 667.88,688.03 668.21,680.70 668.54,683.54 668.88,680.86 669.21,681.69 669.54,683.10 669.88,682.55 670.21,682.91 670.54,676.69 670.88,680.59 671.21,676.25 671.54,678.61 671.87,676.91 672.21,685.52 672.54,679.35 672.87,679.48 673.21,679.87 673.54,680.93 673.87,680.63 674.21,675.98 674.54,674.34 674.87,674.77 675.20,675.25 675.54,675.24 675.87,680.42 676.20,674.37 676.54,671.93 676.87,667.85 677.20,666.33 677.54,667.09 677.87,667.43 678.20,671.58 678.53,665.91 678.87,663.45" fill="none" stroke="#f6a0a0" stroke-width="0.8" stroke-linejoin="round"/>
<polyline points="512.70,712.25 513.03,709.42 513.37,708.07 513.70,702.20 514.03,699.30 514.37,698.56 514.70,701.57 515.03,696.40 515.36,698.39 515.70,695.93 516.03,691.26 516.36,688.09 516.70,686.32 517.03,686.62 517.36,683.48 517.70,685.09 518.03,684.71 518.36,682.19 518.69,683.56 519.03,683.87 519.36,684.34 519.69,681.51 520.03,681.23 520.36,685.43 520.69,682.51 521.03,680.52 521.36,684.37 521.69,680.95 522.02,678.36 522.36,680.62 522.69,680.33 523.02,682.72 523.36,684.70 523.69,680.46 524.02,685.36 524.36,680.57 524.69,686.63 525.02,683.60 525.35,686.07 525.69,682.05 526.02,682.86 526.35,680.26 526.69,681.98 527.02,687.22 527.35,683.14 527.69,688.12 528.02,683.23 528.35,683.85 528.68,686.33 529.02,682.80 529.35,682.06 529.68,682.11 530.02,683.66 530.35,680.20 530.68,683.21 531.01,678.77 531.35,683.52 531.68,682.06 532.01,678.02 532.35,676.95 532.68,680.95 533.01,677.76 533.35,678.34 533.68,678.76 534.01,679.51 534.35,678.04 534.68,677.11 535.01,674.01 535.34,678.38 535.68,678.71 536.01,679.45 536.34,674.81 536.68,679.87 537.01,677.96 537.34,679.15 537.67,677.86 538.01,672.68 538.34,677.62 538.67,678.31 539.01,684.64 539.34,678.73 539.67,679.73 540.01,678.41 540.34,684.06 540.67,683.16 541.00,680.15 541.34,679.67 541.67,680.83 542.00,682.70 542.34,684.39 542.67,683.23 543.00,685.24 543.34,683.75 543.67,679.98 544.00,682.80 544.34,685.43 544.67,686.10 545.00,690.21 545.33,686.80 545.67,689.46 546.00,685.28 546.33,683.64 546.67,686.45 547.00,685.68 547.33,689.17 547.66,686.15 548.00,691.82 548.33,689.47 548.66,687.74 549.00,684.18 549.33,683.50 549.66,682.19 550.00,686.22 550.33,685.13 550.66,681.51 551.00,688.20 551.33,688.83 551.66,683.82 551.99,682.63 552.33,681.67 552.66,681.27 552.99,677.33 553.33,680.50 553.66,683.69 553.99,684.72 554.32,683.21 554.66,680.27 554.99,680.06 555.32,674.54 555.66,675.46 555.99,677.13 556.32,678.21 556.66,680.73 556.99,675.44 557.32,675.85 557.65,675.42 557.99,678.89 558.32,674.26 558.65,676.68 558.99,678.95 559.32,678.91 559.65,681.55 559.99,678.61 560.32,674.77 560.65,680.17 560.98,676.29 561.32,674.11 561.65,673.75 561.98,672.23 562.32,673.76 562.65,673.30 562.98,675.83 563.32,671.72 563.65,673.78 563.98,677.52 564.31,672.50 564.65,673.96 564.98,677.68 565.31,676.21 565.65,676.22 565.98,678.22 566.31,674.44 566.65,676.98 566.98,669.82 567.31,671.97 567.64,672.48 567.98,670.12 568.31,673.10 568.64,677.95 568.98,674.24 569.31,670.76 569.64,675.54 569.98,673.08 570.31,673.69 570.64,668.53 570.98,674.36 571.31,669.82 571.64,668.29 571.97,673.85 572.31,678.44 572.64,675.28 572.97,675.89 573.31,673.55 573.64,672.54 573.97,674.44 574.31,674.28 574.64,675.80 574.97,675.21 575.30,674.88 575.64,675.17 575.97,674.12 576.30,673.90 576.64,673.95 576.97,679.26 577.30,678.87 577.64,679.22 577.97,679.37 578.30,678.10 578.63,678.70 578.97,676.24 579.30,673.47 579.63,676.09 579.97,673.32 580.30,674.01 580.63,676.94 580.97,678.28 581.30,676.89 581.63,678.44 581.96,675.88 582.30,677.83 582.63,679.55 582.96,677.33 583.30,681.57 583.63,679.66 583.96,678.34 584.30,677.96 584.63,679.46 584.96,681.07 585.29,683.52 585.63,682.11 585.96,682.83 586.29,683.77 586.63,681.48 586.96,682.74 587.29,678.76 587.63,679.36 587.96,682.49 588.29,681.40 588.62,687.09 588.96,683.35 589.29,687.75 589.62,686.55 589.96,684.85 590.29,683.13 590.62,680.82 590.96,686.44 591.29,687.69 591.62,686.02 591.95,684.38 592.29,687.81 592.62,686.67 592.95,686.14 593.29,684.42 593.62,685.76 593.95,686.46 594.29,688.57 594.62,690.47 594.95,687.52 595.28,687.62 595.62,686.21 595.95,686.99 596.28,687.58 596.62,685.94 596.95,688.07 597.28,687.56 597.62,688.66 597.95,687.24 598.28,684.21 598.61,678.96 598.95,679.70 599.28,679.51 599.61,683.19 599.95,680.94 600.28,680.50 600.61,679.01 600.95,678.76 601.28,678.31 601.61,676.31 601.94,677.83 602.28,679.26 602.61,676.57 602.94,680.03 603.28,677.94 603.61,680.23 603.94,675.47 604.28,677.06 604.61,674.94 604.94,675.87 605.27,679.09 605.61,675.52 605.94,678.81 606.27,678.35 606.61,674.68 606.94,678.14 607.27,678.05 607.61,679.49 607.94,682.37 608.27,676.40 608.60,680.95 608.94,676.45 609.27,677.84 609.60,678.42 609.94,678.30 610.27,678.50 610.60,677.39 610.94,680.11 611.27,680.03 611.60,677.27 611.93,679.20 612.27,680.83 612.60,678.63 612.93,677.39 613.27,679.85 613.60,672.84 613.93,678.00 614.27,678.04 614.60,678.89 614.93,678.48 615.26,682.61 615.60,679.66 615.93,681.05 616.26,680.57 616.60,677.32 616.93,676.85 617.26,680.90 617.60,677.99 617.93,678.30 618.26,680.09 618.59,674.56 618.93,676.66 619.26,674.19 619.59,674.84 619.93,676.94 620.26,681.28 620.59,676.56 620.93,675.35 621.26,675.50 621.59,679.69 621.92,674.23 622.26,677.99 622.59,679.42 622.92,673.30 623.26,674.51 623.59,676.42 623.92,674.55 624.26,677.25 624.59,675.04 624.92,677.90 625.25,677.17 625.59,676.06 625.92,676.30 626.25,672.58 626.59,672.72 626.92,674.51 627.25,671.93 627.59,674.70 627.92,678.72 628.25,678.17 628.58,679.05 628.92,676.80 629.25,677.46 629.58,677.11 629.92,675.40 630.25,677.48 630.58,674.80 630.92,675.23 631.25,675.43 631.58,677.55 631.91,677.87 632.25,675.98 632.58,678.34 632.91,674.81 633.25,673.53 633.58,673.89 633.91,672.23 634.25,669.93 634.58,673.55 634.91,671.84 635.24,670.90 635.58,672.49 635.91,673.87 636.24,674.39 636.58,672.90 636.91,672.74 637.24,671.04 637.58,669.98 637.91,673.48 638.24,671.50 638.57,670.59 638.91,676.96 639.24,675.52 639.57,676.20 639.91,681.07 640.24,679.88 640.57,679.64 640.91,679.68 641.24,682.08 641.57,683.66 641.90,679.71 642.24,681.43 642.57,682.09 642.90,677.56 643.24,676.89 643.57,678.63 643.90,679.04 644.24,673.85 644.57,678.51 644.90,680.66 645.23,677.41 645.57,676.22 645.90,675.05 646.23,677.60 646.57,677.52 646.90,676.33 647.23,674.81 647.57,675.39 647.90,672.71 648.23,677.32 648.56,670.87 648.90,673.73 649.23,672.24 649.56,674.37 649.90,674.04 650.23,676.42 650.56,674.65 650.90,674.49 651.23,672.74 651.56,675.00 651.89,673.70 652.23,673.04 652.56,670.11 652.89,673.42 653.23,678.01 653.56,675.37 653.89,671.69 654.23,670.57 654.56,675.14 654.89,669.99 655.22,669.63 655.56,670.50 655.89,669.19 656.22,669.99 656.56,670.80 656.89,673.13 657.22,672.86 657.56,676.52 657.89,674.93 658.22,674.18 658.55,675.24 658.89,676.57 659.22,674.40 659.55,676.57 659.89,677.36 660.22,676.46 660.55,676.23 660.89,679.51 661.22,679.11 661.55,676.83 661.88,679.62 662.22,681.08 662.55,680.88 662.88,681.36 663.22,675.40 663.55,679.66 663.88,680.39 664.22,675.87 664.55,683.08 664.88,685.25 665.21,683.33 665.55,678.66 665.88,683.04 666.21,678.64 666.55,681.67 666.88,679.64 667.21,685.04 667.55,679.66 667.88,678.03 668.21,679.06 668.54,674.07 668.88,678.87 669.21,677.58 669.54,676.57 669.88,678.15 670.21,678.81 670.54,682.82 670.88,679.79 671.21,679.06 671.54,681.22 671.87,678.36 672.21,679.27 672.54,675.90 672.87,677.43 673.21,677.18 673.54,679.77 673.87,679.44 674.21,680.42 674.54,680.88 674.87,680.20 675.20,674.58 675.54,676.82 675.87,674.46 676.20,674.50 676.54,673.28 676.87,669.34 677.20,666.86 677.54,667.81 677.87,667.14 678.20,665.81 678.53,664.83 678.87,665.19" fill="none" stroke="#ee1c1c" stroke-width="1.0" stroke-linejoin="round"/>
<polyline points="512.70,710.99 513.03,716.46 513.37,710.06 513.70,688.40 514.03,693.37 514.37,696.48 514.70,706.12 515.03,696.33 515.36,697.50 515.70,696.97 516.03,696.52 516.36,693.74 516.70,688.81 517.03,690.63 517.36,690.81 517.70,683.28 518.03,700.21 518.36,689.91 518.69,691.00 519.03,699.33 519.36,703.57 519.69,706.07 520.03,693.93 520.36,703.56 520.69,706.56 521.03,703.76 521.36,696.10 521.69,698.60 522.02,701.56 522.36,703.91 522.69,711.43 523.02,706.57 523.36,700.98 523.69,698.69 524.02,701.59 524.36,699.61 524.69,695.43 525.02,697.17 525.35,696.50 525.69,693.32 526.02,688.67 526.35,694.78 526.69,698.36 527.02,687.13 527.35,689.06 527.69,688.25 528.02,697.46 528.35,691.89 528.68,691.59 529.02,693.37 529.35,696.00 529.68,695.42 530.02,681.88 530.35,686.12 530.68,686.77 531.01,685.69 531.35,687.56 531.68,689.25 532.01,682.44 532.35,685.59 532.68,687.07 533.01,679.56 533.35,676.47 533.68,684.21 534.01,677.31 534.35,679.28 534.68,678.19 535.01,670.26 535.34,668.09 535.68,661.38 536.01,673.96 536.34,672.12 536.68,668.99 537.01,671.28 537.34,658.74 537.67,661.51 538.01,661.31 538.34,656.36 538.67,668.73 539.01,664.45 539.34,660.97 539.67,649.86 540.01,663.88 540.34,675.90 540.67,668.39 541.00,678.48 541.34,664.52 541.67,661.80 542.00,649.72 542.34,644.46 542.67,643.71 543.00,634.48 543.34,635.95 543.67,639.97 544.00,648.48 544.34,652.87 544.67,645.24 545.00,639.74 545.33,654.43 545.67,646.89 546.00,655.75 546.33,651.96 546.67,653.32 547.00,662.87 547.33,666.59 547.66,665.32 548.00,662.17 548.33,669.98 548.66,668.09 549.00,674.95 549.33,662.85 549.66,659.36 550.00,658.50 550.33,662.52 550.66,656.53 551.00,651.49 551.33,646.08 551.66,651.89 551.99,654.55 552.33,656.53 552.66,654.63 552.99,667.15 553.33,657.97 553.66,655.05 553.99,649.74 554.32,646.04 554.66,641.09 554.99,647.79 555.32,658.37 555.66,652.19 555.99,650.70 556.32,662.22 556.66,660.84 556.99,654.41 557.32,656.39 557.65,656.29 557.99,651.95 558.32,657.29 558.65,648.87 558.99,647.75 559.32,654.05 559.65,661.06 559.99,652.45 560.32,645.37 560.65,656.90 560.98,648.96 561.32,656.69 561.65,648.76 561.98,651.98 562.32,646.54 562.65,656.87 562.98,648.64 563.32,643.17 563.65,645.21 563.98,641.87 564.31,643.85 564.65,635.21 564.98,636.16 565.31,639.16 565.65,641.90 565.98,629.53 566.31,628.26 566.65,631.35 566.98,629.17 567.31,639.66 567.64,642.52 567.98,635.56 568.31,635.12 568.64,643.09 568.98,647.49 569.31,645.09 569.64,656.82 569.98,659.34 570.31,659.88 570.64,659.71 570.98,650.87 571.31,652.01 571.64,662.42 571.97,661.07 572.31,655.88 572.64,660.26 572.97,668.11 573.31,654.75 573.64,661.79 573.97,658.71 574.31,657.40 574.64,651.67 574.97,659.17 575.30,655.91 575.64,660.69 575.97,660.93 576.30,665.67 576.64,656.10 576.97,652.55 577.30,653.55 577.64,649.54 577.97,656.64 578.30,655.48 578.63,659.55 578.97,657.84 579.30,657.99 579.63,653.50 579.97,662.03 580.30,654.32 580.63,658.40 580.97,655.89 581.30,666.62 581.63,661.32 581.96,648.01 582.30,649.71 582.63,662.49 582.96,656.77 583.30,655.63 583.63,657.44 583.96,656.25 584.30,649.46 584.63,648.38 584.96,649.56 585.29,646.65 585.63,644.22 585.96,645.74 586.29,652.92 586.63,655.38 586.96,649.10 587.29,654.97 587.63,645.37 587.96,650.00 588.29,650.02 588.62,653.89 588.96,650.61 589.29,643.16 589.62,646.81 589.96,654.82 590.29,643.91 590.62,654.39 590.96,661.05 591.29,663.10 591.62,648.17 591.95,652.00 592.29,648.01 592.62,651.72 592.95,648.38 593.29,648.79 593.62,647.55 593.95,646.52 594.29,647.92 594.62,644.77 594.95,642.10 595.28,649.37 595.62,639.44 595.95,639.48 596.28,643.21 596.62,637.23 596.95,646.44 597.28,627.36 597.62,633.32 597.95,635.18 598.28,641.15 598.61,628.25 598.95,628.04 599.28,632.93 599.61,627.94 599.95,628.21 600.28,634.24 600.61,636.50 600.95,633.57 601.28,634.19 601.61,641.57 601.94,634.17 602.28,630.43 602.61,642.25 602.94,638.60 603.28,644.10 603.61,641.49 603.94,642.64 604.28,646.99 604.61,653.03 604.94,652.21 605.27,651.88 605.61,652.88 605.94,649.70 606.27,649.84 606.61,647.08 606.94,642.45 607.27,652.05 607.61,647.93 607.94,649.90 608.27,644.00 608.60,636.29 608.94,634.04 609.27,646.33 609.60,639.40 609.94,638.72 610.27,644.73 610.60,643.26 610.94,639.84 611.27,645.20 611.60,641.34 611.93,638.33 612.27,641.05 612.60,638.57 612.93,638.22 613.27,629.79 613.60,631.23 613.93,636.32 614.27,642.24 614.60,643.91 614.93,639.22 615.26,649.63 615.60,646.03 615.93,648.65 616.26,641.75 616.60,630.55 616.93,640.32 617.26,642.25 617.60,645.52 617.93,638.04 618.26,634.59 618.59,640.95 618.93,638.08 619.26,638.74 619.59,634.58 619.93,634.47 620.26,642.73 620.59,635.85 620.93,641.63 621.26,641.78 621.59,635.15 621.92,645.92 622.26,634.77 622.59,637.88 622.92,639.58 623.26,634.05 623.59,633.00 623.92,644.67 624.26,646.81 624.59,644.86 624.92,642.42 625.25,654.62 625.59,647.99 625.92,658.10 626.25,655.06 626.59,660.44 626.92,665.84 627.25,657.40 627.59,660.37 627.92,652.13 628.25,659.63 628.58,665.94 628.92,663.85 629.25,654.92 629.58,664.63 629.92,657.57 630.25,662.82 630.58,665.33 630.92,664.57 631.25,659.18 631.58,655.31 631.91,650.17 632.25,650.39 632.58,651.54 632.91,653.74 633.25,655.37 633.58,651.41 633.91,656.74 634.25,657.89 634.58,655.62 634.91,651.22 635.24,656.07 635.58,654.23 635.91,656.30 636.24,653.94 636.58,660.81 636.91,649.84 637.24,644.27 637.58,643.91 637.91,647.17 638.24,641.09 638.57,642.38 638.91,643.83 639.24,632.65 639.57,630.62 639.91,645.34 640.24,645.62 640.57,641.28 640.91,644.53 641.24,641.67 641.57,638.30 641.90,648.06 642.24,646.96 642.57,653.15 642.90,659.25 643.24,649.07 643.57,657.25 643.90,651.59 644.24,650.09 644.57,642.24 644.90,639.48 645.23,640.18 645.57,637.58 645.90,639.52 646.23,641.92 646.57,636.64 646.90,626.17 647.23,640.55 647.57,633.07 647.90,628.03 648.23,638.29 648.56,635.07 648.90,640.47 649.23,639.48 649.56,636.04 649.90,642.70 650.23,631.70 650.56,631.39 650.90,633.32 651.23,640.89 651.56,635.14 651.89,629.24 652.23,628.45 652.56,633.59 652.89,641.75 653.23,640.97 653.56,638.16 653.89,629.67 654.23,638.18 654.56,638.45 654.89,641.81 655.22,645.78 655.56,643.28 655.89,646.51 656.22,643.31 656.56,647.63 656.89,639.39 657.22,643.34 657.56,643.97 657.89,635.83 658.22,644.16 658.55,643.02 658.89,647.45 659.22,642.50 659.55,649.29 659.89,652.64 660.22,646.58 660.55,651.54 660.89,650.15 661.22,652.46 661.55,657.42 661.88,651.35 662.22,652.76 662.55,653.33 662.88,643.03 663.22,644.99 663.55,642.47 663.88,645.50 664.22,644.07 664.55,639.80 664.88,651.61 665.21,639.27 665.55,636.31 665.88,636.54 666.21,641.14 666.55,642.14 666.88,642.49 667.21,643.36 667.55,641.26 667.88,634.27 668.21,640.74 668.54,646.32 668.88,644.66 669.21,647.82 669.54,648.53 669.88,652.41 670.21,647.75 670.54,647.12 670.88,645.10 671.21,645.74 671.54,652.16 671.87,644.00 672.21,649.16 672.54,657.61 672.87,647.07 673.21,651.81 673.54,641.46 673.87,649.28 674.21,643.08 674.54,640.14 674.87,654.14 675.20,656.82 675.54,647.29 675.87,649.07 676.20,641.72 676.54,647.64 676.87,646.34 677.20,643.23 677.54,644.14 677.87,646.18 678.20,648.05 678.53,655.26 678.87,649.28" fill="none" stroke="#a8a8f6" stroke-width="0.8" stroke-linejoin="round"/>
<polyline points="512.70,708.71 513.03,697.44 513.37,696.39 513.70,693.89 514.03,702.96 514.37,696.41 514.70,693.95 515.03,691.93 515.36,693.35 515.70,691.57 516.03,691.85 516.36,698.78 516.70,693.27 517.03,694.38 517.36,690.81 517.70,688.98 518.03,695.57 518.36,693.19 518.69,693.10 519.03,698.42 519.36,696.41 519.69,704.56 520.03,695.19 520.36,702.53 520.69,702.06 521.03,698.20 521.36,703.76 521.69,703.65 522.02,701.63 522.36,699.73 522.69,705.22 523.02,704.86 523.36,700.79 523.69,697.57 524.02,700.25 524.36,704.64 524.69,698.00 525.02,697.48 525.35,693.92 525.69,693.12 526.02,694.11 526.35,696.41 526.69,697.48 527.02,690.56 527.35,692.69 527.69,689.69 528.02,688.42 528.35,693.18 528.68,688.25 529.02,693.23 529.35,693.86 529.68,687.44 530.02,689.58 530.35,686.53 530.68,690.62 531.01,685.01 531.35,684.12 531.68,685.76 532.01,686.24 532.35,690.64 532.68,685.19 533.01,683.60 533.35,674.76 533.68,675.46 534.01,669.39 534.35,671.75 534.68,670.95 535.01,670.07 535.34,669.26 535.68,670.95 536.01,670.21 536.34,667.96 536.68,669.04 537.01,664.89 537.34,663.92 537.67,660.35 538.01,660.02 538.34,659.56 538.67,658.67 539.01,657.31 539.34,654.05 539.67,657.57 540.01,663.98 540.34,668.82 540.67,673.50 541.00,673.11 541.34,670.16 541.67,664.04 542.00,655.80 542.34,645.44 542.67,644.44 543.00,636.12 543.34,639.50 543.67,640.44 544.00,643.85 544.34,645.80 544.67,642.05 545.00,648.87 545.33,645.59 545.67,642.63 546.00,642.63 546.33,648.45 546.67,652.48 547.00,652.51 547.33,660.58 547.66,662.31 548.00,661.44 548.33,666.49 548.66,672.82 549.00,674.60 549.33,670.99 549.66,666.59 550.00,656.03 550.33,654.12 550.66,651.97 551.00,657.93 551.33,656.65 551.66,656.28 551.99,653.48 552.33,652.84 552.66,651.58 552.99,652.69 553.33,650.37 553.66,658.45 553.99,654.41 554.32,657.89 554.66,656.35 554.99,655.99 555.32,656.67 555.66,652.71 555.99,650.37 556.32,656.00 556.66,657.71 556.99,658.60 557.32,655.41 557.65,654.81 557.99,654.41 558.32,651.99 558.65,658.40 558.99,655.47 559.32,659.64 559.65,655.89 559.99,655.81 560.32,650.70 560.65,654.46 560.98,651.11 561.32,650.66 561.65,648.38 561.98,647.96 562.32,648.15 562.65,650.33 562.98,647.97 563.32,647.10 563.65,647.73 563.98,646.21 564.31,639.29 564.65,634.99 564.98,636.53 565.31,633.23 565.65,635.46 565.98,632.52 566.31,629.58 566.65,633.13 566.98,638.81 567.31,638.57 567.64,640.52 567.98,637.42 568.31,644.01 568.64,640.43 568.98,647.56 569.31,648.58 569.64,649.39 569.98,649.22 570.31,648.52 570.64,654.32 570.98,656.94 571.31,654.16 571.64,654.85 571.97,657.73 572.31,660.14 572.64,660.38 572.97,661.54 573.31,657.29 573.64,657.45 573.97,666.16 574.31,657.46 574.64,655.91 574.97,655.06 575.30,655.23 575.64,663.09 575.97,665.32 576.30,660.27 576.64,666.61 576.97,661.51 577.30,665.10 577.64,656.35 577.97,660.56 578.30,661.80 578.63,658.81 578.97,665.08 579.30,664.49 579.63,662.30 579.97,659.21 580.30,660.74 580.63,663.94 580.97,659.96 581.30,660.12 581.63,664.24 581.96,659.71 582.30,661.09 582.63,655.79 582.96,657.94 583.30,656.71 583.63,652.59 583.96,650.44 584.30,651.83 584.63,652.12 584.96,646.11 585.29,649.50 585.63,651.23 585.96,654.51 586.29,653.30 586.63,646.31 586.96,644.32 587.29,644.68 587.63,645.60 587.96,649.81 588.29,643.59 588.62,650.24 588.96,649.76 589.29,650.47 589.62,652.18 589.96,647.44 590.29,647.25 590.62,654.22 590.96,655.38 591.29,651.35 591.62,650.01 591.95,655.81 592.29,658.44 592.62,655.76 592.95,652.00 593.29,650.96 593.62,650.34 593.95,651.10 594.29,652.66 594.62,640.95 594.95,645.86 595.28,645.60 595.62,643.93 595.95,639.25 596.28,640.80 596.62,633.69 596.95,638.26 597.28,640.55 597.62,640.29 597.95,635.92 598.28,635.73 598.61,637.64 598.95,637.05 599.28,639.32 599.61,633.95 599.95,636.10 600.28,632.02 600.61,630.22 600.95,633.93 601.28,641.75 601.61,639.91 601.94,638.51 602.28,638.86 602.61,642.02 602.94,635.85 603.28,636.62 603.61,638.10 603.94,639.84 604.28,639.57 604.61,646.69 604.94,643.43 605.27,647.90 605.61,647.02 605.94,645.85 606.27,645.79 606.61,643.59 606.94,642.24 607.27,640.71 607.61,642.36 607.94,638.55 608.27,641.31 608.60,641.13 608.94,641.32 609.27,644.31 609.60,637.26 609.94,637.22 610.27,637.15 610.60,635.70 610.94,635.09 611.27,643.52 611.60,636.88 611.93,639.29 612.27,640.03 612.60,638.64 612.93,634.00 613.27,631.47 613.60,631.68 613.93,636.72 614.27,639.35 614.60,640.23 614.93,635.81 615.26,640.92 615.60,641.62 615.93,645.18 616.26,649.98 616.60,645.33 616.93,644.15 617.26,639.79 617.60,642.55 617.93,645.96 618.26,642.09 618.59,644.37 618.93,646.24 619.26,647.92 619.59,640.75 619.93,644.19 620.26,644.19 620.59,645.60 620.93,636.92 621.26,641.01 621.59,632.27 621.92,638.22 622.26,640.01 622.59,632.72 622.92,637.67 623.26,643.28 623.59,643.95 623.92,647.00 624.26,643.08 624.59,641.49 624.92,647.78 625.25,644.77 625.59,642.01 625.92,645.34 626.25,651.71 626.59,649.42 626.92,655.60 627.25,656.66 627.59,662.32 627.92,658.66 628.25,658.21 628.58,664.58 628.92,666.08 629.25,663.57 629.58,661.35 629.92,656.51 630.25,658.82 630.58,664.82 630.92,657.97 631.25,661.99 631.58,658.28 631.91,655.75 632.25,659.13 632.58,660.31 632.91,656.99 633.25,653.42 633.58,651.67 633.91,653.76 634.25,656.73 634.58,655.75 634.91,645.50 635.24,648.06 635.58,652.42 635.91,650.32 636.24,644.77 636.58,643.92 636.91,646.10 637.24,645.42 637.58,644.20 637.91,649.45 638.24,651.60 638.57,643.71 638.91,643.91 639.24,635.38 639.57,637.66 639.91,643.02 640.24,642.23 640.57,642.79 640.91,633.00 641.24,639.36 641.57,642.08 641.90,638.15 642.24,642.27 642.57,643.50 642.90,650.64 643.24,645.85 643.57,644.95 643.90,645.45 644.24,648.10 644.57,642.15 644.90,641.93 645.23,643.03 645.57,640.92 645.90,640.06 646.23,639.44 646.57,631.76 646.90,634.20 647.23,631.53 647.57,632.26 647.90,628.44 648.23,630.62 648.56,636.59 648.90,634.65 649.23,636.99 649.56,636.69 649.90,637.93 650.23,634.12 650.56,637.24 650.90,636.87 651.23,636.96 651.56,637.02 651.89,641.67 652.23,634.60 652.56,633.09 652.89,639.77 653.23,643.31 653.56,642.10 653.89,647.64 654.23,636.76 654.56,638.27 654.89,639.97 655.22,641.72 655.56,641.43 655.89,641.00 656.22,641.76 656.56,640.40 656.89,640.61 657.22,640.22 657.56,643.37 657.89,640.80 658.22,643.10 658.55,642.56 658.89,646.51 659.22,645.67 659.55,648.96 659.89,645.33 660.22,645.72 660.55,646.83 660.89,647.36 661.22,646.69 661.55,644.62 661.88,648.06 662.22,646.10 662.55,647.07 662.88,647.14 663.22,649.48 663.55,651.11 663.88,644.70 664.22,649.05 664.55,643.04 664.88,641.60 665.21,644.94 665.55,646.92 665.88,637.78 666.21,636.66 666.55,643.91 666.88,643.38 667.21,640.90 667.55,641.95 667.88,643.15 668.21,642.50 668.54,644.52 668.88,640.88 669.21,647.21 669.54,646.65 669.88,643.21 670.21,644.22 670.54,649.74 670.88,648.52 671.21,649.51 671.54,653.09 671.87,646.87 672.21,647.24 672.54,644.04 672.87,648.50 673.21,645.47 673.54,651.92 673.87,647.76 674.21,646.70 674.54,654.04 674.87,646.36 675.20,643.87 675.54,641.93 675.87,637.98 676.20,643.29 676.54,646.68 676.87,646.80 677.20,648.82 677.54,644.55 677.87,639.78 678.20,639.72 678.53,641.45 678.87,643.74" fill="none" stroke="#3030ee" stroke-width="1.0" stroke-linejoin="round"/>
<line x1="514.80" y1="617.70" x2="530.30" y2="617.70" stroke="#e82020" stroke-width="0.8"/>
<text x="532.30" y="620.55" font-size="6.6" text-anchor="start" fill="#444" stroke="#444" stroke-width="0.22" transform="translate(0 620.55) scale(1 1.1) translate(0 -620.55)">ZBP1-RNF180</text>
<line x1="514.80" y1="627.40" x2="530.30" y2="627.40" stroke="#2a2ae8" stroke-width="0.8"/>
<text x="532.3" y="630" font-size="6.6" fill="#444" stroke="#444" stroke-width="0.15">ZBP1<tspan font-size="4" dy="-2.6">KLX</tspan><tspan dy="2.6">-RNF180</tspan></text>
</svg>
</body></html>
